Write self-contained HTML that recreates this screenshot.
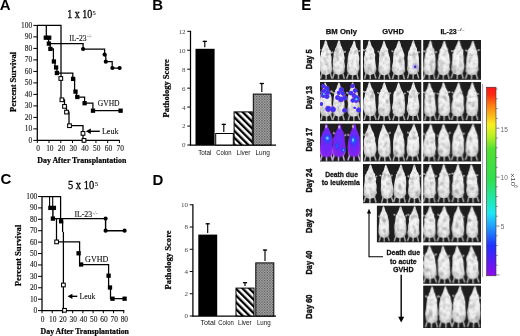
<!DOCTYPE html>
<html><head><meta charset="utf-8"><style>
html,body{margin:0;padding:0;background:#fff;width:520px;height:336px;overflow:hidden}
svg{display:block;will-change:transform}
.S{font-family:"Liberation Serif",serif}
.A{font-family:"Liberation Sans",sans-serif}
</style></head><body>
<svg width="520" height="336" viewBox="0 0 520 336">
<defs>
<pattern id="stripe" patternUnits="userSpaceOnUse" width="4.8" height="4.8" patternTransform="rotate(-45)">
<rect width="4.8" height="4.8" fill="#fff"/><rect width="2.3" height="4.8" fill="#000"/></pattern>
<pattern id="dots" patternUnits="userSpaceOnUse" width="1.6" height="1.6">
<rect width="1.6" height="1.6" fill="#b8b8b8"/><rect width="0.8" height="0.8" fill="#4a4a4a"/><rect x="0.8" y="0.8" width="0.8" height="0.8" fill="#6a6a6a"/></pattern>
<radialGradient id="tx"><stop offset="0" stop-color="#000" stop-opacity="0.8"/><stop offset="1" stop-color="#000" stop-opacity="0"/></radialGradient>
<radialGradient id="mg" cx="0.5" cy="0.48" r="0.62"><stop offset="0" stop-color="#fafafa"/><stop offset="0.6" stop-color="#eeeeee"/><stop offset="0.85" stop-color="#d0d0d0"/><stop offset="1" stop-color="#949494"/></radialGradient>
<radialGradient id="mp" cx="0.5" cy="0.5" r="0.6"><stop offset="0" stop-color="#6030ff"/><stop offset="0.55" stop-color="#7424f4"/><stop offset="0.88" stop-color="#8a26ee"/><stop offset="1" stop-color="#c070e8"/></radialGradient>
<radialGradient id="bb"><stop offset="0" stop-color="#2a4cff"/><stop offset="0.45" stop-color="#3430f6"/><stop offset="0.75" stop-color="#7030ec" stop-opacity="0.92"/><stop offset="1" stop-color="#b070e8" stop-opacity="0"/></radialGradient>
<radialGradient id="bb2"><stop offset="0" stop-color="#2f5cff"/><stop offset="0.7" stop-color="#3838f8" stop-opacity="0.8"/><stop offset="1" stop-color="#5030f0" stop-opacity="0"/></radialGradient>
<radialGradient id="bl"><stop offset="0" stop-color="#8a70e8" stop-opacity="0.8"/><stop offset="0.6" stop-color="#a090e8" stop-opacity="0.5"/><stop offset="1" stop-color="#c0b0f0" stop-opacity="0"/></radialGradient>
<radialGradient id="bd"><stop offset="0" stop-color="#1a1a90"/><stop offset="0.6" stop-color="#3a30b0" stop-opacity="0.8"/><stop offset="1" stop-color="#5040c0" stop-opacity="0"/></radialGradient>
<radialGradient id="wp"><stop offset="0" stop-color="#f0d8f0"/><stop offset="0.6" stop-color="#d8a8f0" stop-opacity="0.7"/><stop offset="1" stop-color="#b080f0" stop-opacity="0"/></radialGradient>
<radialGradient id="bc"><stop offset="0" stop-color="#8ef0ff"/><stop offset="0.5" stop-color="#40b8ff"/><stop offset="1" stop-color="#3060ff" stop-opacity="0"/></radialGradient>
<linearGradient id="cb" x1="0" y1="0" x2="0" y2="1">
<stop offset="0" stop-color="#ff1414"/><stop offset="0.04" stop-color="#ff2a12"/><stop offset="0.095" stop-color="#ff7a12"/>
<stop offset="0.2" stop-color="#f8f020"/><stop offset="0.26" stop-color="#b8f024"/><stop offset="0.33" stop-color="#50e030"/>
<stop offset="0.49" stop-color="#30e050"/><stop offset="0.6" stop-color="#20e8b0"/><stop offset="0.667" stop-color="#20e8f4"/>
<stop offset="0.73" stop-color="#20a8ff"/><stop offset="0.84" stop-color="#2030ff"/><stop offset="0.97" stop-color="#7a10f0"/><stop offset="1" stop-color="#8a10e8"/></linearGradient>
<filter id="fur" x="0" y="0" width="100%" height="100%" color-interpolation-filters="sRGB">
<feTurbulence type="fractalNoise" baseFrequency="0.3" numOctaves="2" seed="4" result="n"/>
<feColorMatrix in="n" type="matrix" values="0 0 0 0 0  0 0 0 0 0  0 0 0 0 0  0.42 0 0 0 -0.19" result="a"/>
<feComposite in="a" in2="SourceAlpha" operator="in" result="d"/>
<feMerge><feMergeNode in="SourceGraphic"/><feMergeNode in="d"/></feMerge>
</filter>
<path id="mouse" d="M0.3,0.0C0.4,0.2 0.8,0.7 0.9,1.0C1.1,1.3 1.1,1.7 1.2,2.0C1.3,2.3 1.4,2.7 1.5,3.0C1.6,3.3 1.7,3.7 1.8,4.0C1.9,4.3 2.0,4.7 2.1,5.0C2.2,5.3 2.4,5.7 2.5,6.0C2.6,6.3 2.8,6.7 3.0,7.0C3.2,7.3 3.3,7.7 3.5,8.0C3.7,8.3 3.9,8.7 4.0,9.0C4.2,9.3 4.2,9.5 4.4,10.0C4.6,10.5 4.8,11.3 4.9,12.0C5.1,12.7 5.2,13.2 5.3,14.0C5.4,14.8 5.5,15.8 5.6,17.0C5.7,18.2 5.8,19.7 5.9,21.0C6.0,22.3 6.2,23.8 6.2,25.0C6.2,26.2 6.2,27.2 6.2,28.0C6.2,28.8 6.1,29.4 5.9,30.0C5.7,30.6 5.5,31.1 5.2,31.5C4.9,31.9 4.6,32.2 4.2,32.5C3.8,32.8 3.2,33.1 2.6,33.3C2.0,33.5 1.1,33.7 0.6,33.8C0.1,33.9 -0.1,33.9 -0.6,33.8C-1.1,33.7 -2.0,33.5 -2.6,33.3C-3.2,33.1 -3.8,32.8 -4.2,32.5C-4.6,32.2 -4.9,31.9 -5.2,31.5C-5.5,31.1 -5.7,30.6 -5.9,30.0C-6.1,29.4 -6.2,28.8 -6.2,28.0C-6.2,27.2 -6.2,26.2 -6.2,25.0C-6.2,23.8 -6.0,22.3 -5.9,21.0C-5.8,19.7 -5.7,18.2 -5.6,17.0C-5.5,15.8 -5.4,14.8 -5.3,14.0C-5.2,13.2 -5.1,12.7 -4.9,12.0C-4.8,11.3 -4.6,10.5 -4.4,10.0C-4.2,9.5 -4.2,9.3 -4.0,9.0C-3.9,8.7 -3.7,8.3 -3.5,8.0C-3.3,7.7 -3.2,7.3 -3.0,7.0C-2.8,6.7 -2.6,6.3 -2.5,6.0C-2.4,5.7 -2.2,5.3 -2.1,5.0C-2.0,4.7 -1.9,4.3 -1.8,4.0C-1.7,3.7 -1.6,3.3 -1.5,3.0C-1.4,2.7 -1.3,2.3 -1.2,2.0C-1.1,1.7 -1.1,1.3 -0.9,1.0C-0.8,0.7 -0.4,0.2 -0.3,0.0Z"/>
</defs>
<text class="A" x="-0.2" y="9.6" font-size="15" font-weight="bold" text-anchor="start" fill="#000" >A</text>
<text class="A" x="152.2" y="10.2" font-size="15" font-weight="bold" text-anchor="start" fill="#000" >B</text>
<text class="A" x="0.6" y="183.6" font-size="15" font-weight="bold" text-anchor="start" fill="#000" >C</text>
<text class="A" x="152.6" y="184.5" font-size="15" font-weight="bold" text-anchor="start" fill="#000" >D</text>
<text class="A" x="301.3" y="10.2" font-size="15" font-weight="bold" text-anchor="start" fill="#000" >E</text>
<line x1="37.3" y1="24.9" x2="37.3" y2="140.9" stroke="#000" stroke-width="1.25"/>
<line x1="36.8" y1="140.4" x2="119.8" y2="140.4" stroke="#000" stroke-width="1.25"/>
<line x1="33.3" y1="140.4" x2="37.3" y2="140.4" stroke="#000" stroke-width="1"/>
<text class="S" x="32.2" y="142.9" font-size="7.4" font-weight="normal" text-anchor="end" fill="#1a1a1a" stroke="#1a1a1a" stroke-width="0.12">0</text>
<line x1="33.3" y1="128.9" x2="37.3" y2="128.9" stroke="#000" stroke-width="1"/>
<text class="S" x="32.2" y="131.4" font-size="7.4" font-weight="normal" text-anchor="end" fill="#1a1a1a" stroke="#1a1a1a" stroke-width="0.12">10</text>
<line x1="33.3" y1="117.4" x2="37.3" y2="117.4" stroke="#000" stroke-width="1"/>
<text class="S" x="32.2" y="119.9" font-size="7.4" font-weight="normal" text-anchor="end" fill="#1a1a1a" stroke="#1a1a1a" stroke-width="0.12">20</text>
<line x1="33.3" y1="105.9" x2="37.3" y2="105.9" stroke="#000" stroke-width="1"/>
<text class="S" x="32.2" y="108.4" font-size="7.4" font-weight="normal" text-anchor="end" fill="#1a1a1a" stroke="#1a1a1a" stroke-width="0.12">30</text>
<line x1="33.3" y1="94.4" x2="37.3" y2="94.4" stroke="#000" stroke-width="1"/>
<text class="S" x="32.2" y="96.9" font-size="7.4" font-weight="normal" text-anchor="end" fill="#1a1a1a" stroke="#1a1a1a" stroke-width="0.12">40</text>
<line x1="33.3" y1="82.9" x2="37.3" y2="82.9" stroke="#000" stroke-width="1"/>
<text class="S" x="32.2" y="85.4" font-size="7.4" font-weight="normal" text-anchor="end" fill="#1a1a1a" stroke="#1a1a1a" stroke-width="0.12">50</text>
<line x1="33.3" y1="71.4" x2="37.3" y2="71.4" stroke="#000" stroke-width="1"/>
<text class="S" x="32.2" y="73.9" font-size="7.4" font-weight="normal" text-anchor="end" fill="#1a1a1a" stroke="#1a1a1a" stroke-width="0.12">60</text>
<line x1="33.3" y1="59.900000000000006" x2="37.3" y2="59.900000000000006" stroke="#000" stroke-width="1"/>
<text class="S" x="32.2" y="62.400000000000006" font-size="7.4" font-weight="normal" text-anchor="end" fill="#1a1a1a" stroke="#1a1a1a" stroke-width="0.12">70</text>
<line x1="33.3" y1="48.400000000000006" x2="37.3" y2="48.400000000000006" stroke="#000" stroke-width="1"/>
<text class="S" x="32.2" y="50.900000000000006" font-size="7.4" font-weight="normal" text-anchor="end" fill="#1a1a1a" stroke="#1a1a1a" stroke-width="0.12">80</text>
<line x1="33.3" y1="36.900000000000006" x2="37.3" y2="36.900000000000006" stroke="#000" stroke-width="1"/>
<text class="S" x="32.2" y="39.400000000000006" font-size="7.4" font-weight="normal" text-anchor="end" fill="#1a1a1a" stroke="#1a1a1a" stroke-width="0.12">90</text>
<line x1="33.3" y1="25.400000000000006" x2="37.3" y2="25.400000000000006" stroke="#000" stroke-width="1"/>
<text class="S" x="32.2" y="27.900000000000006" font-size="7.4" font-weight="normal" text-anchor="end" fill="#1a1a1a" stroke="#1a1a1a" stroke-width="0.12">100</text>
<line x1="37.3" y1="140.4" x2="37.3" y2="143.0" stroke="#000" stroke-width="1"/>
<text class="S" x="38.099999999999994" y="151.4" font-size="7.4" font-weight="normal" text-anchor="middle" fill="#1a1a1a" stroke="#1a1a1a" stroke-width="0.12">0</text>
<line x1="49.03" y1="140.4" x2="49.03" y2="143.0" stroke="#000" stroke-width="1"/>
<text class="S" x="49.83" y="151.4" font-size="7.4" font-weight="normal" text-anchor="middle" fill="#1a1a1a" stroke="#1a1a1a" stroke-width="0.12">10</text>
<line x1="60.76" y1="140.4" x2="60.76" y2="143.0" stroke="#000" stroke-width="1"/>
<text class="S" x="61.559999999999995" y="151.4" font-size="7.4" font-weight="normal" text-anchor="middle" fill="#1a1a1a" stroke="#1a1a1a" stroke-width="0.12">20</text>
<line x1="72.49" y1="140.4" x2="72.49" y2="143.0" stroke="#000" stroke-width="1"/>
<text class="S" x="73.28999999999999" y="151.4" font-size="7.4" font-weight="normal" text-anchor="middle" fill="#1a1a1a" stroke="#1a1a1a" stroke-width="0.12">30</text>
<line x1="84.22" y1="140.4" x2="84.22" y2="143.0" stroke="#000" stroke-width="1"/>
<text class="S" x="85.02" y="151.4" font-size="7.4" font-weight="normal" text-anchor="middle" fill="#1a1a1a" stroke="#1a1a1a" stroke-width="0.12">40</text>
<line x1="95.95" y1="140.4" x2="95.95" y2="143.0" stroke="#000" stroke-width="1"/>
<text class="S" x="96.75" y="151.4" font-size="7.4" font-weight="normal" text-anchor="middle" fill="#1a1a1a" stroke="#1a1a1a" stroke-width="0.12">50</text>
<line x1="107.67999999999999" y1="140.4" x2="107.67999999999999" y2="143.0" stroke="#000" stroke-width="1"/>
<text class="S" x="108.47999999999999" y="151.4" font-size="7.4" font-weight="normal" text-anchor="middle" fill="#1a1a1a" stroke="#1a1a1a" stroke-width="0.12">60</text>
<line x1="119.41" y1="140.4" x2="119.41" y2="143.0" stroke="#000" stroke-width="1"/>
<text class="S" x="120.21" y="151.4" font-size="7.4" font-weight="normal" text-anchor="middle" fill="#1a1a1a" stroke="#1a1a1a" stroke-width="0.12">70</text>
<text class="S" x="37.3" y="162.7" font-size="8.3" font-weight="bold" text-anchor="start" fill="#000" textLength="89" lengthAdjust="spacingAndGlyphs" stroke="#000" stroke-width="0.22">Day After Transplantation</text>
<g transform="translate(16.2,112) rotate(-90)">
<text class="S" x="0" y="0" font-size="8.6" font-weight="bold" text-anchor="start" fill="#000" textLength="60" lengthAdjust="spacingAndGlyphs" stroke="#000" stroke-width="0.22">Percent Survival</text>
</g>
<text class="S" x="67.2" y="17.9" font-size="12" font-weight="normal" text-anchor="start" fill="#000" textLength="25.0" lengthAdjust="spacingAndGlyphs" stroke="#000" stroke-width="0.3">1 x 10</text>
<text class="S" x="92.6" y="14.9" font-size="6.4" font-weight="normal" text-anchor="start" fill="#222" stroke="#222" stroke-width="0.15">5</text>
<path d="M37.3,25.4 H61 V99.8 H64.5 V106.4 H66.5 V112.1 H69 V125.7 H83 V140.4" stroke="#000" stroke-width="1.25" fill="none" />
<path d="M46.3,25.4 V37.7 H48.7 V43.7 H50.2 V48.9 H53.4 V61.5 H55 V67.5 H56.9 V73 H72.8 V79 H74.6 V91.6 H76.5 V97 H84.6 V103.2 H92.9 V110.7 H120.6" stroke="#000" stroke-width="1.25" fill="none" />
<path d="M48.7,43.7 H83.1 V49 H104.6 V54.6 H105.8 V61.7 H112.2 V68 H119.6" stroke="#000" stroke-width="1.25" fill="none" />
<rect x="43.65" y="35.55" width="4.3" height="4.3" fill="#000"/>
<rect x="47.05" y="35.55" width="4.3" height="4.3" fill="#000"/>
<rect x="46.75" y="41.45" width="4.3" height="4.3" fill="#000"/>
<rect x="48.25" y="46.75" width="4.3" height="4.3" fill="#000"/>
<rect x="51.75" y="59.35" width="4.3" height="4.3" fill="#000"/>
<rect x="53.95" y="65.35" width="4.3" height="4.3" fill="#000"/>
<rect x="54.75" y="70.85" width="4.3" height="4.3" fill="#000"/>
<rect x="70.95" y="76.75" width="4.3" height="4.3" fill="#000"/>
<rect x="73.35" y="89.45" width="4.3" height="4.3" fill="#000"/>
<rect x="75.15" y="94.85" width="4.3" height="4.3" fill="#000"/>
<rect x="82.45" y="101.05" width="4.3" height="4.3" fill="#000"/>
<rect x="90.85" y="108.55" width="4.3" height="4.3" fill="#000"/>
<rect x="118.45" y="108.55" width="4.3" height="4.3" fill="#000"/>
<circle cx="83.1" cy="49" r="2.1" fill="#000"/>
<circle cx="104.6" cy="54.6" r="2.1" fill="#000"/>
<circle cx="105.8" cy="61.7" r="2.1" fill="#000"/>
<circle cx="112.4" cy="68" r="2.1" fill="#000"/>
<circle cx="119.6" cy="68" r="2.1" fill="#000"/>
<rect x="58.95" y="76.65" width="3.7" height="3.7" fill="#fff" stroke="#000" stroke-width="1.05"/>
<rect x="60.05" y="97.95" width="3.7" height="3.7" fill="#fff" stroke="#000" stroke-width="1.05"/>
<rect x="62.65" y="104.55" width="3.7" height="3.7" fill="#fff" stroke="#000" stroke-width="1.05"/>
<rect x="64.65" y="110.25" width="3.7" height="3.7" fill="#fff" stroke="#000" stroke-width="1.05"/>
<rect x="67.65" y="123.85" width="3.7" height="3.7" fill="#fff" stroke="#000" stroke-width="1.05"/>
<rect x="81.15" y="131.55" width="3.7" height="3.7" fill="#fff" stroke="#000" stroke-width="1.05"/>
<rect x="82.15" y="138.55" width="3.7" height="3.7" fill="#fff" stroke="#000" stroke-width="1.05"/>
<text class="S" x="69.2" y="40.8" font-size="8.6" font-weight="normal" text-anchor="start" fill="#222" textLength="17.3" lengthAdjust="spacingAndGlyphs" stroke="#222" stroke-width="0.15">IL-23</text>
<text class="S" x="87.0" y="37.6" font-size="5.6" font-weight="normal" text-anchor="start" fill="#555" textLength="4.8" lengthAdjust="spacingAndGlyphs" >-/-</text>
<text class="S" x="97.7" y="106.2" font-size="8.6" font-weight="normal" text-anchor="start" fill="#111" textLength="21.9" lengthAdjust="spacingAndGlyphs" stroke="#111" stroke-width="0.12">GVHD</text>
<text class="S" x="101.9" y="134.3" font-size="8.6" font-weight="normal" text-anchor="start" fill="#111" textLength="16.6" lengthAdjust="spacingAndGlyphs" stroke="#111" stroke-width="0.12">Leuk</text>
<line x1="89" y1="131.3" x2="99.8" y2="131.3" stroke="#000" stroke-width="1.4"/>
<path d="M85.8,131.3 L90.8,128.6 L90.8,134 Z" fill="#000"/>
<line x1="42" y1="196.0" x2="42" y2="311.1" stroke="#000" stroke-width="1.25"/>
<line x1="41.5" y1="310.6" x2="124.3" y2="310.6" stroke="#000" stroke-width="1.25"/>
<line x1="38" y1="310.6" x2="42" y2="310.6" stroke="#000" stroke-width="1"/>
<text class="S" x="37.3" y="313.1" font-size="7.4" font-weight="normal" text-anchor="end" fill="#1a1a1a" stroke="#1a1a1a" stroke-width="0.12">0</text>
<line x1="38" y1="299.19" x2="42" y2="299.19" stroke="#000" stroke-width="1"/>
<text class="S" x="37.3" y="301.69" font-size="7.4" font-weight="normal" text-anchor="end" fill="#1a1a1a" stroke="#1a1a1a" stroke-width="0.12">10</text>
<line x1="38" y1="287.78000000000003" x2="42" y2="287.78000000000003" stroke="#000" stroke-width="1"/>
<text class="S" x="37.3" y="290.28000000000003" font-size="7.4" font-weight="normal" text-anchor="end" fill="#1a1a1a" stroke="#1a1a1a" stroke-width="0.12">20</text>
<line x1="38" y1="276.37" x2="42" y2="276.37" stroke="#000" stroke-width="1"/>
<text class="S" x="37.3" y="278.87" font-size="7.4" font-weight="normal" text-anchor="end" fill="#1a1a1a" stroke="#1a1a1a" stroke-width="0.12">30</text>
<line x1="38" y1="264.96000000000004" x2="42" y2="264.96000000000004" stroke="#000" stroke-width="1"/>
<text class="S" x="37.3" y="267.46000000000004" font-size="7.4" font-weight="normal" text-anchor="end" fill="#1a1a1a" stroke="#1a1a1a" stroke-width="0.12">40</text>
<line x1="38" y1="253.55" x2="42" y2="253.55" stroke="#000" stroke-width="1"/>
<text class="S" x="37.3" y="256.05" font-size="7.4" font-weight="normal" text-anchor="end" fill="#1a1a1a" stroke="#1a1a1a" stroke-width="0.12">50</text>
<line x1="38" y1="242.14000000000001" x2="42" y2="242.14000000000001" stroke="#000" stroke-width="1"/>
<text class="S" x="37.3" y="244.64000000000001" font-size="7.4" font-weight="normal" text-anchor="end" fill="#1a1a1a" stroke="#1a1a1a" stroke-width="0.12">60</text>
<line x1="38" y1="230.73000000000002" x2="42" y2="230.73000000000002" stroke="#000" stroke-width="1"/>
<text class="S" x="37.3" y="233.23000000000002" font-size="7.4" font-weight="normal" text-anchor="end" fill="#1a1a1a" stroke="#1a1a1a" stroke-width="0.12">70</text>
<line x1="38" y1="219.32" x2="42" y2="219.32" stroke="#000" stroke-width="1"/>
<text class="S" x="37.3" y="221.82" font-size="7.4" font-weight="normal" text-anchor="end" fill="#1a1a1a" stroke="#1a1a1a" stroke-width="0.12">80</text>
<line x1="38" y1="207.91000000000003" x2="42" y2="207.91000000000003" stroke="#000" stroke-width="1"/>
<text class="S" x="37.3" y="210.41000000000003" font-size="7.4" font-weight="normal" text-anchor="end" fill="#1a1a1a" stroke="#1a1a1a" stroke-width="0.12">90</text>
<line x1="38" y1="196.5" x2="42" y2="196.5" stroke="#000" stroke-width="1"/>
<text class="S" x="37.3" y="199.0" font-size="7.4" font-weight="normal" text-anchor="end" fill="#1a1a1a" stroke="#1a1a1a" stroke-width="0.12">100</text>
<line x1="42.0" y1="310.6" x2="42.0" y2="313.20000000000005" stroke="#000" stroke-width="1"/>
<text class="S" x="42.6" y="322" font-size="7.4" font-weight="normal" text-anchor="middle" fill="#1a1a1a" stroke="#1a1a1a" stroke-width="0.12">0</text>
<line x1="52.22" y1="310.6" x2="52.22" y2="313.20000000000005" stroke="#000" stroke-width="1"/>
<text class="S" x="52.82" y="322" font-size="7.4" font-weight="normal" text-anchor="middle" fill="#1a1a1a" stroke="#1a1a1a" stroke-width="0.12">10</text>
<line x1="62.44" y1="310.6" x2="62.44" y2="313.20000000000005" stroke="#000" stroke-width="1"/>
<text class="S" x="63.04" y="322" font-size="7.4" font-weight="normal" text-anchor="middle" fill="#1a1a1a" stroke="#1a1a1a" stroke-width="0.12">20</text>
<line x1="72.66" y1="310.6" x2="72.66" y2="313.20000000000005" stroke="#000" stroke-width="1"/>
<text class="S" x="73.25999999999999" y="322" font-size="7.4" font-weight="normal" text-anchor="middle" fill="#1a1a1a" stroke="#1a1a1a" stroke-width="0.12">30</text>
<line x1="82.88" y1="310.6" x2="82.88" y2="313.20000000000005" stroke="#000" stroke-width="1"/>
<text class="S" x="83.47999999999999" y="322" font-size="7.4" font-weight="normal" text-anchor="middle" fill="#1a1a1a" stroke="#1a1a1a" stroke-width="0.12">40</text>
<line x1="93.1" y1="310.6" x2="93.1" y2="313.20000000000005" stroke="#000" stroke-width="1"/>
<text class="S" x="93.69999999999999" y="322" font-size="7.4" font-weight="normal" text-anchor="middle" fill="#1a1a1a" stroke="#1a1a1a" stroke-width="0.12">50</text>
<line x1="103.32000000000001" y1="310.6" x2="103.32000000000001" y2="313.20000000000005" stroke="#000" stroke-width="1"/>
<text class="S" x="103.92" y="322" font-size="7.4" font-weight="normal" text-anchor="middle" fill="#1a1a1a" stroke="#1a1a1a" stroke-width="0.12">60</text>
<line x1="113.54" y1="310.6" x2="113.54" y2="313.20000000000005" stroke="#000" stroke-width="1"/>
<text class="S" x="114.14" y="322" font-size="7.4" font-weight="normal" text-anchor="middle" fill="#1a1a1a" stroke="#1a1a1a" stroke-width="0.12">70</text>
<line x1="123.76" y1="310.6" x2="123.76" y2="313.20000000000005" stroke="#000" stroke-width="1"/>
<text class="S" x="124.36" y="322" font-size="7.4" font-weight="normal" text-anchor="middle" fill="#1a1a1a" stroke="#1a1a1a" stroke-width="0.12">80</text>
<text class="S" x="40.6" y="334.4" font-size="8.3" font-weight="bold" text-anchor="start" fill="#000" textLength="88.4" lengthAdjust="spacingAndGlyphs" stroke="#000" stroke-width="0.22">Day After Transplantation</text>
<g transform="translate(21,286.3) rotate(-90)">
<text class="S" x="0" y="0" font-size="8.6" font-weight="bold" text-anchor="start" fill="#000" textLength="61.6" lengthAdjust="spacingAndGlyphs" stroke="#000" stroke-width="0.22">Percent Survival</text>
</g>
<text class="S" x="68.0" y="189.4" font-size="11.8" font-weight="normal" text-anchor="start" fill="#000" textLength="26.2" lengthAdjust="spacingAndGlyphs" stroke="#000" stroke-width="0.3">5 x 10</text>
<text class="S" x="95.0" y="186.0" font-size="6.2" font-weight="normal" text-anchor="start" fill="#222" stroke="#222" stroke-width="0.15">5</text>
<path d="M42,196.5 H60.6 V221 M62.6,221 V232 M63.4,232 V310.6" stroke="#000" stroke-width="1.25" fill="none" />
<path d="M49.6,196.5 V208 M52.7,196.5 V208" stroke="#000" stroke-width="1.1" fill="none" />
<path d="M52.9,208 V218.6 H105.6 V230.7 H124.6" stroke="#000" stroke-width="1.4" fill="none" />
<path d="M56.5,218.6 V241.9 H79.6 V264.5 H108.6 V287.5 H110.5 V298.7 H124.6" stroke="#000" stroke-width="1.25" fill="none" />
<rect x="48.25" y="205.75" width="4.3" height="4.3" fill="#000"/>
<rect x="51.75" y="205.75" width="4.3" height="4.3" fill="#000"/>
<rect x="50.75" y="216.45" width="4.3" height="4.3" fill="#000"/>
<rect x="58.95" y="219.15" width="4.3" height="4.3" fill="#000"/>
<rect x="76.45" y="251.15" width="4.3" height="4.3" fill="#000"/>
<rect x="78.95" y="262.35" width="4.3" height="4.3" fill="#000"/>
<rect x="106.45" y="273.55" width="4.3" height="4.3" fill="#000"/>
<rect x="107.85" y="285.35" width="4.3" height="4.3" fill="#000"/>
<rect x="110.35" y="296.55" width="4.3" height="4.3" fill="#000"/>
<rect x="122.45" y="296.55" width="4.3" height="4.3" fill="#000"/>
<circle cx="105.6" cy="218.6" r="2.1" fill="#000"/>
<circle cx="105.6" cy="230.7" r="2.1" fill="#000"/>
<circle cx="124.6" cy="230.7" r="2.1" fill="#000"/>
<rect x="54.75" y="240.05" width="3.7" height="3.7" fill="#fff" stroke="#000" stroke-width="1.05"/>
<rect x="61.55" y="283.15" width="3.7" height="3.7" fill="#fff" stroke="#000" stroke-width="1.05"/>
<rect x="62.65" y="308.45" width="3.7" height="3.7" fill="#fff" stroke="#000" stroke-width="1.05"/>
<text class="S" x="74.4" y="216.9" font-size="8.6" font-weight="normal" text-anchor="start" fill="#222" textLength="17.8" lengthAdjust="spacingAndGlyphs" stroke="#222" stroke-width="0.15">IL-23</text>
<text class="S" x="92.6" y="214.5" font-size="5.6" font-weight="normal" text-anchor="start" fill="#555" textLength="4.9" lengthAdjust="spacingAndGlyphs" >-/-</text>
<text class="S" x="85.1" y="262.2" font-size="8.6" font-weight="normal" text-anchor="start" fill="#111" textLength="23.2" lengthAdjust="spacingAndGlyphs" stroke="#111" stroke-width="0.12">GVHD</text>
<text class="S" x="79.6" y="299" font-size="8.6" font-weight="normal" text-anchor="start" fill="#111" textLength="15.8" lengthAdjust="spacingAndGlyphs" stroke="#111" stroke-width="0.12">Leuk</text>
<line x1="70.5" y1="296.3" x2="77.3" y2="296.3" stroke="#000" stroke-width="1.4"/>
<path d="M67.6,296.3 L72.4,293.7 L72.4,298.9 Z" fill="#000"/>
<line x1="190.5" y1="30.8" x2="190.5" y2="145.5" stroke="#000" stroke-width="1.25"/>
<line x1="190.0" y1="145" x2="276" y2="145" stroke="#000" stroke-width="1.25"/>
<line x1="187.3" y1="145.0" x2="190.5" y2="145.0" stroke="#000" stroke-width="1"/>
<text class="S" x="185.5" y="147.4" font-size="7.0" font-weight="normal" text-anchor="end" fill="#444" >0</text>
<line x1="187.3" y1="126.05" x2="190.5" y2="126.05" stroke="#000" stroke-width="1"/>
<text class="S" x="185.5" y="128.45" font-size="7.0" font-weight="normal" text-anchor="end" fill="#444" >2</text>
<line x1="187.3" y1="107.1" x2="190.5" y2="107.1" stroke="#000" stroke-width="1"/>
<text class="S" x="185.5" y="109.5" font-size="7.0" font-weight="normal" text-anchor="end" fill="#444" >4</text>
<line x1="187.3" y1="88.15" x2="190.5" y2="88.15" stroke="#000" stroke-width="1"/>
<text class="S" x="185.5" y="90.55000000000001" font-size="7.0" font-weight="normal" text-anchor="end" fill="#444" >6</text>
<line x1="187.3" y1="69.2" x2="190.5" y2="69.2" stroke="#000" stroke-width="1"/>
<text class="S" x="185.5" y="71.60000000000001" font-size="7.0" font-weight="normal" text-anchor="end" fill="#444" >8</text>
<line x1="187.3" y1="50.25" x2="190.5" y2="50.25" stroke="#000" stroke-width="1"/>
<text class="S" x="185.5" y="52.65" font-size="7.0" font-weight="normal" text-anchor="end" fill="#444" >10</text>
<line x1="187.3" y1="31.30000000000001" x2="190.5" y2="31.30000000000001" stroke="#000" stroke-width="1"/>
<text class="S" x="185.5" y="33.70000000000001" font-size="7.0" font-weight="normal" text-anchor="end" fill="#444" >12</text>
<rect x="195.5" y="48.8" width="19.099999999999994" height="96.2" fill="#000"/>
<rect x="215.7" y="133.5" width="17.600000000000023" height="11.5" fill="#fff" stroke="#000" stroke-width="1"/>
<rect x="234.1" y="111.9" width="18.200000000000017" height="33.099999999999994" fill="url(#stripe)" stroke="#000" stroke-width="1"/>
<rect x="253.3" y="94.1" width="17.80000000000001" height="50.900000000000006" fill="url(#dots)" stroke="#000" stroke-width="1"/>
<line x1="204.8" y1="47.3" x2="204.8" y2="40.8" stroke="#000" stroke-width="1.15"/>
<line x1="202.70000000000002" y1="41.4" x2="206.9" y2="41.4" stroke="#000" stroke-width="1.3"/>
<line x1="223.8" y1="132.0" x2="223.8" y2="123.8" stroke="#000" stroke-width="1.15"/>
<line x1="221.70000000000002" y1="124.39999999999999" x2="225.9" y2="124.39999999999999" stroke="#000" stroke-width="1.3"/>
<line x1="261.8" y1="92.1" x2="261.8" y2="82.9" stroke="#000" stroke-width="1.15"/>
<line x1="259.7" y1="83.5" x2="263.90000000000003" y2="83.5" stroke="#000" stroke-width="1.3"/>
<text class="A" x="198.2" y="154.6" font-size="6.6" font-weight="normal" text-anchor="start" fill="#111" textLength="13.300000000000011" lengthAdjust="spacingAndGlyphs" >Total</text>
<text class="A" x="216.2" y="154.6" font-size="6.6" font-weight="normal" text-anchor="start" fill="#111" textLength="15.300000000000011" lengthAdjust="spacingAndGlyphs" >Colon</text>
<text class="A" x="236.6" y="154.6" font-size="6.6" font-weight="normal" text-anchor="start" fill="#111" textLength="13.900000000000006" lengthAdjust="spacingAndGlyphs" >Liver</text>
<text class="A" x="255.5" y="154.6" font-size="6.6" font-weight="normal" text-anchor="start" fill="#111" textLength="14.5" lengthAdjust="spacingAndGlyphs" >Lung</text>
<g transform="translate(168.6,117.5) rotate(-90)">
<text class="S" x="0" y="0" font-size="8.5" font-weight="bold" text-anchor="start" fill="#000" textLength="58.3" lengthAdjust="spacingAndGlyphs" stroke="#000" stroke-width="0.22">Pathology Score</text>
</g>
<line x1="192.9" y1="204.3" x2="192.9" y2="316.5" stroke="#000" stroke-width="1.25"/>
<line x1="192.4" y1="316" x2="276" y2="316" stroke="#000" stroke-width="1.25"/>
<line x1="189.70000000000002" y1="316.0" x2="192.9" y2="316.0" stroke="#000" stroke-width="1"/>
<text class="S" x="187.9" y="318.4" font-size="7.0" font-weight="normal" text-anchor="end" fill="#444" >0</text>
<line x1="189.70000000000002" y1="293.76" x2="192.9" y2="293.76" stroke="#000" stroke-width="1"/>
<text class="S" x="187.9" y="296.15999999999997" font-size="7.0" font-weight="normal" text-anchor="end" fill="#444" >2</text>
<line x1="189.70000000000002" y1="271.52" x2="192.9" y2="271.52" stroke="#000" stroke-width="1"/>
<text class="S" x="187.9" y="273.91999999999996" font-size="7.0" font-weight="normal" text-anchor="end" fill="#444" >4</text>
<line x1="189.70000000000002" y1="249.28" x2="192.9" y2="249.28" stroke="#000" stroke-width="1"/>
<text class="S" x="187.9" y="251.68" font-size="7.0" font-weight="normal" text-anchor="end" fill="#444" >6</text>
<line x1="189.70000000000002" y1="227.04000000000002" x2="192.9" y2="227.04000000000002" stroke="#000" stroke-width="1"/>
<text class="S" x="187.9" y="229.44000000000003" font-size="7.0" font-weight="normal" text-anchor="end" fill="#444" >8</text>
<line x1="189.70000000000002" y1="204.8" x2="192.9" y2="204.8" stroke="#000" stroke-width="1"/>
<text class="S" x="187.9" y="207.20000000000002" font-size="7.0" font-weight="normal" text-anchor="end" fill="#444" >10</text>
<rect x="198.3" y="234.6" width="18.899999999999977" height="81.4" fill="#000"/>
<rect x="236.0" y="288.1" width="18.0" height="27.899999999999977" fill="url(#stripe)" stroke="#000" stroke-width="1"/>
<rect x="255.8" y="262.9" width="18.0" height="53.10000000000002" fill="url(#dots)" stroke="#000" stroke-width="1"/>
<line x1="207.7" y1="233.1" x2="207.7" y2="223.2" stroke="#000" stroke-width="1.15"/>
<line x1="205.6" y1="223.79999999999998" x2="209.79999999999998" y2="223.79999999999998" stroke="#000" stroke-width="1.3"/>
<line x1="245" y1="286.1" x2="245" y2="282.1" stroke="#000" stroke-width="1.15"/>
<line x1="242.9" y1="282.70000000000005" x2="247.1" y2="282.70000000000005" stroke="#000" stroke-width="1.3"/>
<line x1="265" y1="260.9" x2="265" y2="249.5" stroke="#000" stroke-width="1.15"/>
<line x1="262.9" y1="250.1" x2="267.1" y2="250.1" stroke="#000" stroke-width="1.3"/>
<text class="A" x="200.5" y="325" font-size="6.6" font-weight="normal" text-anchor="start" fill="#111" textLength="15.0" lengthAdjust="spacingAndGlyphs" >Total</text>
<text class="A" x="218.3" y="325" font-size="6.6" font-weight="normal" text-anchor="start" fill="#111" textLength="15.5" lengthAdjust="spacingAndGlyphs" >Colon</text>
<text class="A" x="237.9" y="325" font-size="6.6" font-weight="normal" text-anchor="start" fill="#111" textLength="13.799999999999983" lengthAdjust="spacingAndGlyphs" >Liver</text>
<text class="A" x="256.9" y="325" font-size="6.6" font-weight="normal" text-anchor="start" fill="#111" textLength="13.800000000000011" lengthAdjust="spacingAndGlyphs" >Lung</text>
<g transform="translate(170.8,289.5) rotate(-90)">
<text class="S" x="0" y="0" font-size="8.5" font-weight="bold" text-anchor="start" fill="#000" textLength="59.099999999999994" lengthAdjust="spacingAndGlyphs" stroke="#000" stroke-width="0.22">Pathology Score</text>
</g>
<rect x="320" y="40" width="40.60000000000002" height="39.8" fill="#1e1e1e"/>
<svg x="320" y="40" width="40.60000000000002" height="39.8" overflow="hidden">
<g filter="url(#fur)">
<g transform="translate(5.90,0.31) rotate(-0.7,0,19.9) scale(1.001,1.026)">
<path d="M3.6,30 L5.8,37.4 M-3.6,30 L-5.8,37.4 M0,32 L0,38" stroke="#b0b0b0" stroke-width="1.5" fill="none"/>
<path d="M0.3,0.0C0.4,0.2 0.8,0.7 1.0,1.0C1.2,1.3 1.2,1.7 1.3,2.0C1.4,2.3 1.6,2.7 1.6,3.0C1.7,3.3 1.6,3.7 1.7,4.0C1.8,4.3 2.1,4.7 2.2,5.0C2.4,5.3 2.4,5.7 2.5,6.0C2.6,6.3 2.7,6.7 2.9,7.0C3.1,7.3 3.5,7.7 3.6,8.0C3.7,8.3 3.4,8.7 3.6,9.0C3.8,9.3 4.6,9.5 4.8,10.0C5.1,10.5 5.1,11.3 5.2,12.0C5.2,12.7 4.9,13.2 5.0,14.0C5.1,14.8 5.8,15.8 5.8,17.0C5.9,18.2 5.5,19.7 5.5,21.0C5.5,22.3 5.7,23.8 5.8,25.0C5.9,26.2 6.0,27.2 6.0,28.0C6.1,28.8 6.4,29.4 6.3,30.0C6.3,30.6 6.1,31.1 5.6,31.5C5.2,31.9 4.4,32.2 3.8,32.5C3.2,32.8 2.7,33.1 2.2,33.3C1.6,33.5 1.0,33.7 0.5,33.8C0.0,33.9 -0.2,33.9 -0.7,33.8C-1.2,33.7 -1.7,33.5 -2.3,33.3C-2.9,33.1 -3.8,32.8 -4.3,32.5C-4.7,32.2 -4.8,31.9 -5.0,31.5C-5.3,31.1 -5.7,30.6 -5.9,30.0C-6.2,29.4 -6.5,28.8 -6.5,28.0C-6.6,27.2 -6.5,26.2 -6.4,25.0C-6.3,23.8 -6.1,22.3 -6.0,21.0C-5.9,19.7 -6.1,18.2 -5.9,17.0C-5.8,15.8 -5.3,14.8 -5.1,14.0C-4.9,13.2 -5.0,12.7 -4.8,12.0C-4.6,11.3 -4.1,10.5 -4.0,10.0C-3.9,9.5 -4.4,9.3 -4.3,9.0C-4.2,8.7 -3.5,8.3 -3.3,8.0C-3.1,7.7 -3.2,7.3 -3.1,7.0C-3.0,6.7 -2.7,6.3 -2.6,6.0C-2.4,5.7 -2.3,5.3 -2.2,5.0C-2.1,4.7 -2.0,4.3 -1.9,4.0C-1.8,3.7 -1.6,3.3 -1.5,3.0C-1.4,2.7 -1.4,2.3 -1.3,2.0C-1.2,1.7 -1.1,1.3 -0.9,1.0C-0.8,0.7 -0.4,0.2 -0.3,0.0Z" fill="url(#mg)"/>
<ellipse cx="-6.1" cy="9.1" rx="1.3" ry="0.9" fill="#b0b0b0" transform="rotate(30,-6.1,9.1)"/>
<ellipse cx="6.1" cy="11.9" rx="1.3" ry="0.9" fill="#b0b0b0" transform="rotate(-30,6.1,11.9)"/>
<ellipse cx="-0.8" cy="18.7" rx="2.5" ry="3.8" fill="url(#tx)" opacity="0.20"/>
<ellipse cx="0.4" cy="22.0" rx="3.1" ry="3.5" fill="url(#tx)" opacity="0.18"/>
<ellipse cx="1.4" cy="14.0" rx="2.2" ry="4.5" fill="url(#tx)" opacity="0.19"/>
<ellipse cx="0.3" cy="9.2" rx="2.4" ry="3.7" fill="url(#tx)" opacity="0.12"/>
</g>
<g transform="translate(18.70,0.14) rotate(0.8,0,19.9) scale(1.009,1.026)">
<path d="M3.6,30 L5.8,37.4 M-3.6,30 L-5.8,37.4 M0,32 L0,38" stroke="#b0b0b0" stroke-width="1.5" fill="none"/>
<path d="M0.3,0.0C0.4,0.2 0.8,0.7 0.9,1.0C1.1,1.3 1.2,1.7 1.3,2.0C1.3,2.3 1.3,2.7 1.4,3.0C1.5,3.3 1.7,3.7 1.8,4.0C2.0,4.3 1.9,4.7 2.0,5.0C2.1,5.3 2.4,5.7 2.5,6.0C2.7,6.3 2.8,6.7 3.0,7.0C3.1,7.3 3.2,7.7 3.4,8.0C3.5,8.3 3.6,8.7 3.8,9.0C4.0,9.3 4.5,9.5 4.6,10.0C4.8,10.5 4.9,11.3 5.0,12.0C5.0,12.7 5.0,13.2 5.1,14.0C5.3,14.8 5.8,15.8 5.9,17.0C6.0,18.2 5.5,19.7 5.6,21.0C5.7,22.3 6.3,23.8 6.4,25.0C6.4,26.2 6.1,27.2 6.0,28.0C6.0,28.8 6.3,29.4 6.2,30.0C6.1,30.6 5.9,31.1 5.5,31.5C5.2,31.9 4.5,32.2 4.1,32.5C3.6,32.8 3.6,33.1 2.9,33.3C2.3,33.5 0.9,33.7 0.4,33.8C-0.2,33.9 0.2,33.9 -0.3,33.8C-0.7,33.7 -1.9,33.5 -2.6,33.3C-3.2,33.1 -3.9,32.8 -4.3,32.5C-4.7,32.2 -4.7,31.9 -4.9,31.5C-5.2,31.1 -5.7,30.6 -5.8,30.0C-6.0,29.4 -6.1,28.8 -6.1,28.0C-6.0,27.2 -5.9,26.2 -5.8,25.0C-5.8,23.8 -5.9,22.3 -5.8,21.0C-5.8,19.7 -5.5,18.2 -5.4,17.0C-5.2,15.8 -5.1,14.8 -5.1,14.0C-5.0,13.2 -5.3,12.7 -5.1,12.0C-4.9,11.3 -4.2,10.5 -4.0,10.0C-3.8,9.5 -4.0,9.3 -3.9,9.0C-3.8,8.7 -3.7,8.3 -3.6,8.0C-3.4,7.7 -3.1,7.3 -2.9,7.0C-2.8,6.7 -2.6,6.3 -2.5,6.0C-2.3,5.7 -2.2,5.3 -2.1,5.0C-2.0,4.7 -2.0,4.3 -1.9,4.0C-1.8,3.7 -1.5,3.3 -1.4,3.0C-1.3,2.7 -1.4,2.3 -1.3,2.0C-1.2,1.7 -1.0,1.3 -0.9,1.0C-0.7,0.7 -0.4,0.2 -0.3,0.0Z" fill="url(#mg)"/>
<ellipse cx="6.0" cy="11.4" rx="1.3" ry="0.9" fill="#b0b0b0" transform="rotate(-30,6.0,11.4)"/>
<ellipse cx="-2.0" cy="14.9" rx="2.9" ry="3.8" fill="url(#tx)" opacity="0.22"/>
<ellipse cx="-1.0" cy="11.7" rx="2.2" ry="4.1" fill="url(#tx)" opacity="0.16"/>
<ellipse cx="-1.0" cy="17.8" rx="2.4" ry="3.3" fill="url(#tx)" opacity="0.24"/>
<ellipse cx="-2.2" cy="9.1" rx="3.1" ry="4.3" fill="url(#tx)" opacity="0.25"/>
</g>
<g transform="translate(33.30,0.66) rotate(2.7,0,19.9) scale(0.995,1.026)">
<path d="M3.6,30 L5.8,37.4 M-3.6,30 L-5.8,37.4 M0,32 L0,38" stroke="#b0b0b0" stroke-width="1.5" fill="none"/>
<path d="M0.2,0.0C0.4,0.2 0.8,0.7 1.0,1.0C1.2,1.3 1.1,1.7 1.2,2.0C1.3,2.3 1.4,2.7 1.5,3.0C1.5,3.3 1.6,3.7 1.7,4.0C1.8,4.3 1.9,4.7 2.0,5.0C2.2,5.3 2.2,5.7 2.4,6.0C2.5,6.3 2.8,6.7 3.1,7.0C3.3,7.3 3.7,7.7 3.9,8.0C4.0,8.3 3.9,8.7 4.1,9.0C4.2,9.3 4.5,9.5 4.6,10.0C4.7,10.5 4.6,11.3 4.7,12.0C4.8,12.7 5.1,13.2 5.3,14.0C5.5,14.8 5.9,15.8 6.0,17.0C6.1,18.2 5.7,19.7 5.8,21.0C5.8,22.3 6.4,23.8 6.5,25.0C6.6,26.2 6.6,27.2 6.5,28.0C6.3,28.8 5.8,29.4 5.6,30.0C5.5,30.6 5.7,31.1 5.5,31.5C5.3,31.9 4.9,32.2 4.5,32.5C4.0,32.8 3.6,33.1 2.9,33.3C2.2,33.5 0.8,33.7 0.2,33.8C-0.4,33.9 -0.2,33.9 -0.7,33.8C-1.2,33.7 -2.2,33.5 -2.9,33.3C-3.5,33.1 -4.2,32.8 -4.6,32.5C-4.9,32.2 -4.7,31.9 -4.9,31.5C-5.1,31.1 -5.7,30.6 -5.9,30.0C-6.1,29.4 -6.0,28.8 -6.1,28.0C-6.1,27.2 -6.2,26.2 -6.2,25.0C-6.1,23.8 -5.8,22.3 -5.7,21.0C-5.6,19.7 -5.8,18.2 -5.7,17.0C-5.6,15.8 -5.3,14.8 -5.2,14.0C-5.1,13.2 -5.2,12.7 -5.0,12.0C-4.9,11.3 -4.4,10.5 -4.1,10.0C-3.9,9.5 -3.6,9.3 -3.6,9.0C-3.5,8.7 -3.9,8.3 -3.9,8.0C-3.8,7.7 -3.3,7.3 -3.1,7.0C-2.9,6.7 -2.8,6.3 -2.6,6.0C-2.5,5.7 -2.3,5.3 -2.2,5.0C-2.1,4.7 -2.0,4.3 -1.8,4.0C-1.7,3.7 -1.5,3.3 -1.4,3.0C-1.3,2.7 -1.2,2.3 -1.1,2.0C-1.1,1.7 -1.1,1.3 -0.9,1.0C-0.8,0.7 -0.5,0.2 -0.4,0.0Z" fill="url(#mg)"/>
<ellipse cx="5.5" cy="9.8" rx="1.3" ry="0.9" fill="#b0b0b0" transform="rotate(-30,5.5,9.8)"/>
<ellipse cx="0.2" cy="17.9" rx="2.5" ry="4.1" fill="url(#tx)" opacity="0.12"/>
<ellipse cx="-2.8" cy="11.7" rx="2.0" ry="2.6" fill="url(#tx)" opacity="0.25"/>
<ellipse cx="2.3" cy="10.8" rx="2.5" ry="3.1" fill="url(#tx)" opacity="0.16"/>
<ellipse cx="-1.0" cy="22.6" rx="2.6" ry="3.2" fill="url(#tx)" opacity="0.14"/>
</g>
</g>
</svg>
<rect x="320" y="82.0" width="40.60000000000002" height="39.099999999999994" fill="#1e1e1e"/>
<svg x="320" y="82.0" width="40.60000000000002" height="39.099999999999994" overflow="hidden">
<g filter="url(#fur)">
<g transform="translate(5.90,0.43) rotate(-2.3,0,19.5) scale(0.986,1.008)">
<path d="M3.6,30 L5.8,37.4 M-3.6,30 L-5.8,37.4 M0,32 L0,38" stroke="#b0b0b0" stroke-width="1.5" fill="none"/>
<path d="M0.4,0.0C0.4,0.2 0.7,0.7 0.8,1.0C0.9,1.3 1.0,1.7 1.2,2.0C1.3,2.3 1.5,2.7 1.6,3.0C1.7,3.3 1.8,3.7 1.9,4.0C2.0,4.3 2.0,4.7 2.1,5.0C2.2,5.3 2.3,5.7 2.5,6.0C2.6,6.3 2.8,6.7 3.0,7.0C3.1,7.3 3.3,7.7 3.5,8.0C3.6,8.3 3.9,8.7 4.0,9.0C4.1,9.3 3.9,9.5 4.0,10.0C4.1,10.5 4.6,11.3 4.8,12.0C5.1,12.7 5.5,13.2 5.7,14.0C5.9,14.8 6.0,15.8 6.0,17.0C6.0,18.2 5.7,19.7 5.7,21.0C5.7,22.3 5.8,23.8 5.9,25.0C6.0,26.2 6.3,27.2 6.3,28.0C6.4,28.8 6.3,29.4 6.2,30.0C6.0,30.6 5.8,31.1 5.4,31.5C5.0,31.9 4.4,32.2 3.8,32.5C3.3,32.8 2.7,33.1 2.2,33.3C1.7,33.5 1.2,33.7 0.8,33.8C0.5,33.9 0.3,33.9 -0.2,33.8C-0.7,33.7 -1.6,33.5 -2.3,33.3C-3.0,33.1 -3.8,32.8 -4.3,32.5C-4.8,32.2 -5.0,31.9 -5.3,31.5C-5.6,31.1 -5.8,30.6 -6.1,30.0C-6.3,29.4 -6.5,28.8 -6.5,28.0C-6.6,27.2 -6.6,26.2 -6.5,25.0C-6.4,23.8 -6.0,22.3 -5.9,21.0C-5.8,19.7 -6.0,18.2 -5.9,17.0C-5.7,15.8 -5.3,14.8 -5.2,14.0C-5.1,13.2 -5.4,12.7 -5.2,12.0C-5.1,11.3 -4.5,10.5 -4.3,10.0C-4.2,9.5 -4.4,9.3 -4.2,9.0C-4.0,8.7 -3.5,8.3 -3.3,8.0C-3.1,7.7 -3.2,7.3 -3.1,7.0C-2.9,6.7 -2.7,6.3 -2.6,6.0C-2.4,5.7 -2.2,5.3 -2.1,5.0C-1.9,4.7 -1.9,4.3 -1.8,4.0C-1.7,3.7 -1.6,3.3 -1.5,3.0C-1.4,2.7 -1.3,2.3 -1.2,2.0C-1.1,1.7 -1.0,1.3 -0.8,1.0C-0.7,0.7 -0.4,0.2 -0.3,0.0Z" fill="url(#mg)"/>
<ellipse cx="-6.1" cy="9.3" rx="1.3" ry="0.9" fill="#b0b0b0" transform="rotate(30,-6.1,9.3)"/>
<ellipse cx="6.0" cy="9.1" rx="1.3" ry="0.9" fill="#b0b0b0" transform="rotate(-30,6.0,9.1)"/>
<ellipse cx="-2.4" cy="26.7" rx="2.7" ry="4.2" fill="url(#tx)" opacity="0.24"/>
<ellipse cx="0.5" cy="25.8" rx="1.9" ry="4.0" fill="url(#tx)" opacity="0.19"/>
<ellipse cx="1.4" cy="11.2" rx="2.8" ry="4.4" fill="url(#tx)" opacity="0.13"/>
<ellipse cx="-1.1" cy="20.8" rx="3.0" ry="3.0" fill="url(#tx)" opacity="0.14"/>
</g>
<g transform="translate(18.70,0.55) rotate(0.7,0,19.5) scale(0.980,1.008)">
<path d="M3.6,30 L5.8,37.4 M-3.6,30 L-5.8,37.4 M0,32 L0,38" stroke="#b0b0b0" stroke-width="1.5" fill="none"/>
<path d="M0.3,0.0C0.4,0.2 0.7,0.7 0.9,1.0C1.0,1.3 1.1,1.7 1.2,2.0C1.3,2.3 1.4,2.7 1.5,3.0C1.6,3.3 1.7,3.7 1.8,4.0C1.9,4.3 1.9,4.7 2.0,5.0C2.1,5.3 2.4,5.7 2.6,6.0C2.7,6.3 2.8,6.7 3.0,7.0C3.2,7.3 3.5,7.7 3.6,8.0C3.7,8.3 3.5,8.7 3.7,9.0C3.9,9.3 4.4,9.5 4.6,10.0C4.8,10.5 4.8,11.3 4.9,12.0C5.1,12.7 5.4,13.2 5.5,14.0C5.6,14.8 5.3,15.8 5.4,17.0C5.5,18.2 5.9,19.7 6.0,21.0C6.1,22.3 5.9,23.8 6.0,25.0C6.1,26.2 6.6,27.2 6.6,28.0C6.6,28.8 6.3,29.4 6.1,30.0C5.9,30.6 5.9,31.1 5.5,31.5C5.2,31.9 4.5,32.2 4.0,32.5C3.4,32.8 2.8,33.1 2.2,33.3C1.6,33.5 0.9,33.7 0.5,33.8C0.1,33.9 0.2,33.9 -0.3,33.8C-0.8,33.7 -2.0,33.5 -2.6,33.3C-3.2,33.1 -3.5,32.8 -3.9,32.5C-4.4,32.2 -5.0,31.9 -5.3,31.5C-5.6,31.1 -5.7,30.6 -5.8,30.0C-5.9,29.4 -5.9,28.8 -6.0,28.0C-6.1,27.2 -6.4,26.2 -6.4,25.0C-6.3,23.8 -5.9,22.3 -5.7,21.0C-5.6,19.7 -5.4,18.2 -5.3,17.0C-5.2,15.8 -5.1,14.8 -5.0,14.0C-4.9,13.2 -4.9,12.7 -4.8,12.0C-4.8,11.3 -5.0,10.5 -4.8,10.0C-4.6,9.5 -3.8,9.3 -3.6,9.0C-3.5,8.7 -4.0,8.3 -3.9,8.0C-3.8,7.7 -3.2,7.3 -3.0,7.0C-2.8,6.7 -2.7,6.3 -2.5,6.0C-2.4,5.7 -2.3,5.3 -2.2,5.0C-2.0,4.7 -2.0,4.3 -1.9,4.0C-1.8,3.7 -1.8,3.3 -1.6,3.0C-1.5,2.7 -1.2,2.3 -1.1,2.0C-1.0,1.7 -1.0,1.3 -0.9,1.0C-0.7,0.7 -0.4,0.2 -0.3,0.0Z" fill="url(#mg)"/>
<ellipse cx="-6.0" cy="10.0" rx="1.3" ry="0.9" fill="#b0b0b0" transform="rotate(30,-6.0,10.0)"/>
<ellipse cx="5.7" cy="12.0" rx="1.3" ry="0.9" fill="#b0b0b0" transform="rotate(-30,5.7,12.0)"/>
<ellipse cx="0.6" cy="18.8" rx="3.0" ry="4.1" fill="url(#tx)" opacity="0.19"/>
<ellipse cx="-0.1" cy="24.1" rx="3.0" ry="3.3" fill="url(#tx)" opacity="0.22"/>
<ellipse cx="2.9" cy="18.8" rx="2.1" ry="3.0" fill="url(#tx)" opacity="0.21"/>
<ellipse cx="1.1" cy="29.1" rx="3.0" ry="3.0" fill="url(#tx)" opacity="0.14"/>
</g>
<g transform="translate(33.30,0.52) rotate(-1.9,0,19.5) scale(0.981,1.008)">
<path d="M3.6,30 L5.8,37.4 M-3.6,30 L-5.8,37.4 M0,32 L0,38" stroke="#b0b0b0" stroke-width="1.5" fill="none"/>
<path d="M0.4,0.0C0.5,0.2 0.7,0.7 0.8,1.0C1.0,1.3 1.0,1.7 1.1,2.0C1.3,2.3 1.5,2.7 1.6,3.0C1.7,3.3 1.6,3.7 1.7,4.0C1.8,4.3 1.9,4.7 2.0,5.0C2.2,5.3 2.4,5.7 2.5,6.0C2.7,6.3 2.7,6.7 2.9,7.0C3.0,7.3 3.3,7.7 3.4,8.0C3.6,8.3 3.5,8.7 3.7,9.0C4.0,9.3 4.6,9.5 4.8,10.0C5.0,10.5 4.9,11.3 4.9,12.0C5.0,12.7 5.0,13.2 5.1,14.0C5.1,14.8 5.1,15.8 5.3,17.0C5.4,18.2 6.0,19.7 6.3,21.0C6.5,22.3 6.6,23.8 6.6,25.0C6.6,26.2 6.6,27.2 6.4,28.0C6.3,28.8 5.9,29.4 5.7,30.0C5.5,30.6 5.6,31.1 5.3,31.5C5.1,31.9 4.4,32.2 4.0,32.5C3.6,32.8 3.6,33.1 3.0,33.3C2.5,33.5 1.2,33.7 0.6,33.8C0.1,33.9 0.3,33.9 -0.3,33.8C-0.8,33.7 -2.1,33.5 -2.8,33.3C-3.5,33.1 -4.0,32.8 -4.4,32.5C-4.9,32.2 -5.2,31.9 -5.5,31.5C-5.7,31.1 -5.9,30.6 -6.1,30.0C-6.2,29.4 -6.4,28.8 -6.4,28.0C-6.4,27.2 -6.2,26.2 -6.1,25.0C-5.9,23.8 -5.6,22.3 -5.5,21.0C-5.5,19.7 -6.0,18.2 -5.9,17.0C-5.9,15.8 -5.7,14.8 -5.4,14.0C-5.2,13.2 -4.7,12.7 -4.6,12.0C-4.4,11.3 -4.4,10.5 -4.3,10.0C-4.2,9.5 -4.2,9.3 -4.1,9.0C-3.9,8.7 -3.7,8.3 -3.5,8.0C-3.3,7.7 -3.1,7.3 -3.0,7.0C-2.8,6.7 -2.7,6.3 -2.5,6.0C-2.4,5.7 -2.2,5.3 -2.1,5.0C-2.0,4.7 -2.0,4.3 -1.9,4.0C-1.8,3.7 -1.5,3.3 -1.4,3.0C-1.3,2.7 -1.2,2.3 -1.2,2.0C-1.1,1.7 -1.1,1.3 -1.0,1.0C-0.9,0.7 -0.5,0.2 -0.4,0.0Z" fill="url(#mg)"/>
<ellipse cx="-5.9" cy="10.1" rx="1.3" ry="0.9" fill="#b0b0b0" transform="rotate(30,-5.9,10.1)"/>
<ellipse cx="0.4" cy="12.8" rx="2.7" ry="3.8" fill="url(#tx)" opacity="0.14"/>
<ellipse cx="2.5" cy="22.8" rx="2.0" ry="4.4" fill="url(#tx)" opacity="0.14"/>
<ellipse cx="-1.1" cy="24.1" rx="2.6" ry="3.6" fill="url(#tx)" opacity="0.20"/>
<ellipse cx="-0.3" cy="15.6" rx="2.0" ry="2.6" fill="url(#tx)" opacity="0.21"/>
</g>
</g>
<ellipse cx="3.6" cy="4.2" rx="2.6" ry="2.6" fill="url(#bb)"/>
<ellipse cx="6.6" cy="6.6" rx="3.12" ry="3.12" fill="url(#bb)"/>
<ellipse cx="3.8" cy="9.6" rx="3.38" ry="3.38" fill="url(#bb)"/>
<ellipse cx="7.8" cy="10.6" rx="2.99" ry="2.99" fill="url(#bb)"/>
<ellipse cx="3.6" cy="13.2" rx="3.38" ry="3.38" fill="url(#bb)"/>
<ellipse cx="7.0" cy="14.6" rx="2.99" ry="2.86" fill="url(#bb)"/>
<ellipse cx="3.8" cy="12.1" rx="1.5" ry="1.5" fill="url(#bc)"/>
<ellipse cx="8.3" cy="26.8" rx="3.64" ry="3.64" fill="url(#bb)"/>
<ellipse cx="13.0" cy="27.4" rx="3.38" ry="3.64" fill="url(#bb)"/>
<ellipse cx="1.5" cy="22.0" rx="2.08" ry="2.34" fill="url(#bb)"/>
<ellipse cx="21.2" cy="7.8" rx="3.12" ry="3.12" fill="url(#bb)"/>
<ellipse cx="18.8" cy="10.8" rx="2.6" ry="2.6" fill="url(#bb)"/>
<ellipse cx="23.0" cy="11.6" rx="2.6" ry="2.6" fill="url(#bb)"/>
<ellipse cx="17.6" cy="15.6" rx="2.99" ry="2.99" fill="url(#bb)"/>
<ellipse cx="21.0" cy="17.4" rx="3.51" ry="3.38" fill="url(#bb)"/>
<ellipse cx="24.6" cy="16.0" rx="2.99" ry="2.99" fill="url(#bb)"/>
<ellipse cx="24.6" cy="28.4" rx="2.86" ry="2.86" fill="url(#bb)"/>
<ellipse cx="32.6" cy="4.0" rx="2.6" ry="2.6" fill="url(#bb)"/>
<ellipse cx="35.1" cy="8.6" rx="2.73" ry="2.73" fill="url(#bb)"/>
<ellipse cx="31.0" cy="11.1" rx="2.86" ry="2.86" fill="url(#bb)"/>
<ellipse cx="34.0" cy="13.5" rx="2.86" ry="2.86" fill="url(#bb)"/>
<ellipse cx="36.2" cy="17.0" rx="4.29" ry="4.68" fill="url(#bb)"/>
<ellipse cx="32.8" cy="18.5" rx="2.86" ry="2.6" fill="url(#bb)"/>
<ellipse cx="36.4" cy="17.2" rx="1.8" ry="1.7" fill="url(#bc)"/>
<ellipse cx="38.8" cy="28.0" rx="3.38" ry="3.12" fill="url(#bb)"/>
<ellipse cx="34.6" cy="25.8" rx="1.56" ry="1.56" fill="url(#bb)"/>
</svg>
<rect x="320" y="123.6" width="40.60000000000002" height="37.900000000000006" fill="#1e1e1e"/>
<svg x="320" y="123.6" width="40.60000000000002" height="37.900000000000006" overflow="hidden">
<g>
<g transform="translate(6.60,0.54) rotate(0.3,0,19.0) scale(1.071,0.976)">
<path d="M3.6,30 L5.8,37.4 M-3.6,30 L-5.8,37.4 M0,32 L0,38" stroke="#c8a8e0" stroke-width="1.5" fill="none"/>
<path d="M0.3,0.0C0.4,0.2 0.7,0.7 0.9,1.0C1.0,1.3 1.0,1.7 1.1,2.0C1.2,2.3 1.3,2.7 1.4,3.0C1.5,3.3 1.7,3.7 1.8,4.0C1.9,4.3 1.9,4.7 2.1,5.0C2.2,5.3 2.4,5.7 2.6,6.0C2.7,6.3 3.0,6.7 3.1,7.0C3.2,7.3 3.2,7.7 3.3,8.0C3.4,8.3 3.4,8.7 3.7,9.0C3.9,9.3 4.4,9.5 4.6,10.0C4.8,10.5 4.5,11.3 4.6,12.0C4.8,12.7 5.3,13.2 5.5,14.0C5.7,14.8 5.8,15.8 5.8,17.0C5.8,18.2 5.6,19.7 5.6,21.0C5.6,22.3 5.8,23.8 5.9,25.0C6.0,26.2 6.3,27.2 6.3,28.0C6.2,28.8 5.9,29.4 5.7,30.0C5.4,30.6 5.0,31.1 4.8,31.5C4.6,31.9 4.9,32.2 4.6,32.5C4.2,32.8 3.1,33.1 2.5,33.3C1.8,33.5 1.2,33.7 0.7,33.8C0.1,33.9 -0.2,33.9 -0.7,33.8C-1.3,33.7 -2.0,33.5 -2.6,33.3C-3.3,33.1 -4.1,32.8 -4.6,32.5C-5.1,32.2 -5.2,31.9 -5.5,31.5C-5.7,31.1 -6.1,30.6 -6.2,30.0C-6.2,29.4 -5.9,28.8 -5.9,28.0C-5.9,27.2 -6.2,26.2 -6.2,25.0C-6.2,23.8 -5.9,22.3 -5.8,21.0C-5.7,19.7 -5.7,18.2 -5.7,17.0C-5.6,15.8 -5.7,14.8 -5.6,14.0C-5.4,13.2 -5.1,12.7 -4.8,12.0C-4.6,11.3 -4.2,10.5 -4.1,10.0C-4.0,9.5 -4.4,9.3 -4.3,9.0C-4.1,8.7 -3.4,8.3 -3.1,8.0C-2.9,7.7 -3.0,7.3 -2.9,7.0C-2.8,6.7 -2.6,6.3 -2.5,6.0C-2.3,5.7 -2.2,5.3 -2.1,5.0C-2.0,4.7 -1.8,4.3 -1.8,4.0C-1.7,3.7 -1.7,3.3 -1.6,3.0C-1.5,2.7 -1.3,2.3 -1.2,2.0C-1.1,1.7 -1.2,1.3 -1.0,1.0C-0.8,0.7 -0.4,0.2 -0.2,0.0Z" fill="url(#mp)"/>
</g>
<g transform="translate(19.10,0.39) rotate(2.2,0,19.0) scale(1.033,0.976)">
<path d="M3.6,30 L5.8,37.4 M-3.6,30 L-5.8,37.4 M0,32 L0,38" stroke="#c8a8e0" stroke-width="1.5" fill="none"/>
<path d="M0.3,0.0C0.4,0.2 0.6,0.7 0.8,1.0C0.9,1.3 1.1,1.7 1.2,2.0C1.4,2.3 1.4,2.7 1.5,3.0C1.6,3.3 1.6,3.7 1.7,4.0C1.8,4.3 1.8,4.7 2.0,5.0C2.1,5.3 2.4,5.7 2.5,6.0C2.7,6.3 2.8,6.7 3.0,7.0C3.2,7.3 3.6,7.7 3.9,8.0C4.1,8.3 4.2,8.7 4.3,9.0C4.3,9.3 3.9,9.5 4.0,10.0C4.1,10.5 4.4,11.3 4.7,12.0C4.9,12.7 5.2,13.2 5.3,14.0C5.5,14.8 5.3,15.8 5.4,17.0C5.6,18.2 5.9,19.7 6.1,21.0C6.3,22.3 6.4,23.8 6.5,25.0C6.6,26.2 6.7,27.2 6.6,28.0C6.5,28.8 6.3,29.4 6.1,30.0C5.9,30.6 5.7,31.1 5.5,31.5C5.2,31.9 5.0,32.2 4.5,32.5C4.1,32.8 3.5,33.1 2.8,33.3C2.1,33.5 0.8,33.7 0.2,33.8C-0.3,33.9 0.3,33.9 -0.2,33.8C-0.7,33.7 -1.9,33.5 -2.6,33.3C-3.2,33.1 -3.6,32.8 -4.1,32.5C-4.6,32.2 -5.3,31.9 -5.6,31.5C-5.9,31.1 -5.6,30.6 -5.8,30.0C-5.9,29.4 -6.3,28.8 -6.4,28.0C-6.5,27.2 -6.4,26.2 -6.3,25.0C-6.2,23.8 -5.6,22.3 -5.6,21.0C-5.5,19.7 -5.9,18.2 -5.9,17.0C-6.0,15.8 -5.9,14.8 -5.7,14.0C-5.5,13.2 -4.8,12.7 -4.5,12.0C-4.3,11.3 -4.3,10.5 -4.3,10.0C-4.2,9.5 -4.3,9.3 -4.1,9.0C-3.9,8.7 -3.3,8.3 -3.2,8.0C-3.0,7.7 -3.2,7.3 -3.1,7.0C-3.0,6.7 -2.7,6.3 -2.5,6.0C-2.3,5.7 -2.2,5.3 -2.1,5.0C-2.0,4.7 -1.9,4.3 -1.8,4.0C-1.7,3.7 -1.6,3.3 -1.5,3.0C-1.4,2.7 -1.3,2.3 -1.2,2.0C-1.1,1.7 -1.1,1.3 -1.0,1.0C-0.8,0.7 -0.5,0.2 -0.4,0.0Z" fill="url(#mp)"/>
<ellipse cx="-5.4" cy="9.6" rx="1.3" ry="0.9" fill="#c8a8e0" transform="rotate(30,-5.4,9.6)"/>
<ellipse cx="5.7" cy="11.1" rx="1.3" ry="0.9" fill="#c8a8e0" transform="rotate(-30,5.7,11.1)"/>
</g>
<g transform="translate(34.20,0.28) rotate(0.9,0,19.0) scale(1.043,0.976)">
<path d="M3.6,30 L5.8,37.4 M-3.6,30 L-5.8,37.4 M0,32 L0,38" stroke="#c8a8e0" stroke-width="1.5" fill="none"/>
<path d="M0.3,0.0C0.4,0.2 0.7,0.7 0.9,1.0C1.0,1.3 1.2,1.7 1.3,2.0C1.4,2.3 1.4,2.7 1.5,3.0C1.5,3.3 1.7,3.7 1.8,4.0C1.9,4.3 1.9,4.7 2.0,5.0C2.1,5.3 2.3,5.7 2.4,6.0C2.6,6.3 2.8,6.7 2.9,7.0C3.0,7.3 3.1,7.7 3.2,8.0C3.4,8.3 3.6,8.7 3.7,9.0C3.8,9.3 4.0,9.5 4.1,10.0C4.2,10.5 4.4,11.3 4.5,12.0C4.7,12.7 5.2,13.2 5.3,14.0C5.4,14.8 5.1,15.8 5.2,17.0C5.3,18.2 5.7,19.7 5.8,21.0C5.9,22.3 5.7,23.8 5.8,25.0C5.8,26.2 6.0,27.2 6.1,28.0C6.2,28.8 6.5,29.4 6.3,30.0C6.1,30.6 5.2,31.1 4.8,31.5C4.4,31.9 4.3,32.2 3.9,32.5C3.5,32.8 3.1,33.1 2.5,33.3C1.8,33.5 0.7,33.7 0.2,33.8C-0.3,33.9 -0.4,33.9 -0.8,33.8C-1.2,33.7 -1.7,33.5 -2.3,33.3C-2.8,33.1 -3.8,32.8 -4.3,32.5C-4.8,32.2 -5.0,31.9 -5.2,31.5C-5.4,31.1 -5.5,30.6 -5.6,30.0C-5.7,29.4 -5.7,28.8 -5.8,28.0C-5.9,27.2 -6.1,26.2 -6.1,25.0C-6.2,23.8 -6.2,22.3 -6.1,21.0C-6.0,19.7 -5.7,18.2 -5.6,17.0C-5.4,15.8 -5.1,14.8 -4.9,14.0C-4.7,13.2 -4.8,12.7 -4.6,12.0C-4.4,11.3 -4.1,10.5 -4.0,10.0C-3.9,9.5 -4.0,9.3 -3.9,9.0C-3.8,8.7 -3.4,8.3 -3.2,8.0C-3.1,7.7 -3.1,7.3 -3.0,7.0C-2.9,6.7 -2.7,6.3 -2.6,6.0C-2.4,5.7 -2.1,5.3 -2.0,5.0C-1.8,4.7 -1.9,4.3 -1.8,4.0C-1.7,3.7 -1.6,3.3 -1.5,3.0C-1.4,2.7 -1.4,2.3 -1.3,2.0C-1.2,1.7 -1.0,1.3 -0.8,1.0C-0.7,0.7 -0.4,0.2 -0.4,0.0Z" fill="url(#mp)"/>
<ellipse cx="-5.7" cy="11.4" rx="1.3" ry="0.9" fill="#c8a8e0" transform="rotate(30,-5.7,11.4)"/>
</g>
</g>
<ellipse cx="7.5" cy="14.900000000000006" rx="4.8" ry="6" fill="url(#bb2)"/>
<ellipse cx="7.300000000000011" cy="14.5" rx="2.4" ry="2.0" fill="url(#bc)"/>
<ellipse cx="23.399999999999977" cy="26.400000000000006" rx="3.2" ry="3.0" fill="url(#bb2)"/>
<ellipse cx="23.399999999999977" cy="26.400000000000006" rx="1.0" ry="1.0" fill="url(#bc)"/>
<ellipse cx="17" cy="22.400000000000006" rx="3" ry="4" fill="url(#bb2)"/>
<ellipse cx="33.5" cy="16.900000000000006" rx="4.6" ry="6.8" fill="url(#bb2)"/>
<ellipse cx="33" cy="16.400000000000006" rx="1.8" ry="2.6" fill="url(#bc)"/>
<ellipse cx="6.1" cy="2.9" rx="1.6" ry="2.2" fill="url(#wp)"/>
<ellipse cx="19.2" cy="3.4" rx="1.6" ry="2.2" fill="url(#wp)"/>
<ellipse cx="32.9" cy="2.9" rx="1.6" ry="2.2" fill="url(#wp)"/>
</svg>
<rect x="363" y="40" width="58.30000000000001" height="39.8" fill="#1e1e1e"/>
<svg x="363" y="40" width="58.30000000000001" height="39.8" overflow="hidden">
<g filter="url(#fur)">
<g transform="translate(6.80,0.26) rotate(-1.5,0,19.9) scale(0.984,1.026)">
<path d="M3.6,30 L5.8,37.4 M-3.6,30 L-5.8,37.4 M0,32 L0,38" stroke="#b0b0b0" stroke-width="1.5" fill="none"/>
<path d="M0.4,0.0C0.5,0.2 0.7,0.7 0.9,1.0C1.0,1.3 1.1,1.7 1.2,2.0C1.4,2.3 1.5,2.7 1.5,3.0C1.6,3.3 1.6,3.7 1.7,4.0C1.8,4.3 1.9,4.7 2.0,5.0C2.1,5.3 2.2,5.7 2.4,6.0C2.6,6.3 2.9,6.7 3.1,7.0C3.4,7.3 3.7,7.7 3.9,8.0C4.1,8.3 4.1,8.7 4.3,9.0C4.4,9.3 4.7,9.5 4.8,10.0C4.9,10.5 4.6,11.3 4.7,12.0C4.9,12.7 5.6,13.2 5.7,14.0C5.8,14.8 5.4,15.8 5.4,17.0C5.4,18.2 5.4,19.7 5.6,21.0C5.7,22.3 5.9,23.8 6.1,25.0C6.2,26.2 6.6,27.2 6.6,28.0C6.6,28.8 6.3,29.4 6.1,30.0C5.9,30.6 5.8,31.1 5.5,31.5C5.2,31.9 5.1,32.2 4.6,32.5C4.1,32.8 3.1,33.1 2.5,33.3C1.9,33.5 1.4,33.7 0.9,33.8C0.3,33.9 -0.0,33.9 -0.6,33.8C-1.1,33.7 -1.8,33.5 -2.4,33.3C-2.9,33.1 -3.6,32.8 -4.1,32.5C-4.6,32.2 -4.9,31.9 -5.2,31.5C-5.6,31.1 -6.0,30.6 -6.1,30.0C-6.2,29.4 -5.9,28.8 -5.9,28.0C-5.9,27.2 -6.4,26.2 -6.4,25.0C-6.3,23.8 -5.9,22.3 -5.8,21.0C-5.7,19.7 -6.1,18.2 -5.9,17.0C-5.8,15.8 -5.1,14.8 -4.9,14.0C-4.8,13.2 -5.2,12.7 -5.0,12.0C-4.8,11.3 -4.1,10.5 -4.0,10.0C-3.9,9.5 -4.5,9.3 -4.4,9.0C-4.3,8.7 -3.7,8.3 -3.5,8.0C-3.2,7.7 -3.1,7.3 -2.9,7.0C-2.8,6.7 -2.7,6.3 -2.5,6.0C-2.4,5.7 -2.1,5.3 -2.0,5.0C-1.8,4.7 -1.8,4.3 -1.7,4.0C-1.6,3.7 -1.4,3.3 -1.4,3.0C-1.3,2.7 -1.4,2.3 -1.3,2.0C-1.2,1.7 -1.0,1.3 -0.8,1.0C-0.6,0.7 -0.4,0.2 -0.3,0.0Z" fill="url(#mg)"/>
<ellipse cx="-5.9" cy="9.5" rx="1.3" ry="0.9" fill="#b0b0b0" transform="rotate(30,-5.9,9.5)"/>
<ellipse cx="1.3" cy="17.1" rx="2.5" ry="2.8" fill="url(#tx)" opacity="0.21"/>
<ellipse cx="-3.1" cy="18.8" rx="2.9" ry="3.9" fill="url(#tx)" opacity="0.13"/>
<ellipse cx="-1.7" cy="26.7" rx="2.7" ry="4.3" fill="url(#tx)" opacity="0.23"/>
<ellipse cx="-0.3" cy="27.8" rx="2.8" ry="3.2" fill="url(#tx)" opacity="0.17"/>
</g>
<g transform="translate(21.20,0.67) rotate(-0.6,0,19.9) scale(0.966,1.026)">
<path d="M3.6,30 L5.8,37.4 M-3.6,30 L-5.8,37.4 M0,32 L0,38" stroke="#b0b0b0" stroke-width="1.5" fill="none"/>
<path d="M0.2,0.0C0.3,0.2 0.6,0.7 0.8,1.0C1.0,1.3 1.1,1.7 1.2,2.0C1.3,2.3 1.3,2.7 1.4,3.0C1.5,3.3 1.7,3.7 1.8,4.0C1.9,4.3 1.8,4.7 2.0,5.0C2.1,5.3 2.5,5.7 2.6,6.0C2.8,6.3 2.8,6.7 3.0,7.0C3.2,7.3 3.5,7.7 3.8,8.0C4.0,8.3 4.2,8.7 4.3,9.0C4.3,9.3 4.1,9.5 4.1,10.0C4.2,10.5 4.4,11.3 4.5,12.0C4.7,12.7 4.7,13.2 5.0,14.0C5.2,14.8 5.8,15.8 6.0,17.0C6.2,18.2 6.2,19.7 6.3,21.0C6.3,22.3 6.1,23.8 6.2,25.0C6.2,26.2 6.5,27.2 6.5,28.0C6.5,28.8 6.2,29.4 6.0,30.0C5.9,30.6 5.8,31.1 5.5,31.5C5.2,31.9 4.8,32.2 4.3,32.5C3.7,32.8 2.9,33.1 2.2,33.3C1.6,33.5 1.2,33.7 0.7,33.8C0.2,33.9 -0.3,33.9 -0.9,33.8C-1.5,33.7 -2.4,33.5 -2.9,33.3C-3.4,33.1 -3.8,32.8 -4.2,32.5C-4.5,32.2 -4.7,31.9 -5.1,31.5C-5.4,31.1 -5.9,30.6 -6.1,30.0C-6.3,29.4 -6.3,28.8 -6.3,28.0C-6.3,27.2 -6.1,26.2 -6.0,25.0C-5.8,23.8 -5.6,22.3 -5.5,21.0C-5.4,19.7 -5.4,18.2 -5.3,17.0C-5.2,15.8 -4.9,14.8 -4.9,14.0C-4.8,13.2 -5.3,12.7 -5.2,12.0C-5.1,11.3 -4.3,10.5 -4.1,10.0C-3.9,9.5 -4.1,9.3 -4.0,9.0C-3.9,8.7 -3.8,8.3 -3.6,8.0C-3.4,7.7 -3.2,7.3 -3.0,7.0C-2.8,6.7 -2.6,6.3 -2.4,6.0C-2.3,5.7 -2.1,5.3 -2.0,5.0C-1.9,4.7 -1.9,4.3 -1.8,4.0C-1.7,3.7 -1.5,3.3 -1.4,3.0C-1.3,2.7 -1.2,2.3 -1.1,2.0C-1.0,1.7 -0.9,1.3 -0.8,1.0C-0.7,0.7 -0.4,0.2 -0.3,0.0Z" fill="url(#mg)"/>
<ellipse cx="-5.7" cy="10.6" rx="1.3" ry="0.9" fill="#b0b0b0" transform="rotate(30,-5.7,10.6)"/>
<ellipse cx="-2.7" cy="16.3" rx="2.5" ry="2.6" fill="url(#tx)" opacity="0.19"/>
<ellipse cx="1.5" cy="17.9" rx="2.7" ry="3.7" fill="url(#tx)" opacity="0.15"/>
<ellipse cx="-1.0" cy="29.9" rx="2.3" ry="3.4" fill="url(#tx)" opacity="0.13"/>
<ellipse cx="-1.8" cy="12.5" rx="3.1" ry="4.0" fill="url(#tx)" opacity="0.23"/>
</g>
<g transform="translate(35.70,0.66) rotate(0.7,0,19.9) scale(1.039,1.026)">
<path d="M3.6,30 L5.8,37.4 M-3.6,30 L-5.8,37.4 M0,32 L0,38" stroke="#b0b0b0" stroke-width="1.5" fill="none"/>
<path d="M0.3,0.0C0.4,0.2 0.9,0.7 1.0,1.0C1.2,1.3 1.2,1.7 1.3,2.0C1.4,2.3 1.5,2.7 1.6,3.0C1.7,3.3 1.9,3.7 1.9,4.0C2.0,4.3 2.0,4.7 2.0,5.0C2.1,5.3 2.2,5.7 2.4,6.0C2.6,6.3 2.9,6.7 3.1,7.0C3.2,7.3 3.4,7.7 3.5,8.0C3.6,8.3 3.5,8.7 3.6,9.0C3.7,9.3 4.0,9.5 4.2,10.0C4.4,10.5 4.5,11.3 4.8,12.0C5.0,12.7 5.4,13.2 5.5,14.0C5.6,14.8 5.2,15.8 5.2,17.0C5.3,18.2 5.7,19.7 5.8,21.0C5.9,22.3 5.8,23.8 5.9,25.0C6.0,26.2 6.3,27.2 6.4,28.0C6.5,28.8 6.5,29.4 6.3,30.0C6.1,30.6 5.5,31.1 5.1,31.5C4.7,31.9 4.4,32.2 4.0,32.5C3.6,32.8 3.2,33.1 2.6,33.3C2.0,33.5 1.1,33.7 0.5,33.8C-0.1,33.9 -0.4,33.9 -0.9,33.8C-1.4,33.7 -2.1,33.5 -2.6,33.3C-3.2,33.1 -3.8,32.8 -4.2,32.5C-4.5,32.2 -4.5,31.9 -4.9,31.5C-5.2,31.1 -5.9,30.6 -6.2,30.0C-6.5,29.4 -6.6,28.8 -6.6,28.0C-6.7,27.2 -6.6,26.2 -6.4,25.0C-6.3,23.8 -5.7,22.3 -5.5,21.0C-5.4,19.7 -5.5,18.2 -5.4,17.0C-5.4,15.8 -5.2,14.8 -5.1,14.0C-5.1,13.2 -5.2,12.7 -5.1,12.0C-5.0,11.3 -4.5,10.5 -4.3,10.0C-4.2,9.5 -4.3,9.3 -4.2,9.0C-4.1,8.7 -3.8,8.3 -3.6,8.0C-3.4,7.7 -3.2,7.3 -2.9,7.0C-2.7,6.7 -2.5,6.3 -2.4,6.0C-2.3,5.7 -2.3,5.3 -2.2,5.0C-2.1,4.7 -2.0,4.3 -1.9,4.0C-1.8,3.7 -1.6,3.3 -1.5,3.0C-1.4,2.7 -1.3,2.3 -1.2,2.0C-1.1,1.7 -1.2,1.3 -1.0,1.0C-0.9,0.7 -0.4,0.2 -0.3,0.0Z" fill="url(#mg)"/>
<ellipse cx="-6.1" cy="10.4" rx="1.3" ry="0.9" fill="#b0b0b0" transform="rotate(30,-6.1,10.4)"/>
<ellipse cx="-1.3" cy="14.1" rx="2.9" ry="2.5" fill="url(#tx)" opacity="0.14"/>
<ellipse cx="0.2" cy="20.3" rx="2.0" ry="2.6" fill="url(#tx)" opacity="0.15"/>
<ellipse cx="1.7" cy="18.8" rx="3.2" ry="4.1" fill="url(#tx)" opacity="0.25"/>
<ellipse cx="-3.0" cy="12.9" rx="1.8" ry="3.4" fill="url(#tx)" opacity="0.16"/>
</g>
<g transform="translate(50.20,0.16) rotate(0.3,0,19.9) scale(0.964,1.026)">
<path d="M3.6,30 L5.8,37.4 M-3.6,30 L-5.8,37.4 M0,32 L0,38" stroke="#b0b0b0" stroke-width="1.5" fill="none"/>
<path d="M0.2,0.0C0.4,0.2 0.8,0.7 1.0,1.0C1.1,1.3 1.1,1.7 1.1,2.0C1.2,2.3 1.4,2.7 1.5,3.0C1.6,3.3 1.7,3.7 1.8,4.0C2.0,4.3 2.1,4.7 2.2,5.0C2.3,5.3 2.3,5.7 2.4,6.0C2.6,6.3 2.8,6.7 3.1,7.0C3.3,7.3 3.7,7.7 3.8,8.0C3.9,8.3 3.8,8.7 3.8,9.0C3.8,9.3 3.7,9.5 4.0,10.0C4.2,10.5 5.0,11.3 5.3,12.0C5.5,12.7 5.1,13.2 5.3,14.0C5.4,14.8 5.9,15.8 6.0,17.0C6.1,18.2 6.0,19.7 6.0,21.0C6.0,22.3 6.2,23.8 6.2,25.0C6.2,26.2 5.9,27.2 5.9,28.0C5.9,28.8 6.5,29.4 6.3,30.0C6.2,30.6 5.5,31.1 5.1,31.5C4.8,31.9 4.6,32.2 4.2,32.5C3.7,32.8 3.2,33.1 2.6,33.3C1.9,33.5 0.8,33.7 0.3,33.8C-0.2,33.9 0.1,33.9 -0.4,33.8C-1.0,33.7 -2.3,33.5 -3.0,33.3C-3.7,33.1 -4.1,32.8 -4.5,32.5C-4.8,32.2 -4.8,31.9 -5.1,31.5C-5.3,31.1 -5.7,30.6 -5.9,30.0C-6.2,29.4 -6.4,28.8 -6.4,28.0C-6.4,27.2 -6.0,26.2 -5.9,25.0C-5.8,23.8 -5.8,22.3 -5.8,21.0C-5.8,19.7 -5.9,18.2 -5.9,17.0C-5.8,15.8 -5.6,14.8 -5.4,14.0C-5.3,13.2 -5.4,12.7 -5.3,12.0C-5.1,11.3 -4.8,10.5 -4.5,10.0C-4.3,9.5 -3.9,9.3 -3.7,9.0C-3.5,8.7 -3.7,8.3 -3.5,8.0C-3.4,7.7 -3.2,7.3 -3.0,7.0C-2.8,6.7 -2.7,6.3 -2.6,6.0C-2.4,5.7 -2.1,5.3 -2.0,5.0C-1.9,4.7 -2.0,4.3 -1.9,4.0C-1.8,3.7 -1.7,3.3 -1.5,3.0C-1.4,2.7 -1.2,2.3 -1.1,2.0C-1.0,1.7 -1.0,1.3 -0.9,1.0C-0.7,0.7 -0.3,0.2 -0.2,0.0Z" fill="url(#mg)"/>
<ellipse cx="6.0" cy="11.6" rx="1.3" ry="0.9" fill="#b0b0b0" transform="rotate(-30,6.0,11.6)"/>
<ellipse cx="2.8" cy="21.9" rx="1.8" ry="3.6" fill="url(#tx)" opacity="0.19"/>
<ellipse cx="-0.1" cy="14.9" rx="2.8" ry="4.3" fill="url(#tx)" opacity="0.13"/>
<ellipse cx="1.1" cy="16.8" rx="2.5" ry="4.3" fill="url(#tx)" opacity="0.24"/>
<ellipse cx="0.9" cy="13.1" rx="3.1" ry="2.9" fill="url(#tx)" opacity="0.17"/>
</g>
</g>
<ellipse cx="52.19999999999999" cy="26.5" rx="4" ry="4.2" fill="url(#bl)"/>
<ellipse cx="52.19999999999999" cy="26.799999999999997" rx="1.6" ry="1.8" fill="url(#bd)"/>
</svg>
<rect x="363" y="82.0" width="58.30000000000001" height="39.099999999999994" fill="#1e1e1e"/>
<svg x="363" y="82.0" width="58.30000000000001" height="39.099999999999994" overflow="hidden">
<g filter="url(#fur)">
<g transform="translate(6.80,0.26) rotate(-1.1,0,19.5) scale(1.026,1.008)">
<path d="M3.6,30 L5.8,37.4 M-3.6,30 L-5.8,37.4 M0,32 L0,38" stroke="#b0b0b0" stroke-width="1.5" fill="none"/>
<path d="M0.4,0.0C0.5,0.2 0.7,0.7 0.9,1.0C1.0,1.3 1.0,1.7 1.1,2.0C1.2,2.3 1.3,2.7 1.4,3.0C1.5,3.3 1.6,3.7 1.7,4.0C1.8,4.3 1.9,4.7 2.0,5.0C2.2,5.3 2.3,5.7 2.5,6.0C2.7,6.3 2.9,6.7 3.1,7.0C3.3,7.3 3.7,7.7 3.8,8.0C3.9,8.3 3.8,8.7 3.8,9.0C3.8,9.3 3.8,9.5 4.0,10.0C4.2,10.5 4.7,11.3 4.9,12.0C5.1,12.7 5.3,13.2 5.3,14.0C5.4,14.8 5.3,15.8 5.4,17.0C5.4,18.2 5.5,19.7 5.6,21.0C5.7,22.3 5.8,23.8 5.9,25.0C6.0,26.2 6.4,27.2 6.4,28.0C6.3,28.8 5.7,29.4 5.6,30.0C5.4,30.6 5.7,31.1 5.4,31.5C5.2,31.9 4.3,32.2 3.9,32.5C3.5,32.8 3.4,33.1 2.9,33.3C2.5,33.5 1.6,33.7 1.0,33.8C0.4,33.9 -0.1,33.9 -0.6,33.8C-1.2,33.7 -1.6,33.5 -2.2,33.3C-2.8,33.1 -4.0,32.8 -4.5,32.5C-4.9,32.2 -4.7,31.9 -4.9,31.5C-5.1,31.1 -5.3,30.6 -5.5,30.0C-5.7,29.4 -6.1,28.8 -6.3,28.0C-6.5,27.2 -6.7,26.2 -6.6,25.0C-6.6,23.8 -6.4,22.3 -6.3,21.0C-6.2,19.7 -6.2,18.2 -6.0,17.0C-5.8,15.8 -5.1,14.8 -4.9,14.0C-4.7,13.2 -4.8,12.7 -4.7,12.0C-4.6,11.3 -4.2,10.5 -4.2,10.0C-4.1,9.5 -4.6,9.3 -4.4,9.0C-4.2,8.7 -3.3,8.3 -3.1,8.0C-2.8,7.7 -3.1,7.3 -3.0,7.0C-3.0,6.7 -2.7,6.3 -2.6,6.0C-2.4,5.7 -2.1,5.3 -2.0,5.0C-1.8,4.7 -1.8,4.3 -1.7,4.0C-1.7,3.7 -1.7,3.3 -1.6,3.0C-1.5,2.7 -1.2,2.3 -1.1,2.0C-1.0,1.7 -1.0,1.3 -0.9,1.0C-0.8,0.7 -0.5,0.2 -0.4,0.0Z" fill="url(#mg)"/>
<ellipse cx="-5.6" cy="9.3" rx="1.3" ry="0.9" fill="#b0b0b0" transform="rotate(30,-5.6,9.3)"/>
<ellipse cx="-1.4" cy="11.8" rx="2.0" ry="2.8" fill="url(#tx)" opacity="0.17"/>
<ellipse cx="2.7" cy="10.6" rx="2.1" ry="4.4" fill="url(#tx)" opacity="0.25"/>
<ellipse cx="3.1" cy="14.2" rx="2.3" ry="4.4" fill="url(#tx)" opacity="0.18"/>
<ellipse cx="1.3" cy="15.6" rx="1.8" ry="3.2" fill="url(#tx)" opacity="0.22"/>
</g>
<g transform="translate(21.20,0.38) rotate(0.4,0,19.5) scale(1.023,1.008)">
<path d="M3.6,30 L5.8,37.4 M-3.6,30 L-5.8,37.4 M0,32 L0,38" stroke="#b0b0b0" stroke-width="1.5" fill="none"/>
<path d="M0.3,0.0C0.4,0.2 0.8,0.7 0.9,1.0C1.0,1.3 1.0,1.7 1.1,2.0C1.2,2.3 1.5,2.7 1.6,3.0C1.7,3.3 1.6,3.7 1.7,4.0C1.8,4.3 2.1,4.7 2.2,5.0C2.3,5.3 2.3,5.7 2.4,6.0C2.6,6.3 2.7,6.7 2.9,7.0C3.0,7.3 3.3,7.7 3.4,8.0C3.5,8.3 3.4,8.7 3.7,9.0C3.9,9.3 4.5,9.5 4.7,10.0C5.0,10.5 5.2,11.3 5.3,12.0C5.4,12.7 5.3,13.2 5.3,14.0C5.3,14.8 5.1,15.8 5.2,17.0C5.3,18.2 5.7,19.7 5.8,21.0C6.0,22.3 6.2,23.8 6.3,25.0C6.4,26.2 6.3,27.2 6.2,28.0C6.1,28.8 5.9,29.4 5.7,30.0C5.6,30.6 5.5,31.1 5.3,31.5C5.1,31.9 5.0,32.2 4.6,32.5C4.2,32.8 3.5,33.1 2.9,33.3C2.3,33.5 1.6,33.7 1.0,33.8C0.5,33.9 0.2,33.9 -0.4,33.8C-1.0,33.7 -1.7,33.5 -2.4,33.3C-3.1,33.1 -4.0,32.8 -4.5,32.5C-5.1,32.2 -5.4,31.9 -5.6,31.5C-5.8,31.1 -5.7,30.6 -5.8,30.0C-5.8,29.4 -6.0,28.8 -6.1,28.0C-6.1,27.2 -6.1,26.2 -6.0,25.0C-6.0,23.8 -5.6,22.3 -5.6,21.0C-5.5,19.7 -5.6,18.2 -5.6,17.0C-5.6,15.8 -5.6,14.8 -5.5,14.0C-5.4,13.2 -5.2,12.7 -5.1,12.0C-4.9,11.3 -4.9,10.5 -4.7,10.0C-4.4,9.5 -3.7,9.3 -3.6,9.0C-3.4,8.7 -3.9,8.3 -3.8,8.0C-3.8,7.7 -3.4,7.3 -3.1,7.0C-2.9,6.7 -2.6,6.3 -2.4,6.0C-2.2,5.7 -2.1,5.3 -2.0,5.0C-1.9,4.7 -2.0,4.3 -1.9,4.0C-1.9,3.7 -1.7,3.3 -1.6,3.0C-1.5,2.7 -1.3,2.3 -1.2,2.0C-1.1,1.7 -1.1,1.3 -1.0,1.0C-0.8,0.7 -0.4,0.2 -0.3,0.0Z" fill="url(#mg)"/>
<ellipse cx="-5.9" cy="10.5" rx="1.3" ry="0.9" fill="#b0b0b0" transform="rotate(30,-5.9,10.5)"/>
<ellipse cx="5.5" cy="10.9" rx="1.3" ry="0.9" fill="#b0b0b0" transform="rotate(-30,5.5,10.9)"/>
<ellipse cx="3.0" cy="18.5" rx="2.5" ry="3.6" fill="url(#tx)" opacity="0.23"/>
<ellipse cx="3.1" cy="20.1" rx="2.4" ry="3.7" fill="url(#tx)" opacity="0.13"/>
<ellipse cx="-0.5" cy="26.8" rx="2.9" ry="2.6" fill="url(#tx)" opacity="0.23"/>
<ellipse cx="-0.7" cy="29.6" rx="2.3" ry="2.9" fill="url(#tx)" opacity="0.19"/>
</g>
<g transform="translate(35.70,0.62) rotate(-0.4,0,19.5) scale(1.031,1.008)">
<path d="M3.6,30 L5.8,37.4 M-3.6,30 L-5.8,37.4 M0,32 L0,38" stroke="#b0b0b0" stroke-width="1.5" fill="none"/>
<path d="M0.4,0.0C0.4,0.2 0.7,0.7 0.8,1.0C1.0,1.3 1.1,1.7 1.2,2.0C1.3,2.3 1.4,2.7 1.5,3.0C1.6,3.3 1.7,3.7 1.8,4.0C1.9,4.3 1.9,4.7 2.0,5.0C2.1,5.3 2.4,5.7 2.5,6.0C2.7,6.3 2.8,6.7 2.9,7.0C3.0,7.3 3.1,7.7 3.3,8.0C3.5,8.3 3.8,8.7 4.0,9.0C4.2,9.3 4.2,9.5 4.4,10.0C4.6,10.5 5.0,11.3 5.2,12.0C5.4,12.7 5.6,13.2 5.7,14.0C5.8,14.8 5.7,15.8 5.8,17.0C5.9,18.2 6.2,19.7 6.2,21.0C6.3,22.3 6.2,23.8 6.2,25.0C6.1,26.2 6.0,27.2 6.0,28.0C6.0,28.8 6.4,29.4 6.2,30.0C6.0,30.6 5.2,31.1 4.8,31.5C4.5,31.9 4.4,32.2 4.1,32.5C3.7,32.8 3.5,33.1 2.9,33.3C2.3,33.5 1.0,33.7 0.4,33.8C-0.2,33.9 -0.0,33.9 -0.5,33.8C-1.0,33.7 -1.8,33.5 -2.3,33.3C-2.9,33.1 -3.3,32.8 -3.8,32.5C-4.2,32.2 -4.4,31.9 -4.8,31.5C-5.1,31.1 -5.8,30.6 -6.0,30.0C-6.2,29.4 -5.8,28.8 -5.9,28.0C-6.0,27.2 -6.6,26.2 -6.6,25.0C-6.5,23.8 -6.0,22.3 -5.8,21.0C-5.6,19.7 -5.3,18.2 -5.3,17.0C-5.2,15.8 -5.3,14.8 -5.2,14.0C-5.2,13.2 -5.3,12.7 -5.2,12.0C-5.1,11.3 -4.8,10.5 -4.6,10.0C-4.5,9.5 -4.6,9.3 -4.4,9.0C-4.1,8.7 -3.3,8.3 -3.1,8.0C-2.8,7.7 -3.1,7.3 -3.0,7.0C-2.8,6.7 -2.6,6.3 -2.4,6.0C-2.3,5.7 -2.2,5.3 -2.1,5.0C-1.9,4.7 -1.8,4.3 -1.7,4.0C-1.6,3.7 -1.7,3.3 -1.6,3.0C-1.5,2.7 -1.3,2.3 -1.2,2.0C-1.0,1.7 -1.1,1.3 -0.9,1.0C-0.8,0.7 -0.4,0.2 -0.3,0.0Z" fill="url(#mg)"/>
<ellipse cx="5.9" cy="10.9" rx="1.3" ry="0.9" fill="#b0b0b0" transform="rotate(-30,5.9,10.9)"/>
<ellipse cx="-0.4" cy="11.0" rx="3.2" ry="3.9" fill="url(#tx)" opacity="0.13"/>
<ellipse cx="-0.4" cy="24.8" rx="3.2" ry="2.6" fill="url(#tx)" opacity="0.12"/>
<ellipse cx="-0.1" cy="17.9" rx="3.1" ry="4.2" fill="url(#tx)" opacity="0.16"/>
<ellipse cx="-0.5" cy="21.2" rx="3.0" ry="2.9" fill="url(#tx)" opacity="0.17"/>
</g>
<g transform="translate(50.20,0.12) rotate(0.8,0,19.5) scale(0.967,1.008)">
<path d="M3.6,30 L5.8,37.4 M-3.6,30 L-5.8,37.4 M0,32 L0,38" stroke="#b0b0b0" stroke-width="1.5" fill="none"/>
<path d="M0.4,0.0C0.5,0.2 0.8,0.7 0.9,1.0C1.0,1.3 1.0,1.7 1.1,2.0C1.2,2.3 1.5,2.7 1.6,3.0C1.7,3.3 1.7,3.7 1.7,4.0C1.8,4.3 2.0,4.7 2.1,5.0C2.3,5.3 2.3,5.7 2.4,6.0C2.6,6.3 2.9,6.7 3.1,7.0C3.3,7.3 3.4,7.7 3.5,8.0C3.7,8.3 3.7,8.7 3.9,9.0C4.1,9.3 4.6,9.5 4.8,10.0C5.0,10.5 5.1,11.3 5.1,12.0C5.1,12.7 4.9,13.2 4.9,14.0C5.0,14.8 5.2,15.8 5.4,17.0C5.7,18.2 6.1,19.7 6.2,21.0C6.4,22.3 6.6,23.8 6.5,25.0C6.4,26.2 6.0,27.2 5.9,28.0C5.7,28.8 6.0,29.4 5.8,30.0C5.7,30.6 5.2,31.1 4.9,31.5C4.6,31.9 4.5,32.2 4.2,32.5C3.9,32.8 3.6,33.1 2.9,33.3C2.3,33.5 0.8,33.7 0.2,33.8C-0.4,33.9 0.0,33.9 -0.5,33.8C-1.0,33.7 -2.3,33.5 -2.9,33.3C-3.5,33.1 -3.8,32.8 -4.1,32.5C-4.4,32.2 -4.5,31.9 -4.8,31.5C-5.0,31.1 -5.3,30.6 -5.6,30.0C-5.9,29.4 -6.4,28.8 -6.6,28.0C-6.7,27.2 -6.7,26.2 -6.6,25.0C-6.4,23.8 -5.9,22.3 -5.6,21.0C-5.4,19.7 -5.4,18.2 -5.3,17.0C-5.3,15.8 -5.4,14.8 -5.2,14.0C-5.1,13.2 -4.7,12.7 -4.6,12.0C-4.5,11.3 -4.8,10.5 -4.7,10.0C-4.7,9.5 -4.4,9.3 -4.2,9.0C-4.1,8.7 -3.8,8.3 -3.6,8.0C-3.4,7.7 -3.1,7.3 -2.9,7.0C-2.7,6.7 -2.6,6.3 -2.4,6.0C-2.3,5.7 -2.2,5.3 -2.1,5.0C-2.0,4.7 -2.0,4.3 -1.9,4.0C-1.8,3.7 -1.6,3.3 -1.5,3.0C-1.4,2.7 -1.3,2.3 -1.2,2.0C-1.1,1.7 -0.9,1.3 -0.8,1.0C-0.6,0.7 -0.4,0.2 -0.3,0.0Z" fill="url(#mg)"/>
<ellipse cx="-5.5" cy="9.5" rx="1.3" ry="0.9" fill="#b0b0b0" transform="rotate(30,-5.5,9.5)"/>
<ellipse cx="5.5" cy="11.1" rx="1.3" ry="0.9" fill="#b0b0b0" transform="rotate(-30,5.5,11.1)"/>
<ellipse cx="-2.5" cy="13.6" rx="2.4" ry="3.6" fill="url(#tx)" opacity="0.15"/>
<ellipse cx="1.3" cy="13.5" rx="2.7" ry="3.7" fill="url(#tx)" opacity="0.14"/>
<ellipse cx="1.6" cy="17.3" rx="2.6" ry="3.7" fill="url(#tx)" opacity="0.20"/>
<ellipse cx="-0.4" cy="10.2" rx="2.9" ry="4.2" fill="url(#tx)" opacity="0.18"/>
</g>
</g>
</svg>
<rect x="363" y="123.6" width="58.30000000000001" height="37.900000000000006" fill="#1e1e1e"/>
<svg x="363" y="123.6" width="58.30000000000001" height="37.900000000000006" overflow="hidden">
<g filter="url(#fur)">
<g transform="translate(6.80,0.64) rotate(-1.4,0,19.0) scale(1.006,0.976)">
<path d="M3.6,30 L5.8,37.4 M-3.6,30 L-5.8,37.4 M0,32 L0,38" stroke="#b0b0b0" stroke-width="1.5" fill="none"/>
<path d="M0.4,0.0C0.5,0.2 0.9,0.7 1.0,1.0C1.1,1.3 1.1,1.7 1.2,2.0C1.2,2.3 1.4,2.7 1.5,3.0C1.6,3.3 1.7,3.7 1.9,4.0C2.0,4.3 2.1,4.7 2.2,5.0C2.3,5.3 2.2,5.7 2.4,6.0C2.5,6.3 2.9,6.7 3.1,7.0C3.3,7.3 3.4,7.7 3.5,8.0C3.7,8.3 3.8,8.7 4.0,9.0C4.1,9.3 4.4,9.5 4.5,10.0C4.6,10.5 4.5,11.3 4.6,12.0C4.8,12.7 5.4,13.2 5.5,14.0C5.7,14.8 5.3,15.8 5.4,17.0C5.5,18.2 6.0,19.7 6.2,21.0C6.4,22.3 6.6,23.8 6.6,25.0C6.7,26.2 6.6,27.2 6.4,28.0C6.2,28.8 5.6,29.4 5.5,30.0C5.3,30.6 5.6,31.1 5.4,31.5C5.2,31.9 4.7,32.2 4.2,32.5C3.7,32.8 3.0,33.1 2.4,33.3C1.8,33.5 1.1,33.7 0.7,33.8C0.2,33.9 0.1,33.9 -0.5,33.8C-1.1,33.7 -2.2,33.5 -2.8,33.3C-3.4,33.1 -3.9,32.8 -4.3,32.5C-4.6,32.2 -4.8,31.9 -5.1,31.5C-5.4,31.1 -5.9,30.6 -6.1,30.0C-6.2,29.4 -5.9,28.8 -6.0,28.0C-6.1,27.2 -6.5,26.2 -6.5,25.0C-6.5,23.8 -6.0,22.3 -5.9,21.0C-5.8,19.7 -6.1,18.2 -6.0,17.0C-5.9,15.8 -5.6,14.8 -5.3,14.0C-5.1,13.2 -4.6,12.7 -4.5,12.0C-4.4,11.3 -4.8,10.5 -4.7,10.0C-4.6,9.5 -4.1,9.3 -4.0,9.0C-3.8,8.7 -4.0,8.3 -3.8,8.0C-3.7,7.7 -3.2,7.3 -3.0,7.0C-2.8,6.7 -2.7,6.3 -2.5,6.0C-2.4,5.7 -2.2,5.3 -2.1,5.0C-2.0,4.7 -1.9,4.3 -1.8,4.0C-1.6,3.7 -1.5,3.3 -1.4,3.0C-1.3,2.7 -1.4,2.3 -1.3,2.0C-1.3,1.7 -1.2,1.3 -1.0,1.0C-0.8,0.7 -0.4,0.2 -0.2,0.0Z" fill="url(#mg)"/>
<ellipse cx="-5.5" cy="10.7" rx="1.3" ry="0.9" fill="#b0b0b0" transform="rotate(30,-5.5,10.7)"/>
<ellipse cx="-2.1" cy="17.3" rx="2.1" ry="3.3" fill="url(#tx)" opacity="0.19"/>
<ellipse cx="-2.5" cy="10.2" rx="2.5" ry="2.9" fill="url(#tx)" opacity="0.19"/>
<ellipse cx="-2.1" cy="11.1" rx="2.6" ry="4.3" fill="url(#tx)" opacity="0.23"/>
<ellipse cx="0.1" cy="17.3" rx="1.9" ry="3.1" fill="url(#tx)" opacity="0.16"/>
</g>
<g transform="translate(21.20,0.67) rotate(-2.3,0,19.0) scale(1.035,0.976)">
<path d="M3.6,30 L5.8,37.4 M-3.6,30 L-5.8,37.4 M0,32 L0,38" stroke="#b0b0b0" stroke-width="1.5" fill="none"/>
<path d="M0.3,0.0C0.4,0.2 0.7,0.7 0.8,1.0C1.0,1.3 1.0,1.7 1.1,2.0C1.2,2.3 1.4,2.7 1.5,3.0C1.6,3.3 1.6,3.7 1.7,4.0C1.8,4.3 2.0,4.7 2.2,5.0C2.3,5.3 2.5,5.7 2.6,6.0C2.8,6.3 2.9,6.7 3.1,7.0C3.2,7.3 3.0,7.7 3.3,8.0C3.5,8.3 4.2,8.7 4.4,9.0C4.7,9.3 4.5,9.5 4.6,10.0C4.7,10.5 4.9,11.3 5.1,12.0C5.2,12.7 5.2,13.2 5.3,14.0C5.5,14.8 5.8,15.8 5.9,17.0C6.0,18.2 5.9,19.7 5.9,21.0C5.9,22.3 6.1,23.8 6.1,25.0C6.1,26.2 6.0,27.2 6.0,28.0C6.0,28.8 6.2,29.4 6.0,30.0C5.8,30.6 5.1,31.1 4.8,31.5C4.5,31.9 4.7,32.2 4.3,32.5C4.0,32.8 3.4,33.1 2.8,33.3C2.3,33.5 1.6,33.7 1.0,33.8C0.4,33.9 -0.3,33.9 -0.9,33.8C-1.5,33.7 -2.1,33.5 -2.6,33.3C-3.1,33.1 -3.6,32.8 -3.9,32.5C-4.3,32.2 -4.6,31.9 -4.9,31.5C-5.2,31.1 -5.6,30.6 -5.8,30.0C-6.0,29.4 -6.1,28.8 -6.2,28.0C-6.4,27.2 -6.5,26.2 -6.5,25.0C-6.4,23.8 -6.2,22.3 -6.1,21.0C-6.0,19.7 -6.0,18.2 -5.8,17.0C-5.7,15.8 -5.4,14.8 -5.2,14.0C-5.0,13.2 -4.9,12.7 -4.7,12.0C-4.5,11.3 -4.2,10.5 -4.1,10.0C-4.0,9.5 -4.0,9.3 -3.8,9.0C-3.7,8.7 -3.6,8.3 -3.5,8.0C-3.3,7.7 -3.2,7.3 -3.1,7.0C-2.9,6.7 -2.5,6.3 -2.4,6.0C-2.2,5.7 -2.2,5.3 -2.2,5.0C-2.1,4.7 -2.1,4.3 -1.9,4.0C-1.8,3.7 -1.5,3.3 -1.4,3.0C-1.3,2.7 -1.3,2.3 -1.2,2.0C-1.2,1.7 -1.2,1.3 -1.0,1.0C-0.9,0.7 -0.4,0.2 -0.3,0.0Z" fill="url(#mg)"/>
<ellipse cx="5.8" cy="9.1" rx="1.3" ry="0.9" fill="#b0b0b0" transform="rotate(-30,5.8,9.1)"/>
<ellipse cx="1.6" cy="28.3" rx="2.1" ry="2.8" fill="url(#tx)" opacity="0.25"/>
<ellipse cx="1.5" cy="19.2" rx="2.8" ry="2.8" fill="url(#tx)" opacity="0.19"/>
<ellipse cx="1.1" cy="21.7" rx="2.0" ry="2.8" fill="url(#tx)" opacity="0.20"/>
<ellipse cx="2.5" cy="11.9" rx="1.8" ry="2.7" fill="url(#tx)" opacity="0.22"/>
</g>
<g transform="translate(35.70,0.70) rotate(-0.3,0,19.0) scale(0.991,0.976)">
<path d="M3.6,30 L5.8,37.4 M-3.6,30 L-5.8,37.4 M0,32 L0,38" stroke="#b0b0b0" stroke-width="1.5" fill="none"/>
<path d="M0.3,0.0C0.4,0.2 0.8,0.7 1.0,1.0C1.1,1.3 1.1,1.7 1.1,2.0C1.2,2.3 1.3,2.7 1.4,3.0C1.5,3.3 1.7,3.7 1.8,4.0C1.9,4.3 2.1,4.7 2.2,5.0C2.4,5.3 2.4,5.7 2.6,6.0C2.7,6.3 2.9,6.7 3.1,7.0C3.3,7.3 3.5,7.7 3.7,8.0C3.8,8.3 3.6,8.7 3.8,9.0C3.9,9.3 4.5,9.5 4.7,10.0C4.8,10.5 4.6,11.3 4.7,12.0C4.7,12.7 4.8,13.2 4.9,14.0C5.1,14.8 5.5,15.8 5.7,17.0C5.8,18.2 6.0,19.7 6.0,21.0C6.0,22.3 5.8,23.8 5.8,25.0C5.8,26.2 6.0,27.2 6.1,28.0C6.1,28.8 6.1,29.4 6.0,30.0C5.9,30.6 5.7,31.1 5.4,31.5C5.2,31.9 4.8,32.2 4.3,32.5C3.9,32.8 3.3,33.1 2.6,33.3C2.0,33.5 0.9,33.7 0.4,33.8C-0.0,33.9 0.3,33.9 -0.2,33.8C-0.7,33.7 -1.8,33.5 -2.5,33.3C-3.2,33.1 -4.0,32.8 -4.4,32.5C-4.9,32.2 -5.1,31.9 -5.3,31.5C-5.5,31.1 -5.6,30.6 -5.7,30.0C-5.8,29.4 -5.9,28.8 -5.9,28.0C-5.9,27.2 -5.8,26.2 -5.8,25.0C-5.7,23.8 -5.7,22.3 -5.7,21.0C-5.7,19.7 -5.7,18.2 -5.6,17.0C-5.5,15.8 -5.3,14.8 -5.1,14.0C-5.0,13.2 -5.0,12.7 -4.8,12.0C-4.7,11.3 -4.4,10.5 -4.3,10.0C-4.1,9.5 -4.1,9.3 -4.0,9.0C-3.8,8.7 -3.5,8.3 -3.3,8.0C-3.2,7.7 -3.1,7.3 -3.0,7.0C-2.8,6.7 -2.6,6.3 -2.5,6.0C-2.3,5.7 -2.1,5.3 -2.0,5.0C-1.9,4.7 -1.9,4.3 -1.8,4.0C-1.7,3.7 -1.5,3.3 -1.4,3.0C-1.3,2.7 -1.4,2.3 -1.3,2.0C-1.2,1.7 -0.9,1.3 -0.8,1.0C-0.6,0.7 -0.3,0.2 -0.2,0.0Z" fill="url(#mg)"/>
<ellipse cx="-2.6" cy="28.5" rx="2.6" ry="3.7" fill="url(#tx)" opacity="0.18"/>
<ellipse cx="-2.4" cy="30.0" rx="2.0" ry="3.2" fill="url(#tx)" opacity="0.25"/>
<ellipse cx="-2.4" cy="19.5" rx="2.5" ry="3.0" fill="url(#tx)" opacity="0.24"/>
<ellipse cx="-0.5" cy="9.2" rx="2.5" ry="2.5" fill="url(#tx)" opacity="0.21"/>
</g>
<g transform="translate(50.20,0.13) rotate(2.4,0,19.0) scale(1.030,0.976)">
<path d="M3.6,30 L5.8,37.4 M-3.6,30 L-5.8,37.4 M0,32 L0,38" stroke="#b0b0b0" stroke-width="1.5" fill="none"/>
<path d="M0.3,0.0C0.4,0.2 0.8,0.7 0.9,1.0C1.0,1.3 1.0,1.7 1.1,2.0C1.3,2.3 1.4,2.7 1.5,3.0C1.7,3.3 1.8,3.7 1.9,4.0C2.0,4.3 2.1,4.7 2.2,5.0C2.3,5.3 2.3,5.7 2.4,6.0C2.5,6.3 2.8,6.7 3.0,7.0C3.2,7.3 3.4,7.7 3.5,8.0C3.6,8.3 3.5,8.7 3.6,9.0C3.8,9.3 4.3,9.5 4.4,10.0C4.5,10.5 4.3,11.3 4.5,12.0C4.6,12.7 5.3,13.2 5.5,14.0C5.6,14.8 5.4,15.8 5.5,17.0C5.6,18.2 5.8,19.7 6.0,21.0C6.1,22.3 6.2,23.8 6.2,25.0C6.1,26.2 5.8,27.2 5.8,28.0C5.8,28.8 6.2,29.4 6.1,30.0C6.0,30.6 5.5,31.1 5.2,31.5C4.8,31.9 4.5,32.2 4.1,32.5C3.7,32.8 3.4,33.1 2.8,33.3C2.2,33.5 1.1,33.7 0.6,33.8C0.1,33.9 0.3,33.9 -0.3,33.8C-0.9,33.7 -2.3,33.5 -3.0,33.3C-3.7,33.1 -4.0,32.8 -4.3,32.5C-4.7,32.2 -4.8,31.9 -5.0,31.5C-5.2,31.1 -5.5,30.6 -5.7,30.0C-5.9,29.4 -5.9,28.8 -6.0,28.0C-6.1,27.2 -6.3,26.2 -6.3,25.0C-6.3,23.8 -5.9,22.3 -5.8,21.0C-5.7,19.7 -5.8,18.2 -5.8,17.0C-5.8,15.8 -5.9,14.8 -5.7,14.0C-5.5,13.2 -4.7,12.7 -4.5,12.0C-4.4,11.3 -4.9,10.5 -4.8,10.0C-4.8,9.5 -4.4,9.3 -4.2,9.0C-4.0,8.7 -3.8,8.3 -3.6,8.0C-3.4,7.7 -3.2,7.3 -3.1,7.0C-2.9,6.7 -2.7,6.3 -2.6,6.0C-2.4,5.7 -2.2,5.3 -2.0,5.0C-1.9,4.7 -1.8,4.3 -1.7,4.0C-1.6,3.7 -1.5,3.3 -1.4,3.0C-1.3,2.7 -1.2,2.3 -1.1,2.0C-1.0,1.7 -1.0,1.3 -0.8,1.0C-0.7,0.7 -0.3,0.2 -0.2,0.0Z" fill="url(#mg)"/>
<ellipse cx="-5.4" cy="9.2" rx="1.3" ry="0.9" fill="#b0b0b0" transform="rotate(30,-5.4,9.2)"/>
<ellipse cx="0.7" cy="14.1" rx="2.1" ry="2.7" fill="url(#tx)" opacity="0.14"/>
<ellipse cx="0.0" cy="14.4" rx="3.0" ry="3.6" fill="url(#tx)" opacity="0.16"/>
<ellipse cx="-0.4" cy="9.8" rx="2.8" ry="4.0" fill="url(#tx)" opacity="0.17"/>
<ellipse cx="1.4" cy="14.7" rx="2.1" ry="3.0" fill="url(#tx)" opacity="0.15"/>
</g>
</g>
</svg>
<rect x="363" y="164.0" width="58.30000000000001" height="39.19999999999999" fill="#1e1e1e"/>
<svg x="363" y="164.0" width="58.30000000000001" height="39.19999999999999" overflow="hidden">
<g filter="url(#fur)">
<g transform="translate(7.20,0.54) rotate(0.9,0,19.6) scale(1.059,1.011)">
<path d="M3.6,30 L5.8,37.4 M-3.6,30 L-5.8,37.4 M0,32 L0,38" stroke="#b0b0b0" stroke-width="1.5" fill="none"/>
<path d="M0.2,0.0C0.3,0.2 0.7,0.7 0.9,1.0C1.1,1.3 1.1,1.7 1.2,2.0C1.3,2.3 1.3,2.7 1.4,3.0C1.5,3.3 1.7,3.7 1.8,4.0C2.0,4.3 2.1,4.7 2.2,5.0C2.3,5.3 2.5,5.7 2.6,6.0C2.7,6.3 3.0,6.7 3.1,7.0C3.2,7.3 3.0,7.7 3.2,8.0C3.4,8.3 4.1,8.7 4.4,9.0C4.6,9.3 4.4,9.5 4.5,10.0C4.5,10.5 4.5,11.3 4.7,12.0C4.9,12.7 5.6,13.2 5.7,14.0C5.8,14.8 5.2,15.8 5.3,17.0C5.4,18.2 6.1,19.7 6.2,21.0C6.3,22.3 6.0,23.8 6.0,25.0C6.1,26.2 6.7,27.2 6.6,28.0C6.5,28.8 5.7,29.4 5.5,30.0C5.2,30.6 5.2,31.1 5.0,31.5C4.9,31.9 5.1,32.2 4.6,32.5C4.2,32.8 2.9,33.1 2.2,33.3C1.5,33.5 0.8,33.7 0.4,33.8C-0.1,33.9 0.2,33.9 -0.3,33.8C-0.9,33.7 -2.3,33.5 -2.9,33.3C-3.6,33.1 -3.6,32.8 -4.0,32.5C-4.4,32.2 -4.7,31.9 -5.1,31.5C-5.5,31.1 -6.2,30.6 -6.3,30.0C-6.5,29.4 -6.0,28.8 -6.0,28.0C-6.0,27.2 -6.2,26.2 -6.1,25.0C-6.1,23.8 -6.0,22.3 -5.8,21.0C-5.7,19.7 -5.4,18.2 -5.3,17.0C-5.2,15.8 -5.3,14.8 -5.2,14.0C-5.2,13.2 -5.3,12.7 -5.2,12.0C-5.1,11.3 -5.1,10.5 -4.8,10.0C-4.5,9.5 -3.8,9.3 -3.7,9.0C-3.5,8.7 -3.8,8.3 -3.7,8.0C-3.7,7.7 -3.3,7.3 -3.1,7.0C-2.9,6.7 -2.8,6.3 -2.6,6.0C-2.4,5.7 -2.1,5.3 -2.0,5.0C-1.9,4.7 -1.9,4.3 -1.9,4.0C-1.8,3.7 -1.6,3.3 -1.5,3.0C-1.4,2.7 -1.3,2.3 -1.2,2.0C-1.1,1.7 -1.0,1.3 -0.9,1.0C-0.7,0.7 -0.5,0.2 -0.4,0.0Z" fill="url(#mg)"/>
<ellipse cx="5.5" cy="11.7" rx="1.3" ry="0.9" fill="#b0b0b0" transform="rotate(-30,5.5,11.7)"/>
<ellipse cx="-1.3" cy="13.5" rx="2.6" ry="3.6" fill="url(#tx)" opacity="0.17"/>
<ellipse cx="0.0" cy="15.3" rx="3.0" ry="4.4" fill="url(#tx)" opacity="0.22"/>
<ellipse cx="2.0" cy="10.5" rx="2.2" ry="2.9" fill="url(#tx)" opacity="0.14"/>
<ellipse cx="3.0" cy="28.0" rx="3.1" ry="3.6" fill="url(#tx)" opacity="0.14"/>
</g>
<g transform="translate(23.60,0.64) rotate(-2.7,0,19.6) scale(0.994,1.011)">
<path d="M3.6,30 L5.8,37.4 M-3.6,30 L-5.8,37.4 M0,32 L0,38" stroke="#b0b0b0" stroke-width="1.5" fill="none"/>
<path d="M0.2,0.0C0.4,0.2 0.8,0.7 1.0,1.0C1.2,1.3 1.2,1.7 1.3,2.0C1.4,2.3 1.4,2.7 1.5,3.0C1.6,3.3 1.8,3.7 1.9,4.0C2.0,4.3 2.0,4.7 2.1,5.0C2.2,5.3 2.4,5.7 2.5,6.0C2.7,6.3 2.8,6.7 2.9,7.0C3.0,7.3 2.9,7.7 3.1,8.0C3.2,8.3 3.7,8.7 3.9,9.0C4.1,9.3 4.1,9.5 4.2,10.0C4.4,10.5 4.6,11.3 4.7,12.0C4.9,12.7 5.1,13.2 5.2,14.0C5.3,14.8 5.3,15.8 5.4,17.0C5.6,18.2 6.0,19.7 6.2,21.0C6.3,22.3 6.5,23.8 6.4,25.0C6.4,26.2 5.9,27.2 5.9,28.0C5.8,28.8 6.3,29.4 6.2,30.0C6.1,30.6 5.4,31.1 5.1,31.5C4.8,31.9 4.9,32.2 4.5,32.5C4.1,32.8 3.2,33.1 2.5,33.3C1.8,33.5 0.7,33.7 0.2,33.8C-0.4,33.9 -0.2,33.9 -0.6,33.8C-1.1,33.7 -1.9,33.5 -2.5,33.3C-3.1,33.1 -3.6,32.8 -4.1,32.5C-4.5,32.2 -4.9,31.9 -5.2,31.5C-5.5,31.1 -5.8,30.6 -5.9,30.0C-6.0,29.4 -5.9,28.8 -5.9,28.0C-6.0,27.2 -6.2,26.2 -6.2,25.0C-6.2,23.8 -5.9,22.3 -5.8,21.0C-5.7,19.7 -5.7,18.2 -5.6,17.0C-5.5,15.8 -5.3,14.8 -5.2,14.0C-5.0,13.2 -5.1,12.7 -4.9,12.0C-4.8,11.3 -4.3,10.5 -4.1,10.0C-3.8,9.5 -3.7,9.3 -3.7,9.0C-3.7,8.7 -3.9,8.3 -3.8,8.0C-3.7,7.7 -3.3,7.3 -3.0,7.0C-2.8,6.7 -2.6,6.3 -2.4,6.0C-2.3,5.7 -2.3,5.3 -2.1,5.0C-2.0,4.7 -1.9,4.3 -1.8,4.0C-1.6,3.7 -1.5,3.3 -1.4,3.0C-1.3,2.7 -1.2,2.3 -1.1,2.0C-1.1,1.7 -1.0,1.3 -0.8,1.0C-0.7,0.7 -0.3,0.2 -0.2,0.0Z" fill="url(#mg)"/>
<ellipse cx="-5.7" cy="10.5" rx="1.3" ry="0.9" fill="#b0b0b0" transform="rotate(30,-5.7,10.5)"/>
<ellipse cx="5.4" cy="11.1" rx="1.3" ry="0.9" fill="#b0b0b0" transform="rotate(-30,5.4,11.1)"/>
<ellipse cx="3.1" cy="11.4" rx="3.0" ry="2.9" fill="url(#tx)" opacity="0.22"/>
<ellipse cx="-1.5" cy="10.6" rx="2.6" ry="4.2" fill="url(#tx)" opacity="0.23"/>
<ellipse cx="2.4" cy="29.6" rx="1.9" ry="3.3" fill="url(#tx)" opacity="0.13"/>
<ellipse cx="1.6" cy="18.5" rx="2.8" ry="4.1" fill="url(#tx)" opacity="0.25"/>
</g>
<g transform="translate(37.20,0.43) rotate(2.3,0,19.6) scale(1.014,1.011)">
<path d="M3.6,30 L5.8,37.4 M-3.6,30 L-5.8,37.4 M0,32 L0,38" stroke="#b0b0b0" stroke-width="1.5" fill="none"/>
<path d="M0.2,0.0C0.3,0.2 0.6,0.7 0.8,1.0C1.0,1.3 1.2,1.7 1.3,2.0C1.4,2.3 1.5,2.7 1.5,3.0C1.6,3.3 1.7,3.7 1.7,4.0C1.8,4.3 1.8,4.7 2.0,5.0C2.1,5.3 2.4,5.7 2.6,6.0C2.8,6.3 2.9,6.7 3.1,7.0C3.2,7.3 3.4,7.7 3.6,8.0C3.8,8.3 4.1,8.7 4.2,9.0C4.3,9.3 3.9,9.5 4.1,10.0C4.3,10.5 5.1,11.3 5.3,12.0C5.5,12.7 5.3,13.2 5.4,14.0C5.5,14.8 5.8,15.8 5.9,17.0C6.0,18.2 5.9,19.7 5.9,21.0C5.9,22.3 5.8,23.8 5.9,25.0C6.0,26.2 6.5,27.2 6.5,28.0C6.4,28.8 6.0,29.4 5.7,30.0C5.4,30.6 5.2,31.1 4.9,31.5C4.6,31.9 4.5,32.2 4.1,32.5C3.8,32.8 3.2,33.1 2.6,33.3C2.0,33.5 0.9,33.7 0.4,33.8C-0.1,33.9 0.1,33.9 -0.5,33.8C-1.0,33.7 -2.2,33.5 -2.8,33.3C-3.4,33.1 -3.6,32.8 -4.1,32.5C-4.6,32.2 -5.3,31.9 -5.6,31.5C-5.8,31.1 -5.5,30.6 -5.7,30.0C-5.8,29.4 -6.4,28.8 -6.5,28.0C-6.6,27.2 -6.5,26.2 -6.4,25.0C-6.3,23.8 -6.2,22.3 -6.1,21.0C-5.9,19.7 -5.7,18.2 -5.6,17.0C-5.4,15.8 -5.1,14.8 -5.0,14.0C-4.8,13.2 -4.7,12.7 -4.6,12.0C-4.6,11.3 -4.6,10.5 -4.4,10.0C-4.3,9.5 -3.7,9.3 -3.6,9.0C-3.4,8.7 -3.8,8.3 -3.7,8.0C-3.7,7.7 -3.3,7.3 -3.1,7.0C-2.8,6.7 -2.6,6.3 -2.4,6.0C-2.3,5.7 -2.2,5.3 -2.1,5.0C-2.0,4.7 -2.0,4.3 -1.9,4.0C-1.7,3.7 -1.5,3.3 -1.4,3.0C-1.3,2.7 -1.2,2.3 -1.1,2.0C-1.0,1.7 -0.9,1.3 -0.8,1.0C-0.7,0.7 -0.5,0.2 -0.4,0.0Z" fill="url(#mg)"/>
<ellipse cx="-1.3" cy="10.5" rx="3.1" ry="4.0" fill="url(#tx)" opacity="0.20"/>
<ellipse cx="-0.6" cy="29.1" rx="2.4" ry="2.9" fill="url(#tx)" opacity="0.13"/>
<ellipse cx="-1.0" cy="21.6" rx="2.3" ry="4.4" fill="url(#tx)" opacity="0.20"/>
<ellipse cx="-0.3" cy="22.9" rx="2.6" ry="3.7" fill="url(#tx)" opacity="0.18"/>
</g>
<g transform="translate(51.40,0.60) rotate(-0.1,0,19.6) scale(1.002,1.011)">
<path d="M3.6,30 L5.8,37.4 M-3.6,30 L-5.8,37.4 M0,32 L0,38" stroke="#b0b0b0" stroke-width="1.5" fill="none"/>
<path d="M0.2,0.0C0.3,0.2 0.7,0.7 0.8,1.0C1.0,1.3 1.0,1.7 1.1,2.0C1.2,2.3 1.4,2.7 1.5,3.0C1.6,3.3 1.6,3.7 1.7,4.0C1.8,4.3 1.9,4.7 2.0,5.0C2.1,5.3 2.4,5.7 2.5,6.0C2.7,6.3 2.7,6.7 2.9,7.0C3.1,7.3 3.7,7.7 3.9,8.0C4.1,8.3 4.0,8.7 4.1,9.0C4.2,9.3 4.4,9.5 4.5,10.0C4.7,10.5 4.9,11.3 5.1,12.0C5.2,12.7 5.2,13.2 5.2,14.0C5.3,14.8 5.1,15.8 5.2,17.0C5.3,18.2 5.5,19.7 5.7,21.0C5.9,22.3 6.2,23.8 6.3,25.0C6.4,26.2 6.3,27.2 6.2,28.0C6.1,28.8 6.1,29.4 5.9,30.0C5.7,30.6 5.1,31.1 4.8,31.5C4.5,31.9 4.5,32.2 4.1,32.5C3.7,32.8 3.1,33.1 2.5,33.3C1.8,33.5 0.6,33.7 0.2,33.8C-0.3,33.9 0.1,33.9 -0.3,33.8C-0.7,33.7 -1.5,33.5 -2.2,33.3C-2.8,33.1 -3.7,32.8 -4.2,32.5C-4.7,32.2 -5.0,31.9 -5.2,31.5C-5.5,31.1 -5.5,30.6 -5.8,30.0C-6.0,29.4 -6.4,28.8 -6.5,28.0C-6.6,27.2 -6.4,26.2 -6.3,25.0C-6.1,23.8 -5.8,22.3 -5.7,21.0C-5.6,19.7 -5.9,18.2 -5.9,17.0C-5.8,15.8 -5.5,14.8 -5.3,14.0C-5.1,13.2 -4.6,12.7 -4.5,12.0C-4.3,11.3 -4.8,10.5 -4.7,10.0C-4.6,9.5 -4.0,9.3 -3.8,9.0C-3.6,8.7 -3.6,8.3 -3.5,8.0C-3.3,7.7 -3.1,7.3 -2.9,7.0C-2.7,6.7 -2.5,6.3 -2.4,6.0C-2.2,5.7 -2.2,5.3 -2.1,5.0C-2.0,4.7 -1.8,4.3 -1.7,4.0C-1.6,3.7 -1.6,3.3 -1.6,3.0C-1.5,2.7 -1.3,2.3 -1.2,2.0C-1.1,1.7 -1.1,1.3 -1.0,1.0C-0.9,0.7 -0.5,0.2 -0.4,0.0Z" fill="url(#mg)"/>
<ellipse cx="-5.8" cy="11.6" rx="1.3" ry="0.9" fill="#b0b0b0" transform="rotate(30,-5.8,11.6)"/>
<ellipse cx="5.8" cy="11.1" rx="1.3" ry="0.9" fill="#b0b0b0" transform="rotate(-30,5.8,11.1)"/>
<ellipse cx="-2.8" cy="24.8" rx="2.1" ry="4.5" fill="url(#tx)" opacity="0.14"/>
<ellipse cx="-1.4" cy="14.2" rx="3.0" ry="4.1" fill="url(#tx)" opacity="0.20"/>
<ellipse cx="-2.2" cy="18.0" rx="2.8" ry="2.6" fill="url(#tx)" opacity="0.24"/>
<ellipse cx="2.2" cy="28.6" rx="2.8" ry="3.7" fill="url(#tx)" opacity="0.25"/>
</g>
</g>
</svg>
<rect x="376.9" y="205.7" width="44.400000000000034" height="36.60000000000002" fill="#1e1e1e"/>
<svg x="376.9" y="205.7" width="44.400000000000034" height="36.60000000000002" overflow="hidden">
<g filter="url(#fur)">
<g transform="translate(6.90,0.17) rotate(-1.2,0,18.3) scale(0.864,0.942)">
<path d="M3.6,30 L5.8,37.4 M-3.6,30 L-5.8,37.4 M0,32 L0,38" stroke="#b0b0b0" stroke-width="1.5" fill="none"/>
<path d="M0.2,0.0C0.3,0.2 0.6,0.7 0.8,1.0C1.0,1.3 1.0,1.7 1.2,2.0C1.3,2.3 1.4,2.7 1.6,3.0C1.7,3.3 1.8,3.7 1.9,4.0C2.0,4.3 1.9,4.7 2.0,5.0C2.1,5.3 2.3,5.7 2.5,6.0C2.7,6.3 2.9,6.7 3.1,7.0C3.3,7.3 3.8,7.7 3.9,8.0C4.0,8.3 3.7,8.7 3.9,9.0C4.0,9.3 4.5,9.5 4.6,10.0C4.8,10.5 4.7,11.3 4.8,12.0C4.9,12.7 5.2,13.2 5.4,14.0C5.6,14.8 5.8,15.8 5.9,17.0C6.0,18.2 6.0,19.7 6.0,21.0C6.0,22.3 5.9,23.8 5.9,25.0C5.9,26.2 6.1,27.2 6.2,28.0C6.2,28.8 6.4,29.4 6.2,30.0C6.1,30.6 5.9,31.1 5.5,31.5C5.1,31.9 4.3,32.2 3.9,32.5C3.5,32.8 3.4,33.1 2.9,33.3C2.4,33.5 1.4,33.7 0.8,33.8C0.3,33.9 0.1,33.9 -0.5,33.8C-1.1,33.7 -2.4,33.5 -3.0,33.3C-3.7,33.1 -4.1,32.8 -4.5,32.5C-4.9,32.2 -5.3,31.9 -5.5,31.5C-5.8,31.1 -5.8,30.6 -6.0,30.0C-6.2,29.4 -6.6,28.8 -6.6,28.0C-6.7,27.2 -6.4,26.2 -6.3,25.0C-6.1,23.8 -6.1,22.3 -5.9,21.0C-5.7,19.7 -5.3,18.2 -5.2,17.0C-5.0,15.8 -5.1,14.8 -5.1,14.0C-5.0,13.2 -4.8,12.7 -4.8,12.0C-4.7,11.3 -4.8,10.5 -4.7,10.0C-4.6,9.5 -4.2,9.3 -4.0,9.0C-3.8,8.7 -3.8,8.3 -3.7,8.0C-3.5,7.7 -3.3,7.3 -3.1,7.0C-2.9,6.7 -2.7,6.3 -2.5,6.0C-2.4,5.7 -2.2,5.3 -2.1,5.0C-1.9,4.7 -1.8,4.3 -1.7,4.0C-1.6,3.7 -1.6,3.3 -1.6,3.0C-1.5,2.7 -1.4,2.3 -1.3,2.0C-1.2,1.7 -1.1,1.3 -1.0,1.0C-0.8,0.7 -0.5,0.2 -0.4,0.0Z" fill="url(#mg)"/>
<ellipse cx="-5.4" cy="11.0" rx="1.3" ry="0.9" fill="#b0b0b0" transform="rotate(30,-5.4,11.0)"/>
<ellipse cx="0.5" cy="26.3" rx="2.3" ry="3.1" fill="url(#tx)" opacity="0.24"/>
<ellipse cx="1.0" cy="16.9" rx="2.6" ry="3.4" fill="url(#tx)" opacity="0.20"/>
<ellipse cx="0.1" cy="15.0" rx="3.2" ry="4.3" fill="url(#tx)" opacity="0.22"/>
<ellipse cx="-1.4" cy="13.1" rx="2.8" ry="4.1" fill="url(#tx)" opacity="0.20"/>
</g>
<g transform="translate(23.30,0.41) rotate(1.3,0,18.3) scale(0.977,0.942)">
<path d="M3.6,30 L5.8,37.4 M-3.6,30 L-5.8,37.4 M0,32 L0,38" stroke="#b0b0b0" stroke-width="1.5" fill="none"/>
<path d="M0.3,0.0C0.4,0.2 0.7,0.7 0.9,1.0C1.1,1.3 1.2,1.7 1.3,2.0C1.4,2.3 1.3,2.7 1.4,3.0C1.5,3.3 1.8,3.7 1.9,4.0C2.0,4.3 2.0,4.7 2.1,5.0C2.2,5.3 2.2,5.7 2.4,6.0C2.5,6.3 2.9,6.7 3.0,7.0C3.2,7.3 3.2,7.7 3.3,8.0C3.4,8.3 3.5,8.7 3.7,9.0C3.8,9.3 3.9,9.5 4.2,10.0C4.4,10.5 4.9,11.3 5.2,12.0C5.4,12.7 5.5,13.2 5.5,14.0C5.6,14.8 5.5,15.8 5.6,17.0C5.7,18.2 6.1,19.7 6.2,21.0C6.4,22.3 6.4,23.8 6.4,25.0C6.5,26.2 6.6,27.2 6.5,28.0C6.4,28.8 6.2,29.4 6.0,30.0C5.7,30.6 5.0,31.1 4.8,31.5C4.6,31.9 4.9,32.2 4.5,32.5C4.2,32.8 3.1,33.1 2.4,33.3C1.8,33.5 1.0,33.7 0.5,33.8C-0.1,33.9 -0.4,33.9 -1.0,33.8C-1.5,33.7 -2.3,33.5 -2.9,33.3C-3.4,33.1 -3.9,32.8 -4.3,32.5C-4.7,32.2 -4.9,31.9 -5.1,31.5C-5.4,31.1 -5.8,30.6 -5.9,30.0C-6.0,29.4 -5.8,28.8 -5.8,28.0C-5.8,27.2 -5.8,26.2 -5.8,25.0C-5.9,23.8 -6.2,22.3 -6.1,21.0C-6.0,19.7 -5.5,18.2 -5.3,17.0C-5.1,15.8 -5.3,14.8 -5.2,14.0C-5.1,13.2 -4.9,12.7 -4.9,12.0C-4.8,11.3 -4.9,10.5 -4.8,10.0C-4.6,9.5 -4.2,9.3 -4.0,9.0C-3.8,8.7 -3.8,8.3 -3.6,8.0C-3.4,7.7 -3.2,7.3 -3.0,7.0C-2.9,6.7 -2.7,6.3 -2.6,6.0C-2.4,5.7 -2.3,5.3 -2.2,5.0C-2.1,4.7 -2.0,4.3 -1.8,4.0C-1.7,3.7 -1.6,3.3 -1.5,3.0C-1.4,2.7 -1.4,2.3 -1.3,2.0C-1.2,1.7 -1.1,1.3 -0.9,1.0C-0.8,0.7 -0.4,0.2 -0.3,0.0Z" fill="url(#mg)"/>
<ellipse cx="-6.2" cy="9.2" rx="1.3" ry="0.9" fill="#b0b0b0" transform="rotate(30,-6.2,9.2)"/>
<ellipse cx="6.0" cy="9.8" rx="1.3" ry="0.9" fill="#b0b0b0" transform="rotate(-30,6.0,9.8)"/>
<ellipse cx="-2.5" cy="20.4" rx="3.0" ry="3.7" fill="url(#tx)" opacity="0.17"/>
<ellipse cx="1.7" cy="26.3" rx="2.6" ry="3.8" fill="url(#tx)" opacity="0.16"/>
<ellipse cx="-0.6" cy="29.8" rx="3.2" ry="2.5" fill="url(#tx)" opacity="0.15"/>
<ellipse cx="-1.8" cy="25.7" rx="2.1" ry="2.8" fill="url(#tx)" opacity="0.22"/>
</g>
<g transform="translate(36.90,0.37) rotate(2.9,0,18.3) scale(0.954,0.942)">
<path d="M3.6,30 L5.8,37.4 M-3.6,30 L-5.8,37.4 M0,32 L0,38" stroke="#b0b0b0" stroke-width="1.5" fill="none"/>
<path d="M0.4,0.0C0.5,0.2 0.7,0.7 0.8,1.0C0.9,1.3 1.1,1.7 1.2,2.0C1.3,2.3 1.3,2.7 1.4,3.0C1.5,3.3 1.7,3.7 1.8,4.0C2.0,4.3 2.1,4.7 2.2,5.0C2.3,5.3 2.4,5.7 2.5,6.0C2.6,6.3 2.8,6.7 3.0,7.0C3.1,7.3 3.4,7.7 3.5,8.0C3.6,8.3 3.6,8.7 3.8,9.0C3.9,9.3 4.1,9.5 4.2,10.0C4.3,10.5 4.3,11.3 4.5,12.0C4.7,12.7 5.2,13.2 5.4,14.0C5.6,14.8 5.4,15.8 5.5,17.0C5.5,18.2 5.6,19.7 5.6,21.0C5.7,22.3 5.6,23.8 5.8,25.0C5.9,26.2 6.4,27.2 6.5,28.0C6.5,28.8 6.4,29.4 6.2,30.0C6.0,30.6 5.6,31.1 5.2,31.5C4.9,31.9 4.8,32.2 4.4,32.5C3.9,32.8 3.2,33.1 2.5,33.3C1.8,33.5 0.7,33.7 0.2,33.8C-0.3,33.9 0.0,33.9 -0.4,33.8C-0.8,33.7 -1.5,33.5 -2.2,33.3C-2.8,33.1 -3.7,32.8 -4.3,32.5C-4.8,32.2 -5.2,31.9 -5.5,31.5C-5.9,31.1 -6.0,30.6 -6.2,30.0C-6.4,29.4 -6.6,28.8 -6.5,28.0C-6.5,27.2 -5.9,26.2 -5.8,25.0C-5.8,23.8 -6.1,22.3 -6.0,21.0C-5.9,19.7 -5.3,18.2 -5.2,17.0C-5.1,15.8 -5.6,14.8 -5.6,14.0C-5.6,13.2 -5.4,12.7 -5.2,12.0C-5.1,11.3 -4.9,10.5 -4.7,10.0C-4.6,9.5 -4.4,9.3 -4.1,9.0C-3.9,8.7 -3.4,8.3 -3.2,8.0C-3.0,7.7 -3.2,7.3 -3.1,7.0C-3.0,6.7 -2.6,6.3 -2.4,6.0C-2.2,5.7 -2.1,5.3 -2.0,5.0C-1.9,4.7 -1.8,4.3 -1.7,4.0C-1.7,3.7 -1.7,3.3 -1.6,3.0C-1.5,2.7 -1.2,2.3 -1.1,2.0C-1.0,1.7 -1.1,1.3 -1.0,1.0C-0.9,0.7 -0.5,0.2 -0.4,0.0Z" fill="url(#mg)"/>
<ellipse cx="-6.2" cy="9.4" rx="1.3" ry="0.9" fill="#b0b0b0" transform="rotate(30,-6.2,9.4)"/>
<ellipse cx="1.5" cy="27.7" rx="2.1" ry="4.3" fill="url(#tx)" opacity="0.24"/>
<ellipse cx="-1.5" cy="11.6" rx="2.9" ry="4.3" fill="url(#tx)" opacity="0.22"/>
<ellipse cx="-0.6" cy="21.6" rx="2.0" ry="3.0" fill="url(#tx)" opacity="0.17"/>
<ellipse cx="1.6" cy="10.9" rx="3.1" ry="2.6" fill="url(#tx)" opacity="0.25"/>
</g>
</g>
</svg>
<rect x="423.2" y="40" width="57.80000000000001" height="39.8" fill="#1e1e1e"/>
<svg x="423.2" y="40" width="57.80000000000001" height="39.8" overflow="hidden">
<g filter="url(#fur)">
<g transform="translate(6.60,0.59) rotate(1.9,0,19.9) scale(0.979,1.026)">
<path d="M3.6,30 L5.8,37.4 M-3.6,30 L-5.8,37.4 M0,32 L0,38" stroke="#b0b0b0" stroke-width="1.5" fill="none"/>
<path d="M0.4,0.0C0.5,0.2 0.8,0.7 1.0,1.0C1.1,1.3 1.2,1.7 1.3,2.0C1.4,2.3 1.5,2.7 1.6,3.0C1.7,3.3 1.6,3.7 1.7,4.0C1.8,4.3 1.9,4.7 2.1,5.0C2.2,5.3 2.3,5.7 2.4,6.0C2.6,6.3 2.7,6.7 2.9,7.0C3.2,7.3 3.7,7.7 3.9,8.0C4.2,8.3 4.2,8.7 4.3,9.0C4.4,9.3 4.5,9.5 4.6,10.0C4.7,10.5 4.6,11.3 4.7,12.0C4.8,12.7 5.2,13.2 5.3,14.0C5.5,14.8 5.7,15.8 5.8,17.0C5.9,18.2 5.9,19.7 6.0,21.0C6.1,22.3 6.3,23.8 6.3,25.0C6.3,26.2 6.1,27.2 6.0,28.0C5.9,28.8 5.7,29.4 5.6,30.0C5.6,30.6 5.8,31.1 5.6,31.5C5.4,31.9 5.1,32.2 4.6,32.5C4.2,32.8 3.6,33.1 3.0,33.3C2.4,33.5 1.5,33.7 0.8,33.8C0.2,33.9 -0.2,33.9 -0.8,33.8C-1.3,33.7 -2.0,33.5 -2.6,33.3C-3.2,33.1 -3.9,32.8 -4.3,32.5C-4.7,32.2 -4.8,31.9 -5.1,31.5C-5.4,31.1 -5.8,30.6 -6.1,30.0C-6.3,29.4 -6.4,28.8 -6.4,28.0C-6.3,27.2 -6.0,26.2 -5.9,25.0C-5.8,23.8 -6.0,22.3 -5.9,21.0C-5.9,19.7 -5.6,18.2 -5.4,17.0C-5.3,15.8 -5.2,14.8 -5.0,14.0C-4.9,13.2 -4.7,12.7 -4.6,12.0C-4.5,11.3 -4.3,10.5 -4.3,10.0C-4.2,9.5 -4.4,9.3 -4.3,9.0C-4.2,8.7 -3.8,8.3 -3.6,8.0C-3.4,7.7 -3.3,7.3 -3.1,7.0C-2.8,6.7 -2.6,6.3 -2.4,6.0C-2.2,5.7 -2.1,5.3 -2.0,5.0C-1.9,4.7 -2.0,4.3 -1.9,4.0C-1.8,3.7 -1.7,3.3 -1.5,3.0C-1.4,2.7 -1.2,2.3 -1.1,2.0C-1.0,1.7 -1.0,1.3 -0.8,1.0C-0.7,0.7 -0.4,0.2 -0.3,0.0Z" fill="url(#mg)"/>
<ellipse cx="-5.8" cy="10.6" rx="1.3" ry="0.9" fill="#b0b0b0" transform="rotate(30,-5.8,10.6)"/>
<ellipse cx="6.1" cy="11.0" rx="1.3" ry="0.9" fill="#b0b0b0" transform="rotate(-30,6.1,11.0)"/>
<ellipse cx="1.9" cy="26.1" rx="2.0" ry="3.9" fill="url(#tx)" opacity="0.20"/>
<ellipse cx="2.8" cy="9.1" rx="2.0" ry="4.5" fill="url(#tx)" opacity="0.17"/>
<ellipse cx="1.3" cy="21.4" rx="2.4" ry="3.4" fill="url(#tx)" opacity="0.19"/>
<ellipse cx="3.1" cy="20.2" rx="2.9" ry="3.1" fill="url(#tx)" opacity="0.21"/>
</g>
<g transform="translate(20.60,0.63) rotate(1.5,0,19.9) scale(1.008,1.026)">
<path d="M3.6,30 L5.8,37.4 M-3.6,30 L-5.8,37.4 M0,32 L0,38" stroke="#b0b0b0" stroke-width="1.5" fill="none"/>
<path d="M0.2,0.0C0.3,0.2 0.8,0.7 0.9,1.0C1.1,1.3 1.1,1.7 1.2,2.0C1.3,2.3 1.3,2.7 1.4,3.0C1.5,3.3 1.8,3.7 1.9,4.0C2.0,4.3 1.9,4.7 2.0,5.0C2.1,5.3 2.3,5.7 2.5,6.0C2.6,6.3 2.8,6.7 3.1,7.0C3.3,7.3 3.6,7.7 3.7,8.0C3.8,8.3 3.8,8.7 3.8,9.0C3.9,9.3 3.9,9.5 4.0,10.0C4.2,10.5 4.4,11.3 4.6,12.0C4.8,12.7 5.1,13.2 5.3,14.0C5.5,14.8 5.5,15.8 5.7,17.0C5.9,18.2 6.3,19.7 6.3,21.0C6.3,22.3 5.8,23.8 5.9,25.0C5.9,26.2 6.7,27.2 6.6,28.0C6.6,28.8 5.8,29.4 5.5,30.0C5.3,30.6 5.6,31.1 5.4,31.5C5.1,31.9 4.6,32.2 4.1,32.5C3.6,32.8 3.0,33.1 2.5,33.3C2.0,33.5 1.6,33.7 1.0,33.8C0.4,33.9 -0.2,33.9 -0.9,33.8C-1.5,33.7 -2.2,33.5 -2.7,33.3C-3.3,33.1 -4.0,32.8 -4.4,32.5C-4.7,32.2 -4.7,31.9 -4.9,31.5C-5.1,31.1 -5.4,30.6 -5.6,30.0C-5.8,29.4 -6.1,28.8 -6.1,28.0C-6.1,27.2 -5.7,26.2 -5.8,25.0C-5.8,23.8 -6.2,22.3 -6.2,21.0C-6.1,19.7 -5.6,18.2 -5.5,17.0C-5.3,15.8 -5.5,14.8 -5.3,14.0C-5.2,13.2 -4.6,12.7 -4.5,12.0C-4.3,11.3 -4.5,10.5 -4.5,10.0C-4.4,9.5 -4.4,9.3 -4.3,9.0C-4.1,8.7 -3.8,8.3 -3.6,8.0C-3.4,7.7 -3.1,7.3 -2.9,7.0C-2.8,6.7 -2.7,6.3 -2.5,6.0C-2.3,5.7 -2.1,5.3 -2.0,5.0C-1.9,4.7 -2.0,4.3 -1.9,4.0C-1.8,3.7 -1.7,3.3 -1.6,3.0C-1.5,2.7 -1.2,2.3 -1.1,2.0C-1.0,1.7 -0.9,1.3 -0.8,1.0C-0.7,0.7 -0.5,0.2 -0.4,0.0Z" fill="url(#mg)"/>
<ellipse cx="-1.2" cy="22.4" rx="2.7" ry="3.7" fill="url(#tx)" opacity="0.18"/>
<ellipse cx="1.6" cy="13.3" rx="2.8" ry="4.5" fill="url(#tx)" opacity="0.12"/>
<ellipse cx="-1.6" cy="29.7" rx="1.9" ry="4.1" fill="url(#tx)" opacity="0.20"/>
<ellipse cx="-2.8" cy="22.2" rx="1.8" ry="4.2" fill="url(#tx)" opacity="0.16"/>
</g>
<g transform="translate(34.80,0.18) rotate(2.4,0,19.9) scale(1.034,1.026)">
<path d="M3.6,30 L5.8,37.4 M-3.6,30 L-5.8,37.4 M0,32 L0,38" stroke="#b0b0b0" stroke-width="1.5" fill="none"/>
<path d="M0.3,0.0C0.4,0.2 0.8,0.7 1.0,1.0C1.1,1.3 1.0,1.7 1.1,2.0C1.2,2.3 1.5,2.7 1.6,3.0C1.7,3.3 1.7,3.7 1.8,4.0C1.8,4.3 2.0,4.7 2.1,5.0C2.3,5.3 2.5,5.7 2.6,6.0C2.8,6.3 2.9,6.7 3.0,7.0C3.1,7.3 3.1,7.7 3.3,8.0C3.5,8.3 4.1,8.7 4.3,9.0C4.5,9.3 4.7,9.5 4.8,10.0C4.8,10.5 4.8,11.3 4.8,12.0C4.8,12.7 4.8,13.2 4.9,14.0C5.1,14.8 5.4,15.8 5.5,17.0C5.7,18.2 5.4,19.7 5.6,21.0C5.8,22.3 6.4,23.8 6.5,25.0C6.6,26.2 6.4,27.2 6.2,28.0C6.1,28.8 6.1,29.4 5.9,30.0C5.7,30.6 5.3,31.1 5.1,31.5C4.9,31.9 4.9,32.2 4.5,32.5C4.1,32.8 3.2,33.1 2.7,33.3C2.1,33.5 1.5,33.7 1.0,33.8C0.5,33.9 0.2,33.9 -0.3,33.8C-0.9,33.7 -1.7,33.5 -2.4,33.3C-3.1,33.1 -4.1,32.8 -4.6,32.5C-5.0,32.2 -4.7,31.9 -4.9,31.5C-5.1,31.1 -5.7,30.6 -5.9,30.0C-6.1,29.4 -6.3,28.8 -6.3,28.0C-6.3,27.2 -6.0,26.2 -5.9,25.0C-5.8,23.8 -5.7,22.3 -5.7,21.0C-5.6,19.7 -5.5,18.2 -5.5,17.0C-5.5,15.8 -5.8,14.8 -5.6,14.0C-5.5,13.2 -4.9,12.7 -4.7,12.0C-4.6,11.3 -4.8,10.5 -4.7,10.0C-4.5,9.5 -4.1,9.3 -3.8,9.0C-3.6,8.7 -3.3,8.3 -3.2,8.0C-3.1,7.7 -3.2,7.3 -3.1,7.0C-3.0,6.7 -2.6,6.3 -2.5,6.0C-2.3,5.7 -2.2,5.3 -2.1,5.0C-2.0,4.7 -1.9,4.3 -1.8,4.0C-1.7,3.7 -1.5,3.3 -1.4,3.0C-1.3,2.7 -1.2,2.3 -1.1,2.0C-1.0,1.7 -0.9,1.3 -0.8,1.0C-0.6,0.7 -0.3,0.2 -0.2,0.0Z" fill="url(#mg)"/>
<ellipse cx="-6.0" cy="10.9" rx="1.3" ry="0.9" fill="#b0b0b0" transform="rotate(30,-6.0,10.9)"/>
<ellipse cx="-2.5" cy="29.6" rx="2.0" ry="3.2" fill="url(#tx)" opacity="0.25"/>
<ellipse cx="1.9" cy="24.9" rx="1.9" ry="4.2" fill="url(#tx)" opacity="0.17"/>
<ellipse cx="-3.1" cy="25.6" rx="3.1" ry="2.6" fill="url(#tx)" opacity="0.18"/>
<ellipse cx="2.6" cy="16.0" rx="2.2" ry="4.1" fill="url(#tx)" opacity="0.18"/>
</g>
<g transform="translate(49.00,0.62) rotate(2.1,0,19.9) scale(1.040,1.026)">
<path d="M3.6,30 L5.8,37.4 M-3.6,30 L-5.8,37.4 M0,32 L0,38" stroke="#b0b0b0" stroke-width="1.5" fill="none"/>
<path d="M0.4,0.0C0.5,0.2 0.8,0.7 1.0,1.0C1.1,1.3 1.1,1.7 1.2,2.0C1.3,2.3 1.3,2.7 1.4,3.0C1.6,3.3 1.8,3.7 1.9,4.0C2.0,4.3 1.9,4.7 2.0,5.0C2.1,5.3 2.3,5.7 2.5,6.0C2.7,6.3 2.8,6.7 3.0,7.0C3.1,7.3 3.2,7.7 3.3,8.0C3.5,8.3 3.7,8.7 3.8,9.0C3.9,9.3 4.1,9.5 4.2,10.0C4.4,10.5 4.5,11.3 4.6,12.0C4.7,12.7 4.8,13.2 5.0,14.0C5.1,14.8 5.5,15.8 5.6,17.0C5.8,18.2 5.9,19.7 5.9,21.0C6.0,22.3 5.9,23.8 6.0,25.0C6.1,26.2 6.6,27.2 6.6,28.0C6.5,28.8 6.0,29.4 5.8,30.0C5.6,30.6 5.5,31.1 5.3,31.5C5.1,31.9 5.1,32.2 4.6,32.5C4.1,32.8 3.0,33.1 2.3,33.3C1.6,33.5 1.1,33.7 0.5,33.8C0.0,33.9 -0.5,33.9 -0.9,33.8C-1.4,33.7 -1.7,33.5 -2.2,33.3C-2.7,33.1 -3.4,32.8 -3.8,32.5C-4.3,32.2 -4.6,31.9 -5.0,31.5C-5.4,31.1 -6.1,30.6 -6.2,30.0C-6.4,29.4 -5.9,28.8 -5.8,28.0C-5.8,27.2 -6.1,26.2 -6.0,25.0C-6.0,23.8 -5.7,22.3 -5.6,21.0C-5.6,19.7 -5.6,18.2 -5.5,17.0C-5.4,15.8 -5.1,14.8 -5.0,14.0C-4.9,13.2 -4.9,12.7 -4.8,12.0C-4.8,11.3 -4.8,10.5 -4.8,10.0C-4.7,9.5 -4.5,9.3 -4.4,9.0C-4.2,8.7 -4.0,8.3 -3.8,8.0C-3.6,7.7 -3.1,7.3 -2.9,7.0C-2.7,6.7 -2.7,6.3 -2.5,6.0C-2.4,5.7 -2.4,5.3 -2.2,5.0C-2.1,4.7 -1.9,4.3 -1.8,4.0C-1.6,3.7 -1.5,3.3 -1.4,3.0C-1.3,2.7 -1.3,2.3 -1.2,2.0C-1.1,1.7 -1.1,1.3 -0.9,1.0C-0.8,0.7 -0.3,0.2 -0.2,0.0Z" fill="url(#mg)"/>
<ellipse cx="-6.0" cy="9.9" rx="1.3" ry="0.9" fill="#b0b0b0" transform="rotate(30,-6.0,9.9)"/>
<ellipse cx="5.9" cy="9.1" rx="1.3" ry="0.9" fill="#b0b0b0" transform="rotate(-30,5.9,9.1)"/>
<ellipse cx="-2.6" cy="20.1" rx="2.0" ry="3.7" fill="url(#tx)" opacity="0.23"/>
<ellipse cx="-0.3" cy="14.7" rx="2.7" ry="3.9" fill="url(#tx)" opacity="0.13"/>
<ellipse cx="-1.7" cy="16.9" rx="2.5" ry="3.0" fill="url(#tx)" opacity="0.21"/>
<ellipse cx="-1.6" cy="28.0" rx="2.3" ry="2.9" fill="url(#tx)" opacity="0.13"/>
</g>
</g>
</svg>
<rect x="423.2" y="82.0" width="57.80000000000001" height="39.099999999999994" fill="#1e1e1e"/>
<svg x="423.2" y="82.0" width="57.80000000000001" height="39.099999999999994" overflow="hidden">
<g filter="url(#fur)">
<g transform="translate(6.60,0.63) rotate(-1.7,0,19.5) scale(0.970,1.008)">
<path d="M3.6,30 L5.8,37.4 M-3.6,30 L-5.8,37.4 M0,32 L0,38" stroke="#b0b0b0" stroke-width="1.5" fill="none"/>
<path d="M0.3,0.0C0.4,0.2 0.9,0.7 1.0,1.0C1.2,1.3 1.2,1.7 1.3,2.0C1.3,2.3 1.4,2.7 1.5,3.0C1.5,3.3 1.6,3.7 1.7,4.0C1.8,4.3 1.9,4.7 2.0,5.0C2.2,5.3 2.4,5.7 2.6,6.0C2.7,6.3 2.8,6.7 3.0,7.0C3.2,7.3 3.5,7.7 3.6,8.0C3.7,8.3 3.4,8.7 3.6,9.0C3.7,9.3 4.1,9.5 4.4,10.0C4.7,10.5 5.2,11.3 5.3,12.0C5.4,12.7 5.1,13.2 5.2,14.0C5.2,14.8 5.4,15.8 5.5,17.0C5.6,18.2 5.7,19.7 5.8,21.0C5.9,22.3 6.2,23.8 6.3,25.0C6.4,26.2 6.5,27.2 6.4,28.0C6.3,28.8 5.9,29.4 5.7,30.0C5.5,30.6 5.4,31.1 5.2,31.5C4.9,31.9 4.4,32.2 4.0,32.5C3.6,32.8 3.0,33.1 2.5,33.3C2.0,33.5 1.5,33.7 1.0,33.8C0.5,33.9 -0.1,33.9 -0.7,33.8C-1.4,33.7 -2.5,33.5 -3.0,33.3C-3.5,33.1 -3.5,32.8 -3.8,32.5C-4.1,32.2 -4.4,31.9 -4.8,31.5C-5.2,31.1 -6.0,30.6 -6.2,30.0C-6.4,29.4 -6.3,28.8 -6.2,28.0C-6.2,27.2 -6.1,26.2 -6.0,25.0C-5.9,23.8 -5.6,22.3 -5.5,21.0C-5.5,19.7 -5.7,18.2 -5.5,17.0C-5.4,15.8 -4.9,14.8 -4.9,14.0C-4.8,13.2 -5.2,12.7 -5.1,12.0C-5.0,11.3 -4.4,10.5 -4.3,10.0C-4.1,9.5 -4.4,9.3 -4.3,9.0C-4.2,8.7 -3.9,8.3 -3.7,8.0C-3.4,7.7 -3.2,7.3 -3.0,7.0C-2.8,6.7 -2.7,6.3 -2.5,6.0C-2.4,5.7 -2.2,5.3 -2.0,5.0C-1.9,4.7 -1.8,4.3 -1.8,4.0C-1.7,3.7 -1.6,3.3 -1.5,3.0C-1.4,2.7 -1.2,2.3 -1.1,2.0C-1.1,1.7 -1.2,1.3 -1.0,1.0C-0.9,0.7 -0.4,0.2 -0.3,0.0Z" fill="url(#mg)"/>
<ellipse cx="-5.4" cy="9.7" rx="1.3" ry="0.9" fill="#b0b0b0" transform="rotate(30,-5.4,9.7)"/>
<ellipse cx="5.2" cy="10.9" rx="1.3" ry="0.9" fill="#b0b0b0" transform="rotate(-30,5.2,10.9)"/>
<ellipse cx="-0.1" cy="17.9" rx="2.7" ry="4.2" fill="url(#tx)" opacity="0.17"/>
<ellipse cx="0.7" cy="14.7" rx="2.4" ry="3.8" fill="url(#tx)" opacity="0.13"/>
<ellipse cx="0.1" cy="19.5" rx="2.1" ry="3.0" fill="url(#tx)" opacity="0.23"/>
<ellipse cx="-1.0" cy="13.0" rx="2.2" ry="3.5" fill="url(#tx)" opacity="0.17"/>
</g>
<g transform="translate(20.60,0.23) rotate(-1.1,0,19.5) scale(0.988,1.008)">
<path d="M3.6,30 L5.8,37.4 M-3.6,30 L-5.8,37.4 M0,32 L0,38" stroke="#b0b0b0" stroke-width="1.5" fill="none"/>
<path d="M0.3,0.0C0.4,0.2 0.6,0.7 0.8,1.0C0.9,1.3 1.0,1.7 1.1,2.0C1.3,2.3 1.5,2.7 1.6,3.0C1.7,3.3 1.8,3.7 1.9,4.0C1.9,4.3 1.9,4.7 2.0,5.0C2.1,5.3 2.4,5.7 2.6,6.0C2.8,6.3 2.9,6.7 3.0,7.0C3.2,7.3 3.4,7.7 3.6,8.0C3.7,8.3 3.9,8.7 4.1,9.0C4.3,9.3 4.6,9.5 4.7,10.0C4.8,10.5 4.5,11.3 4.6,12.0C4.7,12.7 5.2,13.2 5.4,14.0C5.6,14.8 5.8,15.8 5.9,17.0C6.0,18.2 6.0,19.7 6.1,21.0C6.1,22.3 6.3,23.8 6.4,25.0C6.4,26.2 6.5,27.2 6.5,28.0C6.5,28.8 6.5,29.4 6.3,30.0C6.0,30.6 5.3,31.1 5.0,31.5C4.7,31.9 4.7,32.2 4.3,32.5C3.9,32.8 3.3,33.1 2.8,33.3C2.2,33.5 1.5,33.7 0.9,33.8C0.4,33.9 -0.0,33.9 -0.5,33.8C-1.1,33.7 -1.6,33.5 -2.2,33.3C-2.8,33.1 -3.7,32.8 -4.2,32.5C-4.6,32.2 -4.6,31.9 -4.9,31.5C-5.2,31.1 -5.9,30.6 -6.0,30.0C-6.2,29.4 -5.9,28.8 -5.9,28.0C-5.8,27.2 -5.9,26.2 -5.9,25.0C-5.9,23.8 -5.9,22.3 -5.9,21.0C-5.9,19.7 -6.0,18.2 -5.9,17.0C-5.8,15.8 -5.3,14.8 -5.2,14.0C-5.0,13.2 -5.1,12.7 -4.9,12.0C-4.8,11.3 -4.3,10.5 -4.2,10.0C-4.1,9.5 -4.4,9.3 -4.3,9.0C-4.2,8.7 -3.9,8.3 -3.7,8.0C-3.5,7.7 -3.3,7.3 -3.1,7.0C-2.9,6.7 -2.7,6.3 -2.6,6.0C-2.4,5.7 -2.3,5.3 -2.2,5.0C-2.1,4.7 -1.9,4.3 -1.8,4.0C-1.6,3.7 -1.5,3.3 -1.4,3.0C-1.3,2.7 -1.4,2.3 -1.3,2.0C-1.2,1.7 -1.1,1.3 -0.9,1.0C-0.8,0.7 -0.4,0.2 -0.3,0.0Z" fill="url(#mg)"/>
<ellipse cx="-5.8" cy="11.2" rx="1.3" ry="0.9" fill="#b0b0b0" transform="rotate(30,-5.8,11.2)"/>
<ellipse cx="5.7" cy="9.9" rx="1.3" ry="0.9" fill="#b0b0b0" transform="rotate(-30,5.7,9.9)"/>
<ellipse cx="-3.0" cy="14.4" rx="3.0" ry="2.7" fill="url(#tx)" opacity="0.13"/>
<ellipse cx="2.2" cy="16.8" rx="2.5" ry="3.7" fill="url(#tx)" opacity="0.21"/>
<ellipse cx="-1.2" cy="25.2" rx="1.8" ry="4.2" fill="url(#tx)" opacity="0.16"/>
<ellipse cx="0.8" cy="15.4" rx="2.8" ry="3.3" fill="url(#tx)" opacity="0.20"/>
</g>
<g transform="translate(34.80,0.57) rotate(2.0,0,19.5) scale(0.986,1.008)">
<path d="M3.6,30 L5.8,37.4 M-3.6,30 L-5.8,37.4 M0,32 L0,38" stroke="#b0b0b0" stroke-width="1.5" fill="none"/>
<path d="M0.2,0.0C0.4,0.2 0.9,0.7 1.0,1.0C1.2,1.3 1.0,1.7 1.1,2.0C1.2,2.3 1.5,2.7 1.6,3.0C1.8,3.3 1.8,3.7 1.9,4.0C1.9,4.3 1.9,4.7 2.0,5.0C2.1,5.3 2.3,5.7 2.4,6.0C2.6,6.3 2.9,6.7 3.0,7.0C3.1,7.3 3.0,7.7 3.2,8.0C3.4,8.3 4.0,8.7 4.2,9.0C4.3,9.3 3.9,9.5 4.0,10.0C4.1,10.5 4.4,11.3 4.7,12.0C4.9,12.7 5.3,13.2 5.5,14.0C5.7,14.8 5.8,15.8 5.8,17.0C5.9,18.2 5.7,19.7 5.8,21.0C5.9,22.3 6.4,23.8 6.5,25.0C6.6,26.2 6.6,27.2 6.5,28.0C6.4,28.8 6.4,29.4 6.1,30.0C5.9,30.6 5.5,31.1 5.1,31.5C4.8,31.9 4.5,32.2 4.0,32.5C3.6,32.8 3.0,33.1 2.4,33.3C1.8,33.5 0.9,33.7 0.4,33.8C-0.1,33.9 0.1,33.9 -0.4,33.8C-0.9,33.7 -2.1,33.5 -2.7,33.3C-3.2,33.1 -3.4,32.8 -3.8,32.5C-4.1,32.2 -4.4,31.9 -4.8,31.5C-5.2,31.1 -6.0,30.6 -6.3,30.0C-6.5,29.4 -6.3,28.8 -6.4,28.0C-6.5,27.2 -6.7,26.2 -6.6,25.0C-6.6,23.8 -6.5,22.3 -6.3,21.0C-6.1,19.7 -5.4,18.2 -5.3,17.0C-5.2,15.8 -5.6,14.8 -5.7,14.0C-5.7,13.2 -5.6,12.7 -5.3,12.0C-5.1,11.3 -4.3,10.5 -4.0,10.0C-3.8,9.5 -3.9,9.3 -3.8,9.0C-3.7,8.7 -3.8,8.3 -3.6,8.0C-3.5,7.7 -3.2,7.3 -3.0,7.0C-2.8,6.7 -2.7,6.3 -2.6,6.0C-2.4,5.7 -2.3,5.3 -2.2,5.0C-2.1,4.7 -2.0,4.3 -1.9,4.0C-1.8,3.7 -1.5,3.3 -1.4,3.0C-1.3,2.7 -1.4,2.3 -1.3,2.0C-1.2,1.7 -1.0,1.3 -0.8,1.0C-0.7,0.7 -0.4,0.2 -0.4,0.0Z" fill="url(#mg)"/>
<ellipse cx="-5.7" cy="10.1" rx="1.3" ry="0.9" fill="#b0b0b0" transform="rotate(30,-5.7,10.1)"/>
<ellipse cx="2.8" cy="10.5" rx="2.2" ry="2.7" fill="url(#tx)" opacity="0.24"/>
<ellipse cx="0.8" cy="22.8" rx="2.9" ry="2.5" fill="url(#tx)" opacity="0.24"/>
<ellipse cx="-1.1" cy="22.2" rx="2.4" ry="4.0" fill="url(#tx)" opacity="0.16"/>
<ellipse cx="-1.4" cy="14.2" rx="2.8" ry="3.4" fill="url(#tx)" opacity="0.14"/>
</g>
<g transform="translate(49.00,0.32) rotate(0.4,0,19.5) scale(0.988,1.008)">
<path d="M3.6,30 L5.8,37.4 M-3.6,30 L-5.8,37.4 M0,32 L0,38" stroke="#b0b0b0" stroke-width="1.5" fill="none"/>
<path d="M0.3,0.0C0.4,0.2 0.8,0.7 0.9,1.0C1.1,1.3 1.0,1.7 1.1,2.0C1.3,2.3 1.5,2.7 1.6,3.0C1.7,3.3 1.6,3.7 1.7,4.0C1.8,4.3 2.0,4.7 2.2,5.0C2.3,5.3 2.4,5.7 2.6,6.0C2.7,6.3 2.8,6.7 3.0,7.0C3.2,7.3 3.5,7.7 3.6,8.0C3.7,8.3 3.5,8.7 3.7,9.0C3.9,9.3 4.5,9.5 4.7,10.0C4.9,10.5 4.6,11.3 4.8,12.0C4.9,12.7 5.3,13.2 5.5,14.0C5.7,14.8 5.8,15.8 5.9,17.0C6.0,18.2 6.1,19.7 6.1,21.0C6.1,22.3 6.1,23.8 6.1,25.0C6.1,26.2 6.2,27.2 6.1,28.0C6.0,28.8 5.6,29.4 5.5,30.0C5.3,30.6 5.7,31.1 5.4,31.5C5.2,31.9 4.3,32.2 3.8,32.5C3.3,32.8 2.9,33.1 2.3,33.3C1.8,33.5 0.8,33.7 0.3,33.8C-0.2,33.9 -0.2,33.9 -0.7,33.8C-1.2,33.7 -2.2,33.5 -2.8,33.3C-3.4,33.1 -3.7,32.8 -4.0,32.5C-4.4,32.2 -4.4,31.9 -4.8,31.5C-5.1,31.1 -5.9,30.6 -6.1,30.0C-6.3,29.4 -5.9,28.8 -5.9,28.0C-6.0,27.2 -6.4,26.2 -6.4,25.0C-6.5,23.8 -6.3,22.3 -6.2,21.0C-6.0,19.7 -5.6,18.2 -5.5,17.0C-5.4,15.8 -5.8,14.8 -5.7,14.0C-5.5,13.2 -4.9,12.7 -4.7,12.0C-4.5,11.3 -4.6,10.5 -4.5,10.0C-4.4,9.5 -4.2,9.3 -4.1,9.0C-4.0,8.7 -4.2,8.3 -3.9,8.0C-3.7,7.7 -3.1,7.3 -2.9,7.0C-2.7,6.7 -2.6,6.3 -2.5,6.0C-2.4,5.7 -2.3,5.3 -2.2,5.0C-2.1,4.7 -1.8,4.3 -1.7,4.0C-1.6,3.7 -1.6,3.3 -1.5,3.0C-1.4,2.7 -1.4,2.3 -1.3,2.0C-1.2,1.7 -1.1,1.3 -1.0,1.0C-0.8,0.7 -0.5,0.2 -0.4,0.0Z" fill="url(#mg)"/>
<ellipse cx="5.6" cy="11.6" rx="1.3" ry="0.9" fill="#b0b0b0" transform="rotate(-30,5.6,11.6)"/>
<ellipse cx="0.1" cy="23.0" rx="2.4" ry="2.9" fill="url(#tx)" opacity="0.24"/>
<ellipse cx="1.6" cy="20.5" rx="2.5" ry="3.7" fill="url(#tx)" opacity="0.16"/>
<ellipse cx="-2.7" cy="20.4" rx="3.1" ry="2.7" fill="url(#tx)" opacity="0.25"/>
<ellipse cx="-0.8" cy="30.0" rx="2.9" ry="3.0" fill="url(#tx)" opacity="0.15"/>
</g>
</g>
</svg>
<rect x="423.2" y="123.6" width="57.80000000000001" height="37.900000000000006" fill="#1e1e1e"/>
<svg x="423.2" y="123.6" width="57.80000000000001" height="37.900000000000006" overflow="hidden">
<g filter="url(#fur)">
<g transform="translate(6.60,0.58) rotate(2.9,0,19.0) scale(1.031,0.976)">
<path d="M3.6,30 L5.8,37.4 M-3.6,30 L-5.8,37.4 M0,32 L0,38" stroke="#b0b0b0" stroke-width="1.5" fill="none"/>
<path d="M0.3,0.0C0.4,0.2 0.8,0.7 1.0,1.0C1.1,1.3 1.2,1.7 1.3,2.0C1.4,2.3 1.5,2.7 1.6,3.0C1.7,3.3 1.7,3.7 1.8,4.0C1.9,4.3 1.9,4.7 2.0,5.0C2.1,5.3 2.3,5.7 2.5,6.0C2.7,6.3 2.9,6.7 3.0,7.0C3.2,7.3 3.0,7.7 3.2,8.0C3.4,8.3 3.9,8.7 4.2,9.0C4.5,9.3 4.6,9.5 4.8,10.0C4.9,10.5 4.9,11.3 4.9,12.0C4.9,12.7 4.9,13.2 4.9,14.0C5.0,14.8 5.2,15.8 5.3,17.0C5.4,18.2 5.5,19.7 5.7,21.0C5.9,22.3 6.5,23.8 6.5,25.0C6.5,26.2 5.8,27.2 5.8,28.0C5.7,28.8 6.2,29.4 6.2,30.0C6.1,30.6 5.8,31.1 5.5,31.5C5.2,31.9 4.8,32.2 4.3,32.5C3.8,32.8 3.3,33.1 2.6,33.3C2.0,33.5 1.0,33.7 0.4,33.8C-0.2,33.9 -0.5,33.9 -1.0,33.8C-1.4,33.7 -1.7,33.5 -2.2,33.3C-2.8,33.1 -4.0,32.8 -4.5,32.5C-5.1,32.2 -5.2,31.9 -5.5,31.5C-5.7,31.1 -5.9,30.6 -6.1,30.0C-6.2,29.4 -6.3,28.8 -6.4,28.0C-6.4,27.2 -6.5,26.2 -6.5,25.0C-6.4,23.8 -6.2,22.3 -6.1,21.0C-6.0,19.7 -6.0,18.2 -5.8,17.0C-5.6,15.8 -5.0,14.8 -4.9,14.0C-4.8,13.2 -5.5,12.7 -5.3,12.0C-5.2,11.3 -4.3,10.5 -4.2,10.0C-4.0,9.5 -4.5,9.3 -4.4,9.0C-4.3,8.7 -3.7,8.3 -3.5,8.0C-3.3,7.7 -3.2,7.3 -3.1,7.0C-2.9,6.7 -2.8,6.3 -2.6,6.0C-2.5,5.7 -2.3,5.3 -2.1,5.0C-2.0,4.7 -1.8,4.3 -1.7,4.0C-1.6,3.7 -1.7,3.3 -1.6,3.0C-1.5,2.7 -1.2,2.3 -1.1,2.0C-1.0,1.7 -1.1,1.3 -1.0,1.0C-0.8,0.7 -0.4,0.2 -0.3,0.0Z" fill="url(#mg)"/>
<ellipse cx="-6.1" cy="10.4" rx="1.3" ry="0.9" fill="#b0b0b0" transform="rotate(30,-6.1,10.4)"/>
<ellipse cx="1.9" cy="18.9" rx="2.5" ry="2.7" fill="url(#tx)" opacity="0.15"/>
<ellipse cx="-2.2" cy="20.3" rx="2.5" ry="2.6" fill="url(#tx)" opacity="0.20"/>
<ellipse cx="-2.5" cy="17.1" rx="1.8" ry="3.5" fill="url(#tx)" opacity="0.14"/>
<ellipse cx="2.8" cy="16.6" rx="3.0" ry="3.4" fill="url(#tx)" opacity="0.16"/>
</g>
<g transform="translate(20.60,0.41) rotate(-1.4,0,19.0) scale(1.027,0.976)">
<path d="M3.6,30 L5.8,37.4 M-3.6,30 L-5.8,37.4 M0,32 L0,38" stroke="#b0b0b0" stroke-width="1.5" fill="none"/>
<path d="M0.3,0.0C0.4,0.2 0.8,0.7 1.0,1.0C1.1,1.3 1.1,1.7 1.2,2.0C1.3,2.3 1.5,2.7 1.6,3.0C1.7,3.3 1.6,3.7 1.7,4.0C1.8,4.3 2.0,4.7 2.2,5.0C2.3,5.3 2.5,5.7 2.6,6.0C2.8,6.3 2.9,6.7 3.1,7.0C3.2,7.3 3.1,7.7 3.3,8.0C3.4,8.3 3.9,8.7 4.1,9.0C4.3,9.3 4.2,9.5 4.4,10.0C4.6,10.5 5.2,11.3 5.3,12.0C5.4,12.7 4.9,13.2 5.0,14.0C5.1,14.8 5.5,15.8 5.7,17.0C5.9,18.2 6.2,19.7 6.3,21.0C6.4,22.3 6.3,23.8 6.2,25.0C6.2,26.2 6.0,27.2 5.9,28.0C5.9,28.8 5.9,29.4 5.9,30.0C5.8,30.6 5.7,31.1 5.4,31.5C5.2,31.9 5.1,32.2 4.6,32.5C4.1,32.8 3.2,33.1 2.5,33.3C1.8,33.5 0.7,33.7 0.2,33.8C-0.2,33.9 0.3,33.9 -0.2,33.8C-0.8,33.7 -2.4,33.5 -3.0,33.3C-3.6,33.1 -3.5,32.8 -3.9,32.5C-4.4,32.2 -5.3,31.9 -5.6,31.5C-5.9,31.1 -5.7,30.6 -5.8,30.0C-5.9,29.4 -6.1,28.8 -6.2,28.0C-6.2,27.2 -6.3,26.2 -6.2,25.0C-6.1,23.8 -5.7,22.3 -5.6,21.0C-5.5,19.7 -5.6,18.2 -5.6,17.0C-5.5,15.8 -5.5,14.8 -5.3,14.0C-5.2,13.2 -4.8,12.7 -4.7,12.0C-4.6,11.3 -4.7,10.5 -4.5,10.0C-4.4,9.5 -4.0,9.3 -3.8,9.0C-3.6,8.7 -3.6,8.3 -3.5,8.0C-3.4,7.7 -3.2,7.3 -3.1,7.0C-2.9,6.7 -2.6,6.3 -2.4,6.0C-2.3,5.7 -2.1,5.3 -2.0,5.0C-1.9,4.7 -1.8,4.3 -1.7,4.0C-1.6,3.7 -1.5,3.3 -1.5,3.0C-1.4,2.7 -1.4,2.3 -1.3,2.0C-1.2,1.7 -0.9,1.3 -0.8,1.0C-0.6,0.7 -0.5,0.2 -0.4,0.0Z" fill="url(#mg)"/>
<ellipse cx="-5.7" cy="11.9" rx="1.3" ry="0.9" fill="#b0b0b0" transform="rotate(30,-5.7,11.9)"/>
<ellipse cx="6.1" cy="9.3" rx="1.3" ry="0.9" fill="#b0b0b0" transform="rotate(-30,6.1,9.3)"/>
<ellipse cx="3.2" cy="23.4" rx="3.1" ry="3.6" fill="url(#tx)" opacity="0.16"/>
<ellipse cx="-2.1" cy="15.4" rx="2.0" ry="3.2" fill="url(#tx)" opacity="0.13"/>
<ellipse cx="-2.9" cy="27.8" rx="3.0" ry="4.1" fill="url(#tx)" opacity="0.17"/>
<ellipse cx="-0.3" cy="20.4" rx="2.9" ry="3.1" fill="url(#tx)" opacity="0.19"/>
</g>
<g transform="translate(34.80,0.31) rotate(2.0,0,19.0) scale(1.004,0.976)">
<path d="M3.6,30 L5.8,37.4 M-3.6,30 L-5.8,37.4 M0,32 L0,38" stroke="#b0b0b0" stroke-width="1.5" fill="none"/>
<path d="M0.2,0.0C0.3,0.2 0.8,0.7 1.0,1.0C1.2,1.3 1.2,1.7 1.2,2.0C1.3,2.3 1.4,2.7 1.4,3.0C1.5,3.3 1.6,3.7 1.7,4.0C1.8,4.3 2.0,4.7 2.1,5.0C2.3,5.3 2.4,5.7 2.6,6.0C2.7,6.3 2.7,6.7 2.9,7.0C3.1,7.3 3.5,7.7 3.7,8.0C3.9,8.3 3.9,8.7 4.1,9.0C4.2,9.3 4.5,9.5 4.6,10.0C4.7,10.5 4.5,11.3 4.7,12.0C4.8,12.7 5.3,13.2 5.5,14.0C5.7,14.8 5.9,15.8 6.0,17.0C6.0,18.2 5.9,19.7 5.9,21.0C6.0,22.3 6.2,23.8 6.3,25.0C6.4,26.2 6.4,27.2 6.4,28.0C6.3,28.8 6.1,29.4 5.9,30.0C5.8,30.6 5.6,31.1 5.4,31.5C5.2,31.9 5.0,32.2 4.6,32.5C4.2,32.8 3.6,33.1 3.0,33.3C2.3,33.5 1.1,33.7 0.6,33.8C0.1,33.9 0.3,33.9 -0.2,33.8C-0.7,33.7 -1.9,33.5 -2.6,33.3C-3.2,33.1 -3.5,32.8 -4.0,32.5C-4.4,32.2 -5.2,31.9 -5.5,31.5C-5.8,31.1 -5.8,30.6 -5.9,30.0C-5.9,29.4 -5.8,28.8 -5.9,28.0C-5.9,27.2 -5.9,26.2 -5.9,25.0C-5.9,23.8 -6.0,22.3 -6.0,21.0C-5.9,19.7 -5.5,18.2 -5.4,17.0C-5.3,15.8 -5.3,14.8 -5.3,14.0C-5.2,13.2 -5.2,12.7 -5.0,12.0C-4.9,11.3 -4.7,10.5 -4.6,10.0C-4.4,9.5 -4.2,9.3 -4.1,9.0C-3.9,8.7 -3.8,8.3 -3.6,8.0C-3.4,7.7 -3.2,7.3 -3.1,7.0C-2.9,6.7 -2.8,6.3 -2.6,6.0C-2.4,5.7 -2.2,5.3 -2.1,5.0C-1.9,4.7 -1.9,4.3 -1.8,4.0C-1.7,3.7 -1.6,3.3 -1.5,3.0C-1.4,2.7 -1.2,2.3 -1.1,2.0C-1.0,1.7 -0.9,1.3 -0.8,1.0C-0.7,0.7 -0.4,0.2 -0.3,0.0Z" fill="url(#mg)"/>
<ellipse cx="5.5" cy="9.8" rx="1.3" ry="0.9" fill="#b0b0b0" transform="rotate(-30,5.5,9.8)"/>
<ellipse cx="-1.7" cy="15.1" rx="2.2" ry="3.6" fill="url(#tx)" opacity="0.17"/>
<ellipse cx="1.6" cy="28.6" rx="3.1" ry="3.3" fill="url(#tx)" opacity="0.21"/>
<ellipse cx="1.5" cy="24.2" rx="2.4" ry="2.9" fill="url(#tx)" opacity="0.22"/>
<ellipse cx="1.0" cy="16.4" rx="2.7" ry="2.6" fill="url(#tx)" opacity="0.22"/>
</g>
<g transform="translate(49.00,0.17) rotate(2.8,0,19.0) scale(1.032,0.976)">
<path d="M3.6,30 L5.8,37.4 M-3.6,30 L-5.8,37.4 M0,32 L0,38" stroke="#b0b0b0" stroke-width="1.5" fill="none"/>
<path d="M0.4,0.0C0.4,0.2 0.7,0.7 0.8,1.0C0.9,1.3 1.0,1.7 1.1,2.0C1.2,2.3 1.2,2.7 1.4,3.0C1.5,3.3 1.8,3.7 1.9,4.0C2.0,4.3 2.1,4.7 2.2,5.0C2.3,5.3 2.3,5.7 2.4,6.0C2.6,6.3 2.9,6.7 3.1,7.0C3.3,7.3 3.2,7.7 3.4,8.0C3.5,8.3 3.8,8.7 3.9,9.0C4.1,9.3 4.0,9.5 4.2,10.0C4.4,10.5 4.9,11.3 5.0,12.0C5.2,12.7 4.9,13.2 5.0,14.0C5.1,14.8 5.6,15.8 5.8,17.0C6.0,18.2 5.9,19.7 6.0,21.0C6.1,22.3 6.4,23.8 6.4,25.0C6.5,26.2 6.5,27.2 6.4,28.0C6.3,28.8 6.0,29.4 5.8,30.0C5.5,30.6 5.3,31.1 5.1,31.5C4.9,31.9 4.8,32.2 4.4,32.5C4.0,32.8 3.3,33.1 2.6,33.3C2.0,33.5 1.2,33.7 0.7,33.8C0.2,33.9 -0.1,33.9 -0.6,33.8C-1.0,33.7 -1.6,33.5 -2.2,33.3C-2.8,33.1 -3.5,32.8 -4.0,32.5C-4.6,32.2 -5.1,31.9 -5.4,31.5C-5.7,31.1 -5.4,30.6 -5.6,30.0C-5.8,29.4 -6.3,28.8 -6.3,28.0C-6.4,27.2 -6.2,26.2 -6.1,25.0C-6.1,23.8 -6.3,22.3 -6.3,21.0C-6.2,19.7 -5.9,18.2 -5.7,17.0C-5.6,15.8 -5.5,14.8 -5.3,14.0C-5.1,13.2 -4.8,12.7 -4.7,12.0C-4.6,11.3 -4.7,10.5 -4.6,10.0C-4.4,9.5 -4.1,9.3 -3.9,9.0C-3.7,8.7 -3.3,8.3 -3.2,8.0C-3.1,7.7 -3.1,7.3 -3.0,7.0C-2.9,6.7 -2.7,6.3 -2.6,6.0C-2.5,5.7 -2.4,5.3 -2.2,5.0C-2.1,4.7 -2.0,4.3 -1.8,4.0C-1.7,3.7 -1.6,3.3 -1.4,3.0C-1.3,2.7 -1.2,2.3 -1.1,2.0C-1.0,1.7 -1.1,1.3 -0.9,1.0C-0.8,0.7 -0.5,0.2 -0.4,0.0Z" fill="url(#mg)"/>
<ellipse cx="-2.9" cy="29.3" rx="2.0" ry="4.4" fill="url(#tx)" opacity="0.25"/>
<ellipse cx="-1.8" cy="15.1" rx="2.0" ry="4.3" fill="url(#tx)" opacity="0.22"/>
<ellipse cx="3.0" cy="25.9" rx="2.3" ry="4.0" fill="url(#tx)" opacity="0.17"/>
<ellipse cx="-1.1" cy="17.9" rx="2.8" ry="3.1" fill="url(#tx)" opacity="0.19"/>
</g>
</g>
</svg>
<rect x="423.2" y="164.0" width="57.80000000000001" height="39.19999999999999" fill="#1e1e1e"/>
<svg x="423.2" y="164.0" width="57.80000000000001" height="39.19999999999999" overflow="hidden">
<g filter="url(#fur)">
<g transform="translate(6.60,0.38) rotate(1.8,0,19.6) scale(1.005,1.011)">
<path d="M3.6,30 L5.8,37.4 M-3.6,30 L-5.8,37.4 M0,32 L0,38" stroke="#b0b0b0" stroke-width="1.5" fill="none"/>
<path d="M0.3,0.0C0.4,0.2 0.8,0.7 0.9,1.0C1.0,1.3 1.0,1.7 1.1,2.0C1.2,2.3 1.2,2.7 1.4,3.0C1.5,3.3 1.8,3.7 1.9,4.0C2.0,4.3 2.0,4.7 2.1,5.0C2.3,5.3 2.5,5.7 2.6,6.0C2.7,6.3 2.8,6.7 2.9,7.0C3.0,7.3 3.1,7.7 3.3,8.0C3.4,8.3 3.4,8.7 3.6,9.0C3.8,9.3 4.4,9.5 4.6,10.0C4.8,10.5 4.5,11.3 4.6,12.0C4.7,12.7 4.8,13.2 5.0,14.0C5.2,14.8 5.6,15.8 5.7,17.0C5.9,18.2 5.9,19.7 5.9,21.0C6.0,22.3 5.9,23.8 6.0,25.0C6.1,26.2 6.7,27.2 6.6,28.0C6.5,28.8 5.8,29.4 5.5,30.0C5.3,30.6 5.4,31.1 5.2,31.5C5.1,31.9 5.1,32.2 4.6,32.5C4.1,32.8 3.0,33.1 2.4,33.3C1.7,33.5 1.3,33.7 0.7,33.8C0.2,33.9 -0.2,33.9 -0.8,33.8C-1.3,33.7 -1.8,33.5 -2.4,33.3C-3.0,33.1 -3.9,32.8 -4.4,32.5C-4.9,32.2 -5.0,31.9 -5.3,31.5C-5.6,31.1 -6.2,30.6 -6.3,30.0C-6.4,29.4 -6.0,28.8 -5.9,28.0C-5.9,27.2 -5.8,26.2 -5.8,25.0C-5.8,23.8 -5.9,22.3 -5.9,21.0C-5.9,19.7 -6.0,18.2 -5.9,17.0C-5.9,15.8 -5.8,14.8 -5.7,14.0C-5.5,13.2 -5.4,12.7 -5.1,12.0C-4.9,11.3 -4.4,10.5 -4.2,10.0C-4.0,9.5 -4.0,9.3 -3.9,9.0C-3.8,8.7 -3.7,8.3 -3.6,8.0C-3.4,7.7 -3.2,7.3 -3.0,7.0C-2.8,6.7 -2.6,6.3 -2.4,6.0C-2.3,5.7 -2.3,5.3 -2.2,5.0C-2.1,4.7 -2.0,4.3 -1.8,4.0C-1.7,3.7 -1.6,3.3 -1.5,3.0C-1.4,2.7 -1.2,2.3 -1.1,2.0C-1.0,1.7 -1.1,1.3 -1.0,1.0C-0.8,0.7 -0.4,0.2 -0.3,0.0Z" fill="url(#mg)"/>
<ellipse cx="-5.7" cy="9.7" rx="1.3" ry="0.9" fill="#b0b0b0" transform="rotate(30,-5.7,9.7)"/>
<ellipse cx="5.9" cy="11.4" rx="1.3" ry="0.9" fill="#b0b0b0" transform="rotate(-30,5.9,11.4)"/>
<ellipse cx="-2.2" cy="21.2" rx="2.6" ry="2.7" fill="url(#tx)" opacity="0.18"/>
<ellipse cx="1.9" cy="18.6" rx="2.8" ry="3.0" fill="url(#tx)" opacity="0.25"/>
<ellipse cx="1.1" cy="20.7" rx="1.8" ry="3.2" fill="url(#tx)" opacity="0.12"/>
<ellipse cx="-0.4" cy="12.7" rx="2.1" ry="3.1" fill="url(#tx)" opacity="0.14"/>
</g>
<g transform="translate(20.60,0.18) rotate(0.0,0,19.6) scale(0.983,1.011)">
<path d="M3.6,30 L5.8,37.4 M-3.6,30 L-5.8,37.4 M0,32 L0,38" stroke="#b0b0b0" stroke-width="1.5" fill="none"/>
<path d="M0.3,0.0C0.4,0.2 0.8,0.7 1.0,1.0C1.1,1.3 1.0,1.7 1.1,2.0C1.2,2.3 1.3,2.7 1.4,3.0C1.5,3.3 1.7,3.7 1.8,4.0C1.9,4.3 2.1,4.7 2.2,5.0C2.3,5.3 2.2,5.7 2.4,6.0C2.5,6.3 3.0,6.7 3.1,7.0C3.2,7.3 2.9,7.7 3.1,8.0C3.3,8.3 4.1,8.7 4.3,9.0C4.5,9.3 4.1,9.5 4.3,10.0C4.4,10.5 5.0,11.3 5.2,12.0C5.4,12.7 5.4,13.2 5.5,14.0C5.6,14.8 5.9,15.8 5.9,17.0C6.0,18.2 5.9,19.7 5.8,21.0C5.8,22.3 5.8,23.8 5.9,25.0C5.9,26.2 6.4,27.2 6.3,28.0C6.3,28.8 5.7,29.4 5.5,30.0C5.3,30.6 5.3,31.1 5.1,31.5C4.9,31.9 4.6,32.2 4.2,32.5C3.7,32.8 3.0,33.1 2.3,33.3C1.7,33.5 0.8,33.7 0.4,33.8C-0.1,33.9 0.0,33.9 -0.4,33.8C-0.9,33.7 -1.7,33.5 -2.4,33.3C-3.1,33.1 -4.0,32.8 -4.5,32.5C-5.1,32.2 -5.4,31.9 -5.6,31.5C-5.8,31.1 -5.5,30.6 -5.6,30.0C-5.7,29.4 -6.0,28.8 -6.1,28.0C-6.3,27.2 -6.5,26.2 -6.5,25.0C-6.4,23.8 -6.1,22.3 -6.0,21.0C-5.9,19.7 -6.0,18.2 -5.9,17.0C-5.9,15.8 -6.0,14.8 -5.7,14.0C-5.5,13.2 -4.7,12.7 -4.5,12.0C-4.3,11.3 -4.6,10.5 -4.6,10.0C-4.5,9.5 -4.4,9.3 -4.2,9.0C-3.9,8.7 -3.3,8.3 -3.1,8.0C-2.9,7.7 -3.1,7.3 -3.0,7.0C-2.9,6.7 -2.7,6.3 -2.6,6.0C-2.4,5.7 -2.1,5.3 -2.0,5.0C-1.9,4.7 -1.9,4.3 -1.9,4.0C-1.8,3.7 -1.7,3.3 -1.6,3.0C-1.5,2.7 -1.3,2.3 -1.2,2.0C-1.1,1.7 -1.2,1.3 -1.0,1.0C-0.9,0.7 -0.5,0.2 -0.4,0.0Z" fill="url(#mg)"/>
<ellipse cx="5.9" cy="10.0" rx="1.3" ry="0.9" fill="#b0b0b0" transform="rotate(-30,5.9,10.0)"/>
<ellipse cx="-0.3" cy="27.5" rx="2.8" ry="4.2" fill="url(#tx)" opacity="0.18"/>
<ellipse cx="-0.7" cy="18.5" rx="3.2" ry="4.4" fill="url(#tx)" opacity="0.19"/>
<ellipse cx="-0.0" cy="10.5" rx="3.0" ry="3.7" fill="url(#tx)" opacity="0.17"/>
<ellipse cx="-2.1" cy="18.9" rx="2.8" ry="3.0" fill="url(#tx)" opacity="0.15"/>
</g>
<g transform="translate(34.80,0.10) rotate(-0.0,0,19.6) scale(1.001,1.011)">
<path d="M3.6,30 L5.8,37.4 M-3.6,30 L-5.8,37.4 M0,32 L0,38" stroke="#b0b0b0" stroke-width="1.5" fill="none"/>
<path d="M0.2,0.0C0.3,0.2 0.8,0.7 1.0,1.0C1.1,1.3 1.0,1.7 1.1,2.0C1.1,2.3 1.3,2.7 1.4,3.0C1.5,3.3 1.6,3.7 1.7,4.0C1.8,4.3 1.9,4.7 2.0,5.0C2.2,5.3 2.2,5.7 2.4,6.0C2.5,6.3 2.8,6.7 3.0,7.0C3.2,7.3 3.6,7.7 3.7,8.0C3.8,8.3 3.5,8.7 3.6,9.0C3.7,9.3 4.0,9.5 4.2,10.0C4.3,10.5 4.4,11.3 4.6,12.0C4.8,12.7 5.3,13.2 5.4,14.0C5.6,14.8 5.3,15.8 5.4,17.0C5.5,18.2 5.9,19.7 6.0,21.0C6.1,22.3 5.8,23.8 5.9,25.0C5.9,26.2 6.5,27.2 6.4,28.0C6.4,28.8 5.7,29.4 5.6,30.0C5.4,30.6 5.7,31.1 5.4,31.5C5.1,31.9 4.5,32.2 4.0,32.5C3.6,32.8 3.0,33.1 2.5,33.3C2.0,33.5 1.6,33.7 1.0,33.8C0.5,33.9 -0.3,33.9 -0.9,33.8C-1.5,33.7 -2.1,33.5 -2.7,33.3C-3.3,33.1 -4.2,32.8 -4.6,32.5C-5.1,32.2 -5.1,31.9 -5.4,31.5C-5.7,31.1 -6.2,30.6 -6.3,30.0C-6.5,29.4 -6.5,28.8 -6.4,28.0C-6.3,27.2 -6.0,26.2 -6.0,25.0C-5.9,23.8 -6.2,22.3 -6.1,21.0C-6.0,19.7 -5.3,18.2 -5.2,17.0C-5.0,15.8 -5.2,14.8 -5.1,14.0C-5.1,13.2 -5.1,12.7 -5.0,12.0C-4.8,11.3 -4.3,10.5 -4.2,10.0C-4.1,9.5 -4.5,9.3 -4.4,9.0C-4.3,8.7 -3.8,8.3 -3.5,8.0C-3.3,7.7 -3.2,7.3 -3.1,7.0C-2.9,6.7 -2.7,6.3 -2.5,6.0C-2.3,5.7 -2.1,5.3 -2.0,5.0C-1.9,4.7 -2.0,4.3 -1.9,4.0C-1.9,3.7 -1.7,3.3 -1.6,3.0C-1.4,2.7 -1.2,2.3 -1.1,2.0C-1.0,1.7 -1.0,1.3 -0.9,1.0C-0.7,0.7 -0.4,0.2 -0.3,0.0Z" fill="url(#mg)"/>
<ellipse cx="-5.4" cy="9.4" rx="1.3" ry="0.9" fill="#b0b0b0" transform="rotate(30,-5.4,9.4)"/>
<ellipse cx="5.7" cy="11.7" rx="1.3" ry="0.9" fill="#b0b0b0" transform="rotate(-30,5.7,11.7)"/>
<ellipse cx="-0.2" cy="16.7" rx="2.5" ry="3.4" fill="url(#tx)" opacity="0.21"/>
<ellipse cx="-0.5" cy="27.2" rx="3.0" ry="4.2" fill="url(#tx)" opacity="0.22"/>
<ellipse cx="-2.1" cy="17.9" rx="3.0" ry="3.2" fill="url(#tx)" opacity="0.19"/>
<ellipse cx="-1.8" cy="26.3" rx="2.3" ry="3.2" fill="url(#tx)" opacity="0.23"/>
</g>
<g transform="translate(49.00,0.35) rotate(-3.0,0,19.6) scale(0.967,1.011)">
<path d="M3.6,30 L5.8,37.4 M-3.6,30 L-5.8,37.4 M0,32 L0,38" stroke="#b0b0b0" stroke-width="1.5" fill="none"/>
<path d="M0.3,0.0C0.4,0.2 0.7,0.7 0.9,1.0C1.0,1.3 1.2,1.7 1.3,2.0C1.4,2.3 1.5,2.7 1.6,3.0C1.7,3.3 1.7,3.7 1.8,4.0C1.8,4.3 1.9,4.7 2.0,5.0C2.1,5.3 2.3,5.7 2.4,6.0C2.6,6.3 2.9,6.7 3.0,7.0C3.2,7.3 3.2,7.7 3.4,8.0C3.5,8.3 3.6,8.7 3.7,9.0C3.9,9.3 4.2,9.5 4.3,10.0C4.5,10.5 4.5,11.3 4.7,12.0C4.9,12.7 5.4,13.2 5.5,14.0C5.6,14.8 5.1,15.8 5.2,17.0C5.2,18.2 5.5,19.7 5.7,21.0C5.9,22.3 6.4,23.8 6.4,25.0C6.5,26.2 6.0,27.2 6.0,28.0C6.0,28.8 6.4,29.4 6.2,30.0C6.1,30.6 5.5,31.1 5.1,31.5C4.7,31.9 4.1,32.2 3.8,32.5C3.4,32.8 3.4,33.1 2.9,33.3C2.4,33.5 1.3,33.7 0.7,33.8C0.2,33.9 0.2,33.9 -0.3,33.8C-0.8,33.7 -1.6,33.5 -2.3,33.3C-3.0,33.1 -4.1,32.8 -4.6,32.5C-5.0,32.2 -4.7,31.9 -4.9,31.5C-5.1,31.1 -5.7,30.6 -5.9,30.0C-6.1,29.4 -6.1,28.8 -6.2,28.0C-6.3,27.2 -6.7,26.2 -6.6,25.0C-6.4,23.8 -5.7,22.3 -5.5,21.0C-5.4,19.7 -5.9,18.2 -5.8,17.0C-5.8,15.8 -5.3,14.8 -5.2,14.0C-5.1,13.2 -5.3,12.7 -5.2,12.0C-5.0,11.3 -4.4,10.5 -4.2,10.0C-3.9,9.5 -3.7,9.3 -3.6,9.0C-3.4,8.7 -3.6,8.3 -3.5,8.0C-3.4,7.7 -3.1,7.3 -2.9,7.0C-2.8,6.7 -2.7,6.3 -2.6,6.0C-2.4,5.7 -2.3,5.3 -2.2,5.0C-2.0,4.7 -1.9,4.3 -1.8,4.0C-1.7,3.7 -1.5,3.3 -1.4,3.0C-1.3,2.7 -1.4,2.3 -1.3,2.0C-1.2,1.7 -1.2,1.3 -1.0,1.0C-0.8,0.7 -0.3,0.2 -0.2,0.0Z" fill="url(#mg)"/>
<ellipse cx="5.7" cy="11.1" rx="1.3" ry="0.9" fill="#b0b0b0" transform="rotate(-30,5.7,11.1)"/>
<ellipse cx="-2.7" cy="21.0" rx="2.7" ry="2.6" fill="url(#tx)" opacity="0.12"/>
<ellipse cx="-1.5" cy="24.2" rx="3.2" ry="3.4" fill="url(#tx)" opacity="0.23"/>
<ellipse cx="1.3" cy="14.7" rx="2.4" ry="4.2" fill="url(#tx)" opacity="0.18"/>
<ellipse cx="0.0" cy="24.2" rx="2.0" ry="3.4" fill="url(#tx)" opacity="0.19"/>
</g>
</g>
</svg>
<rect x="423.2" y="205.7" width="57.80000000000001" height="36.60000000000002" fill="#1e1e1e"/>
<svg x="423.2" y="205.7" width="57.80000000000001" height="36.60000000000002" overflow="hidden">
<g filter="url(#fur)">
<g transform="translate(6.60,0.26) rotate(1.2,0,18.3) scale(1.005,0.942)">
<path d="M3.6,30 L5.8,37.4 M-3.6,30 L-5.8,37.4 M0,32 L0,38" stroke="#b0b0b0" stroke-width="1.5" fill="none"/>
<path d="M0.3,0.0C0.4,0.2 0.6,0.7 0.8,1.0C1.0,1.3 1.2,1.7 1.3,2.0C1.4,2.3 1.4,2.7 1.5,3.0C1.6,3.3 1.7,3.7 1.8,4.0C1.9,4.3 1.9,4.7 2.0,5.0C2.2,5.3 2.3,5.7 2.5,6.0C2.6,6.3 2.9,6.7 3.0,7.0C3.2,7.3 3.2,7.7 3.4,8.0C3.6,8.3 4.2,8.7 4.3,9.0C4.4,9.3 4.0,9.5 4.0,10.0C4.0,10.5 4.2,11.3 4.5,12.0C4.7,12.7 5.1,13.2 5.3,14.0C5.5,14.8 5.4,15.8 5.5,17.0C5.5,18.2 5.6,19.7 5.7,21.0C5.8,22.3 5.8,23.8 5.9,25.0C6.0,26.2 6.2,27.2 6.2,28.0C6.2,28.8 5.8,29.4 5.7,30.0C5.6,30.6 5.8,31.1 5.6,31.5C5.4,31.9 5.1,32.2 4.6,32.5C4.1,32.8 3.5,33.1 2.8,33.3C2.1,33.5 1.2,33.7 0.6,33.8C-0.1,33.9 -0.4,33.9 -1.0,33.8C-1.6,33.7 -2.5,33.5 -3.0,33.3C-3.5,33.1 -3.7,32.8 -4.0,32.5C-4.3,32.2 -4.6,31.9 -5.0,31.5C-5.3,31.1 -5.8,30.6 -6.0,30.0C-6.3,29.4 -6.3,28.8 -6.4,28.0C-6.5,27.2 -6.7,26.2 -6.6,25.0C-6.5,23.8 -6.0,22.3 -5.8,21.0C-5.6,19.7 -5.4,18.2 -5.4,17.0C-5.4,15.8 -5.8,14.8 -5.7,14.0C-5.6,13.2 -5.0,12.7 -4.8,12.0C-4.7,11.3 -5.0,10.5 -4.8,10.0C-4.7,9.5 -4.0,9.3 -3.8,9.0C-3.6,8.7 -3.7,8.3 -3.6,8.0C-3.4,7.7 -3.1,7.3 -2.9,7.0C-2.7,6.7 -2.5,6.3 -2.4,6.0C-2.3,5.7 -2.3,5.3 -2.2,5.0C-2.1,4.7 -1.9,4.3 -1.8,4.0C-1.6,3.7 -1.6,3.3 -1.5,3.0C-1.4,2.7 -1.3,2.3 -1.2,2.0C-1.1,1.7 -1.1,1.3 -1.0,1.0C-0.8,0.7 -0.4,0.2 -0.3,0.0Z" fill="url(#mg)"/>
<ellipse cx="-6.1" cy="10.3" rx="1.3" ry="0.9" fill="#b0b0b0" transform="rotate(30,-6.1,10.3)"/>
<ellipse cx="-2.9" cy="12.1" rx="2.5" ry="3.2" fill="url(#tx)" opacity="0.13"/>
<ellipse cx="2.0" cy="15.8" rx="3.1" ry="3.2" fill="url(#tx)" opacity="0.14"/>
<ellipse cx="-0.5" cy="26.4" rx="3.1" ry="3.6" fill="url(#tx)" opacity="0.15"/>
<ellipse cx="0.2" cy="14.5" rx="2.3" ry="2.5" fill="url(#tx)" opacity="0.12"/>
</g>
<g transform="translate(20.60,0.25) rotate(1.6,0,18.3) scale(1.035,0.942)">
<path d="M3.6,30 L5.8,37.4 M-3.6,30 L-5.8,37.4 M0,32 L0,38" stroke="#b0b0b0" stroke-width="1.5" fill="none"/>
<path d="M0.3,0.0C0.4,0.2 0.8,0.7 1.0,1.0C1.1,1.3 1.2,1.7 1.3,2.0C1.3,2.3 1.4,2.7 1.5,3.0C1.6,3.3 1.7,3.7 1.8,4.0C1.8,4.3 1.9,4.7 2.0,5.0C2.1,5.3 2.3,5.7 2.4,6.0C2.6,6.3 2.9,6.7 3.0,7.0C3.2,7.3 3.3,7.7 3.4,8.0C3.6,8.3 3.5,8.7 3.8,9.0C4.0,9.3 4.5,9.5 4.8,10.0C5.0,10.5 5.1,11.3 5.2,12.0C5.4,12.7 5.7,13.2 5.7,14.0C5.7,14.8 5.3,15.8 5.3,17.0C5.3,18.2 5.5,19.7 5.6,21.0C5.6,22.3 5.7,23.8 5.8,25.0C5.9,26.2 6.1,27.2 6.2,28.0C6.2,28.8 6.2,29.4 6.0,30.0C5.8,30.6 5.2,31.1 4.8,31.5C4.5,31.9 4.4,32.2 4.0,32.5C3.7,32.8 3.3,33.1 2.7,33.3C2.1,33.5 0.9,33.7 0.3,33.8C-0.3,33.9 -0.5,33.9 -1.0,33.8C-1.5,33.7 -2.2,33.5 -2.8,33.3C-3.4,33.1 -4.2,32.8 -4.6,32.5C-5.0,32.2 -5.1,31.9 -5.4,31.5C-5.7,31.1 -6.0,30.6 -6.2,30.0C-6.3,29.4 -6.4,28.8 -6.3,28.0C-6.2,27.2 -5.8,26.2 -5.8,25.0C-5.8,23.8 -6.3,22.3 -6.3,21.0C-6.4,19.7 -6.2,18.2 -6.0,17.0C-5.9,15.8 -5.6,14.8 -5.4,14.0C-5.1,13.2 -4.6,12.7 -4.5,12.0C-4.4,11.3 -4.8,10.5 -4.7,10.0C-4.6,9.5 -4.1,9.3 -3.9,9.0C-3.8,8.7 -3.9,8.3 -3.7,8.0C-3.6,7.7 -3.1,7.3 -2.9,7.0C-2.7,6.7 -2.5,6.3 -2.4,6.0C-2.3,5.7 -2.3,5.3 -2.2,5.0C-2.1,4.7 -1.8,4.3 -1.7,4.0C-1.6,3.7 -1.7,3.3 -1.6,3.0C-1.5,2.7 -1.3,2.3 -1.2,2.0C-1.1,1.7 -1.1,1.3 -0.9,1.0C-0.8,0.7 -0.3,0.2 -0.2,0.0Z" fill="url(#mg)"/>
<ellipse cx="-5.6" cy="9.6" rx="1.3" ry="0.9" fill="#b0b0b0" transform="rotate(30,-5.6,9.6)"/>
<ellipse cx="-1.1" cy="18.9" rx="2.6" ry="3.0" fill="url(#tx)" opacity="0.14"/>
<ellipse cx="-0.6" cy="24.0" rx="2.7" ry="2.9" fill="url(#tx)" opacity="0.21"/>
<ellipse cx="2.2" cy="23.8" rx="2.1" ry="2.6" fill="url(#tx)" opacity="0.25"/>
<ellipse cx="1.3" cy="14.7" rx="2.8" ry="3.7" fill="url(#tx)" opacity="0.20"/>
</g>
<g transform="translate(34.80,0.33) rotate(1.0,0,18.3) scale(0.989,0.942)">
<path d="M3.6,30 L5.8,37.4 M-3.6,30 L-5.8,37.4 M0,32 L0,38" stroke="#b0b0b0" stroke-width="1.5" fill="none"/>
<path d="M0.3,0.0C0.4,0.2 0.8,0.7 1.0,1.0C1.1,1.3 1.1,1.7 1.1,2.0C1.2,2.3 1.3,2.7 1.4,3.0C1.5,3.3 1.6,3.7 1.8,4.0C1.9,4.3 2.1,4.7 2.2,5.0C2.3,5.3 2.2,5.7 2.4,6.0C2.5,6.3 2.8,6.7 3.0,7.0C3.2,7.3 3.6,7.7 3.8,8.0C4.0,8.3 4.2,8.7 4.3,9.0C4.5,9.3 4.6,9.5 4.7,10.0C4.8,10.5 4.9,11.3 5.0,12.0C5.2,12.7 5.3,13.2 5.4,14.0C5.6,14.8 5.8,15.8 5.9,17.0C6.0,18.2 5.9,19.7 6.0,21.0C6.1,22.3 6.5,23.8 6.5,25.0C6.5,26.2 6.2,27.2 6.1,28.0C6.1,28.8 6.4,29.4 6.3,30.0C6.2,30.6 5.9,31.1 5.5,31.5C5.2,31.9 4.6,32.2 4.1,32.5C3.7,32.8 3.2,33.1 2.6,33.3C2.1,33.5 1.2,33.7 0.7,33.8C0.2,33.9 0.3,33.9 -0.3,33.8C-0.9,33.7 -2.2,33.5 -2.9,33.3C-3.5,33.1 -3.9,32.8 -4.2,32.5C-4.6,32.2 -4.9,31.9 -5.1,31.5C-5.4,31.1 -5.6,30.6 -5.7,30.0C-5.8,29.4 -5.7,28.8 -5.8,28.0C-5.9,27.2 -6.5,26.2 -6.5,25.0C-6.6,23.8 -6.4,22.3 -6.2,21.0C-6.0,19.7 -5.5,18.2 -5.3,17.0C-5.1,15.8 -5.0,14.8 -4.9,14.0C-4.8,13.2 -4.7,12.7 -4.6,12.0C-4.6,11.3 -4.5,10.5 -4.4,10.0C-4.3,9.5 -4.0,9.3 -3.9,9.0C-3.8,8.7 -3.9,8.3 -3.8,8.0C-3.7,7.7 -3.3,7.3 -3.1,7.0C-2.9,6.7 -2.7,6.3 -2.6,6.0C-2.4,5.7 -2.2,5.3 -2.1,5.0C-1.9,4.7 -1.8,4.3 -1.7,4.0C-1.6,3.7 -1.7,3.3 -1.6,3.0C-1.5,2.7 -1.2,2.3 -1.1,2.0C-1.0,1.7 -1.1,1.3 -1.0,1.0C-0.9,0.7 -0.4,0.2 -0.3,0.0Z" fill="url(#mg)"/>
<ellipse cx="5.4" cy="11.6" rx="1.3" ry="0.9" fill="#b0b0b0" transform="rotate(-30,5.4,11.6)"/>
<ellipse cx="-0.9" cy="21.4" rx="2.3" ry="4.3" fill="url(#tx)" opacity="0.22"/>
<ellipse cx="-1.1" cy="18.0" rx="2.8" ry="3.5" fill="url(#tx)" opacity="0.20"/>
<ellipse cx="-1.0" cy="21.0" rx="2.6" ry="4.3" fill="url(#tx)" opacity="0.17"/>
<ellipse cx="1.9" cy="13.5" rx="2.2" ry="3.0" fill="url(#tx)" opacity="0.24"/>
</g>
<g transform="translate(49.00,0.38) rotate(-1.3,0,18.3) scale(0.968,0.942)">
<path d="M3.6,30 L5.8,37.4 M-3.6,30 L-5.8,37.4 M0,32 L0,38" stroke="#b0b0b0" stroke-width="1.5" fill="none"/>
<path d="M0.4,0.0C0.4,0.2 0.6,0.7 0.8,1.0C0.9,1.3 1.2,1.7 1.3,2.0C1.4,2.3 1.3,2.7 1.4,3.0C1.5,3.3 1.6,3.7 1.7,4.0C1.8,4.3 1.9,4.7 2.0,5.0C2.1,5.3 2.3,5.7 2.5,6.0C2.6,6.3 2.9,6.7 3.0,7.0C3.1,7.3 2.9,7.7 3.1,8.0C3.2,8.3 3.7,8.7 3.9,9.0C4.1,9.3 3.9,9.5 4.1,10.0C4.2,10.5 4.8,11.3 5.0,12.0C5.1,12.7 5.0,13.2 5.1,14.0C5.3,14.8 5.9,15.8 6.0,17.0C6.0,18.2 5.6,19.7 5.6,21.0C5.6,22.3 5.9,23.8 6.0,25.0C6.0,26.2 6.1,27.2 6.1,28.0C6.1,28.8 6.2,29.4 6.0,30.0C5.8,30.6 5.2,31.1 4.9,31.5C4.7,31.9 4.8,32.2 4.4,32.5C4.1,32.8 3.4,33.1 2.8,33.3C2.2,33.5 1.5,33.7 1.0,33.8C0.4,33.9 0.1,33.9 -0.5,33.8C-1.1,33.7 -2.0,33.5 -2.6,33.3C-3.3,33.1 -4.0,32.8 -4.4,32.5C-4.8,32.2 -5.0,31.9 -5.2,31.5C-5.4,31.1 -5.5,30.6 -5.8,30.0C-6.0,29.4 -6.6,28.8 -6.6,28.0C-6.7,27.2 -6.4,26.2 -6.3,25.0C-6.2,23.8 -6.2,22.3 -6.0,21.0C-5.8,19.7 -5.3,18.2 -5.2,17.0C-5.0,15.8 -5.0,14.8 -4.9,14.0C-4.8,13.2 -4.6,12.7 -4.5,12.0C-4.4,11.3 -4.4,10.5 -4.3,10.0C-4.3,9.5 -4.3,9.3 -4.1,9.0C-3.9,8.7 -3.4,8.3 -3.2,8.0C-3.1,7.7 -3.2,7.3 -3.1,7.0C-3.0,6.7 -2.6,6.3 -2.5,6.0C-2.3,5.7 -2.3,5.3 -2.2,5.0C-2.1,4.7 -1.8,4.3 -1.7,4.0C-1.6,3.7 -1.7,3.3 -1.6,3.0C-1.5,2.7 -1.2,2.3 -1.1,2.0C-1.0,1.7 -1.0,1.3 -0.9,1.0C-0.7,0.7 -0.4,0.2 -0.3,0.0Z" fill="url(#mg)"/>
<ellipse cx="1.9" cy="18.9" rx="2.9" ry="4.0" fill="url(#tx)" opacity="0.16"/>
<ellipse cx="-0.6" cy="24.9" rx="2.3" ry="3.2" fill="url(#tx)" opacity="0.19"/>
<ellipse cx="-2.7" cy="14.5" rx="3.2" ry="3.0" fill="url(#tx)" opacity="0.22"/>
<ellipse cx="-3.2" cy="15.5" rx="2.5" ry="3.1" fill="url(#tx)" opacity="0.24"/>
</g>
</g>
</svg>
<rect x="423.2" y="245.4" width="57.80000000000001" height="38.400000000000006" fill="#1e1e1e"/>
<svg x="423.2" y="245.4" width="57.80000000000001" height="38.400000000000006" overflow="hidden">
<g filter="url(#fur)">
<g transform="translate(6.60,0.18) rotate(-1.2,0,19.2) scale(1.099,0.989)">
<path d="M3.6,30 L5.8,37.4 M-3.6,30 L-5.8,37.4 M0,32 L0,38" stroke="#b0b0b0" stroke-width="1.5" fill="none"/>
<path d="M0.4,0.0C0.5,0.2 0.8,0.7 0.9,1.0C1.0,1.3 1.0,1.7 1.1,2.0C1.2,2.3 1.4,2.7 1.5,3.0C1.7,3.3 1.7,3.7 1.8,4.0C1.8,4.3 1.9,4.7 2.1,5.0C2.2,5.3 2.4,5.7 2.5,6.0C2.7,6.3 2.8,6.7 3.0,7.0C3.1,7.3 3.5,7.7 3.6,8.0C3.8,8.3 3.6,8.7 3.7,9.0C3.9,9.3 4.4,9.5 4.5,10.0C4.7,10.5 4.5,11.3 4.6,12.0C4.6,12.7 4.9,13.2 5.0,14.0C5.1,14.8 5.1,15.8 5.2,17.0C5.4,18.2 5.7,19.7 5.8,21.0C5.9,22.3 5.9,23.8 6.0,25.0C6.1,26.2 6.1,27.2 6.2,28.0C6.2,28.8 6.4,29.4 6.2,30.0C6.0,30.6 5.4,31.1 5.0,31.5C4.6,31.9 4.4,32.2 4.0,32.5C3.6,32.8 3.2,33.1 2.7,33.3C2.2,33.5 1.3,33.7 0.7,33.8C0.1,33.9 -0.4,33.9 -0.9,33.8C-1.4,33.7 -1.9,33.5 -2.4,33.3C-2.9,33.1 -3.3,32.8 -3.8,32.5C-4.2,32.2 -4.7,31.9 -5.0,31.5C-5.4,31.1 -5.9,30.6 -6.1,30.0C-6.2,29.4 -5.9,28.8 -5.9,28.0C-5.9,27.2 -6.3,26.2 -6.2,25.0C-6.1,23.8 -5.5,22.3 -5.5,21.0C-5.4,19.7 -6.0,18.2 -5.9,17.0C-5.8,15.8 -5.1,14.8 -5.0,14.0C-4.8,13.2 -5.3,12.7 -5.2,12.0C-5.1,11.3 -4.3,10.5 -4.2,10.0C-4.0,9.5 -4.3,9.3 -4.2,9.0C-4.2,8.7 -4.1,8.3 -3.9,8.0C-3.7,7.7 -3.2,7.3 -2.9,7.0C-2.7,6.7 -2.6,6.3 -2.5,6.0C-2.3,5.7 -2.2,5.3 -2.1,5.0C-2.0,4.7 -1.8,4.3 -1.7,4.0C-1.6,3.7 -1.6,3.3 -1.5,3.0C-1.4,2.7 -1.4,2.3 -1.3,2.0C-1.1,1.7 -0.9,1.3 -0.8,1.0C-0.6,0.7 -0.4,0.2 -0.4,0.0Z" fill="url(#mg)"/>
<ellipse cx="-5.6" cy="9.9" rx="1.3" ry="0.9" fill="#b0b0b0" transform="rotate(30,-5.6,9.9)"/>
<ellipse cx="5.6" cy="9.1" rx="1.3" ry="0.9" fill="#b0b0b0" transform="rotate(-30,5.6,9.1)"/>
<ellipse cx="-1.2" cy="11.3" rx="3.0" ry="3.9" fill="url(#tx)" opacity="0.18"/>
<ellipse cx="-2.7" cy="24.3" rx="2.3" ry="4.3" fill="url(#tx)" opacity="0.20"/>
<ellipse cx="-1.7" cy="24.8" rx="2.6" ry="3.2" fill="url(#tx)" opacity="0.22"/>
<ellipse cx="-1.1" cy="12.0" rx="1.9" ry="3.7" fill="url(#tx)" opacity="0.16"/>
</g>
<g transform="translate(20.60,0.56) rotate(-2.7,0,19.2) scale(1.031,0.989)">
<path d="M3.6,30 L5.8,37.4 M-3.6,30 L-5.8,37.4 M0,32 L0,38" stroke="#b0b0b0" stroke-width="1.5" fill="none"/>
<path d="M0.2,0.0C0.4,0.2 0.9,0.7 1.0,1.0C1.2,1.3 1.0,1.7 1.1,2.0C1.2,2.3 1.4,2.7 1.5,3.0C1.7,3.3 1.8,3.7 1.9,4.0C2.0,4.3 2.0,4.7 2.1,5.0C2.2,5.3 2.3,5.7 2.4,6.0C2.6,6.3 2.7,6.7 2.9,7.0C3.0,7.3 3.2,7.7 3.3,8.0C3.4,8.3 3.3,8.7 3.6,9.0C3.8,9.3 4.3,9.5 4.6,10.0C4.9,10.5 5.0,11.3 5.2,12.0C5.4,12.7 5.5,13.2 5.6,14.0C5.8,14.8 5.9,15.8 5.9,17.0C6.0,18.2 5.8,19.7 5.8,21.0C5.8,22.3 5.9,23.8 5.9,25.0C6.0,26.2 6.2,27.2 6.2,28.0C6.2,28.8 5.9,29.4 5.8,30.0C5.7,30.6 5.9,31.1 5.6,31.5C5.4,31.9 4.7,32.2 4.2,32.5C3.7,32.8 3.2,33.1 2.6,33.3C2.1,33.5 1.6,33.7 1.0,33.8C0.4,33.9 -0.1,33.9 -0.7,33.8C-1.3,33.7 -2.3,33.5 -2.9,33.3C-3.4,33.1 -3.7,32.8 -4.1,32.5C-4.4,32.2 -4.8,31.9 -5.0,31.5C-5.3,31.1 -5.3,30.6 -5.5,30.0C-5.7,29.4 -6.1,28.8 -6.1,28.0C-6.2,27.2 -6.0,26.2 -6.0,25.0C-5.9,23.8 -6.0,22.3 -5.9,21.0C-5.9,19.7 -5.7,18.2 -5.7,17.0C-5.7,15.8 -5.8,14.8 -5.7,14.0C-5.6,13.2 -5.2,12.7 -5.0,12.0C-4.8,11.3 -4.7,10.5 -4.5,10.0C-4.3,9.5 -4.0,9.3 -3.9,9.0C-3.8,8.7 -4.1,8.3 -3.9,8.0C-3.8,7.7 -3.3,7.3 -3.0,7.0C-2.8,6.7 -2.5,6.3 -2.4,6.0C-2.3,5.7 -2.3,5.3 -2.2,5.0C-2.1,4.7 -1.9,4.3 -1.8,4.0C-1.6,3.7 -1.7,3.3 -1.6,3.0C-1.5,2.7 -1.4,2.3 -1.3,2.0C-1.2,1.7 -1.1,1.3 -1.0,1.0C-0.8,0.7 -0.5,0.2 -0.4,0.0Z" fill="url(#mg)"/>
<ellipse cx="5.5" cy="10.4" rx="1.3" ry="0.9" fill="#b0b0b0" transform="rotate(-30,5.5,10.4)"/>
<ellipse cx="3.0" cy="11.7" rx="2.1" ry="4.0" fill="url(#tx)" opacity="0.15"/>
<ellipse cx="-2.8" cy="16.7" rx="2.4" ry="3.4" fill="url(#tx)" opacity="0.15"/>
<ellipse cx="-1.0" cy="15.0" rx="2.0" ry="3.5" fill="url(#tx)" opacity="0.15"/>
<ellipse cx="-2.0" cy="28.5" rx="3.0" ry="3.3" fill="url(#tx)" opacity="0.19"/>
</g>
<g transform="translate(34.80,0.41) rotate(-2.9,0,19.2) scale(1.026,0.989)">
<path d="M3.6,30 L5.8,37.4 M-3.6,30 L-5.8,37.4 M0,32 L0,38" stroke="#b0b0b0" stroke-width="1.5" fill="none"/>
<path d="M0.4,0.0C0.5,0.2 0.8,0.7 0.9,1.0C1.0,1.3 1.0,1.7 1.1,2.0C1.2,2.3 1.3,2.7 1.4,3.0C1.6,3.3 1.8,3.7 1.9,4.0C2.0,4.3 2.1,4.7 2.2,5.0C2.3,5.3 2.4,5.7 2.5,6.0C2.7,6.3 2.8,6.7 2.9,7.0C3.1,7.3 3.3,7.7 3.5,8.0C3.6,8.3 3.8,8.7 3.9,9.0C4.0,9.3 4.0,9.5 4.2,10.0C4.3,10.5 4.4,11.3 4.6,12.0C4.8,12.7 5.1,13.2 5.2,14.0C5.4,14.8 5.5,15.8 5.6,17.0C5.6,18.2 5.6,19.7 5.6,21.0C5.7,22.3 5.8,23.8 5.9,25.0C6.0,26.2 6.3,27.2 6.4,28.0C6.4,28.8 6.3,29.4 6.1,30.0C5.8,30.6 5.0,31.1 4.8,31.5C4.5,31.9 4.8,32.2 4.5,32.5C4.3,32.8 3.7,33.1 3.0,33.3C2.4,33.5 1.1,33.7 0.5,33.8C-0.1,33.9 -0.2,33.9 -0.7,33.8C-1.2,33.7 -1.9,33.5 -2.4,33.3C-3.0,33.1 -3.8,32.8 -4.2,32.5C-4.6,32.2 -4.6,31.9 -4.8,31.5C-5.1,31.1 -5.3,30.6 -5.6,30.0C-5.8,29.4 -6.2,28.8 -6.3,28.0C-6.5,27.2 -6.6,26.2 -6.5,25.0C-6.4,23.8 -6.0,22.3 -5.8,21.0C-5.6,19.7 -5.4,18.2 -5.3,17.0C-5.2,15.8 -5.2,14.8 -5.2,14.0C-5.2,13.2 -5.2,12.7 -5.1,12.0C-5.0,11.3 -4.8,10.5 -4.7,10.0C-4.6,9.5 -4.6,9.3 -4.4,9.0C-4.2,8.7 -3.7,8.3 -3.4,8.0C-3.2,7.7 -3.1,7.3 -2.9,7.0C-2.8,6.7 -2.7,6.3 -2.5,6.0C-2.4,5.7 -2.1,5.3 -2.0,5.0C-1.9,4.7 -2.0,4.3 -1.9,4.0C-1.8,3.7 -1.7,3.3 -1.6,3.0C-1.5,2.7 -1.3,2.3 -1.2,2.0C-1.1,1.7 -1.2,1.3 -1.0,1.0C-0.8,0.7 -0.3,0.2 -0.2,0.0Z" fill="url(#mg)"/>
<ellipse cx="5.6" cy="10.4" rx="1.3" ry="0.9" fill="#b0b0b0" transform="rotate(-30,5.6,10.4)"/>
<ellipse cx="-1.7" cy="28.0" rx="3.1" ry="3.4" fill="url(#tx)" opacity="0.14"/>
<ellipse cx="2.4" cy="18.8" rx="2.8" ry="3.3" fill="url(#tx)" opacity="0.13"/>
<ellipse cx="1.6" cy="11.2" rx="3.1" ry="2.8" fill="url(#tx)" opacity="0.16"/>
<ellipse cx="-3.2" cy="13.6" rx="2.7" ry="2.7" fill="url(#tx)" opacity="0.13"/>
</g>
<g transform="translate(49.00,0.41) rotate(-2.9,0,19.2) scale(1.023,0.989)">
<path d="M3.6,30 L5.8,37.4 M-3.6,30 L-5.8,37.4 M0,32 L0,38" stroke="#b0b0b0" stroke-width="1.5" fill="none"/>
<path d="M0.2,0.0C0.3,0.2 0.8,0.7 0.9,1.0C1.1,1.3 1.2,1.7 1.3,2.0C1.4,2.3 1.4,2.7 1.4,3.0C1.5,3.3 1.7,3.7 1.9,4.0C2.0,4.3 2.1,4.7 2.2,5.0C2.3,5.3 2.4,5.7 2.5,6.0C2.7,6.3 2.9,6.7 3.0,7.0C3.2,7.3 3.5,7.7 3.6,8.0C3.7,8.3 3.6,8.7 3.6,9.0C3.7,9.3 4.0,9.5 4.2,10.0C4.5,10.5 5.1,11.3 5.2,12.0C5.4,12.7 5.0,13.2 5.1,14.0C5.3,14.8 5.8,15.8 6.0,17.0C6.1,18.2 6.0,19.7 5.9,21.0C5.9,22.3 5.7,23.8 5.8,25.0C5.9,26.2 6.4,27.2 6.4,28.0C6.4,28.8 5.9,29.4 5.7,30.0C5.5,30.6 5.5,31.1 5.2,31.5C4.9,31.9 4.4,32.2 3.9,32.5C3.4,32.8 3.0,33.1 2.4,33.3C1.8,33.5 0.9,33.7 0.3,33.8C-0.2,33.9 -0.3,33.9 -0.8,33.8C-1.4,33.7 -2.6,33.5 -3.0,33.3C-3.5,33.1 -3.5,32.8 -3.8,32.5C-4.1,32.2 -4.5,31.9 -4.9,31.5C-5.2,31.1 -5.7,30.6 -5.9,30.0C-6.1,29.4 -5.9,28.8 -5.9,28.0C-6.0,27.2 -6.2,26.2 -6.1,25.0C-6.1,23.8 -5.7,22.3 -5.5,21.0C-5.4,19.7 -5.1,18.2 -5.2,17.0C-5.2,15.8 -5.6,14.8 -5.7,14.0C-5.7,13.2 -5.5,12.7 -5.3,12.0C-5.2,11.3 -4.9,10.5 -4.7,10.0C-4.4,9.5 -4.1,9.3 -3.9,9.0C-3.7,8.7 -3.6,8.3 -3.4,8.0C-3.3,7.7 -3.2,7.3 -3.1,7.0C-2.9,6.7 -2.8,6.3 -2.6,6.0C-2.4,5.7 -2.1,5.3 -2.0,5.0C-1.8,4.7 -1.8,4.3 -1.7,4.0C-1.6,3.7 -1.6,3.3 -1.6,3.0C-1.5,2.7 -1.4,2.3 -1.3,2.0C-1.2,1.7 -1.1,1.3 -0.9,1.0C-0.7,0.7 -0.5,0.2 -0.4,0.0Z" fill="url(#mg)"/>
<ellipse cx="1.9" cy="10.3" rx="2.3" ry="4.2" fill="url(#tx)" opacity="0.20"/>
<ellipse cx="2.3" cy="9.7" rx="3.0" ry="3.3" fill="url(#tx)" opacity="0.22"/>
<ellipse cx="0.5" cy="16.5" rx="2.5" ry="2.6" fill="url(#tx)" opacity="0.24"/>
<ellipse cx="2.4" cy="22.6" rx="2.7" ry="4.0" fill="url(#tx)" opacity="0.18"/>
</g>
</g>
</svg>
<rect x="423.2" y="285.6" width="57.80000000000001" height="42.39999999999998" fill="#1e1e1e"/>
<svg x="423.2" y="285.6" width="57.80000000000001" height="42.39999999999998" overflow="hidden">
<g filter="url(#fur)">
<g transform="translate(8.60,0.69) rotate(0.9,0,21.2) scale(1.038,1.095)">
<path d="M3.6,30 L5.8,37.4 M-3.6,30 L-5.8,37.4 M0,32 L0,38" stroke="#b0b0b0" stroke-width="1.5" fill="none"/>
<path d="M0.4,0.0C0.5,0.2 0.7,0.7 0.8,1.0C0.9,1.3 1.0,1.7 1.1,2.0C1.3,2.3 1.5,2.7 1.6,3.0C1.7,3.3 1.8,3.7 1.8,4.0C1.9,4.3 1.9,4.7 2.0,5.0C2.1,5.3 2.5,5.7 2.6,6.0C2.8,6.3 2.9,6.7 3.0,7.0C3.1,7.3 3.2,7.7 3.3,8.0C3.3,8.3 3.4,8.7 3.6,9.0C3.7,9.3 3.9,9.5 4.1,10.0C4.4,10.5 4.8,11.3 5.0,12.0C5.1,12.7 4.9,13.2 4.9,14.0C5.0,14.8 5.0,15.8 5.2,17.0C5.3,18.2 5.6,19.7 5.8,21.0C5.9,22.3 5.9,23.8 6.0,25.0C6.0,26.2 5.8,27.2 5.9,28.0C5.9,28.8 6.2,29.4 6.1,30.0C6.1,30.6 5.6,31.1 5.3,31.5C5.0,31.9 4.9,32.2 4.4,32.5C3.9,32.8 3.1,33.1 2.4,33.3C1.7,33.5 0.9,33.7 0.4,33.8C-0.1,33.9 -0.2,33.9 -0.7,33.8C-1.3,33.7 -2.4,33.5 -2.9,33.3C-3.4,33.1 -3.4,32.8 -3.8,32.5C-4.1,32.2 -4.7,31.9 -5.0,31.5C-5.3,31.1 -5.6,30.6 -5.7,30.0C-5.8,29.4 -5.8,28.8 -5.9,28.0C-6.0,27.2 -6.4,26.2 -6.3,25.0C-6.3,23.8 -5.8,22.3 -5.6,21.0C-5.4,19.7 -5.4,18.2 -5.3,17.0C-5.2,15.8 -5.0,14.8 -4.9,14.0C-4.8,13.2 -4.7,12.7 -4.6,12.0C-4.6,11.3 -5.0,10.5 -4.8,10.0C-4.7,9.5 -3.9,9.3 -3.6,9.0C-3.3,8.7 -3.2,8.3 -3.1,8.0C-3.0,7.7 -3.1,7.3 -3.1,7.0C-3.0,6.7 -2.8,6.3 -2.6,6.0C-2.4,5.7 -2.2,5.3 -2.0,5.0C-1.9,4.7 -1.9,4.3 -1.8,4.0C-1.7,3.7 -1.6,3.3 -1.5,3.0C-1.4,2.7 -1.3,2.3 -1.2,2.0C-1.1,1.7 -1.0,1.3 -0.8,1.0C-0.7,0.7 -0.5,0.2 -0.4,0.0Z" fill="url(#mg)"/>
<ellipse cx="-5.6" cy="9.3" rx="1.3" ry="0.9" fill="#b0b0b0" transform="rotate(30,-5.6,9.3)"/>
<ellipse cx="5.7" cy="9.1" rx="1.3" ry="0.9" fill="#b0b0b0" transform="rotate(-30,5.7,9.1)"/>
<ellipse cx="-0.5" cy="16.5" rx="2.9" ry="4.3" fill="url(#tx)" opacity="0.17"/>
<ellipse cx="-1.3" cy="25.2" rx="2.9" ry="3.5" fill="url(#tx)" opacity="0.20"/>
<ellipse cx="-1.0" cy="24.2" rx="2.6" ry="4.2" fill="url(#tx)" opacity="0.16"/>
<ellipse cx="-2.8" cy="27.2" rx="2.6" ry="4.1" fill="url(#tx)" opacity="0.22"/>
</g>
<g transform="translate(22.40,0.62) rotate(-0.8,0,21.2) scale(1.083,1.095)">
<path d="M3.6,30 L5.8,37.4 M-3.6,30 L-5.8,37.4 M0,32 L0,38" stroke="#b0b0b0" stroke-width="1.5" fill="none"/>
<path d="M0.3,0.0C0.4,0.2 0.7,0.7 0.8,1.0C0.9,1.3 1.0,1.7 1.1,2.0C1.2,2.3 1.3,2.7 1.5,3.0C1.6,3.3 1.8,3.7 1.9,4.0C2.0,4.3 2.0,4.7 2.1,5.0C2.2,5.3 2.4,5.7 2.6,6.0C2.7,6.3 2.9,6.7 3.1,7.0C3.3,7.3 3.4,7.7 3.6,8.0C3.8,8.3 4.1,8.7 4.3,9.0C4.4,9.3 4.6,9.5 4.7,10.0C4.8,10.5 4.8,11.3 4.9,12.0C5.1,12.7 5.3,13.2 5.5,14.0C5.7,14.8 6.0,15.8 6.0,17.0C6.1,18.2 5.9,19.7 5.9,21.0C5.9,22.3 5.8,23.8 5.8,25.0C5.9,26.2 6.4,27.2 6.3,28.0C6.2,28.8 5.6,29.4 5.5,30.0C5.3,30.6 5.7,31.1 5.5,31.5C5.2,31.9 4.6,32.2 4.1,32.5C3.6,32.8 3.2,33.1 2.6,33.3C2.0,33.5 1.2,33.7 0.7,33.8C0.3,33.9 0.4,33.9 -0.2,33.8C-0.8,33.7 -2.3,33.5 -3.0,33.3C-3.6,33.1 -3.6,32.8 -4.0,32.5C-4.4,32.2 -4.9,31.9 -5.3,31.5C-5.7,31.1 -6.1,30.6 -6.2,30.0C-6.3,29.4 -5.7,28.8 -5.8,28.0C-5.8,27.2 -6.5,26.2 -6.6,25.0C-6.6,23.8 -6.2,22.3 -6.1,21.0C-6.0,19.7 -6.1,18.2 -6.0,17.0C-5.9,15.8 -5.5,14.8 -5.3,14.0C-5.1,13.2 -5.0,12.7 -4.9,12.0C-4.8,11.3 -4.9,10.5 -4.7,10.0C-4.6,9.5 -4.1,9.3 -3.9,9.0C-3.7,8.7 -3.7,8.3 -3.5,8.0C-3.3,7.7 -3.1,7.3 -3.0,7.0C-2.8,6.7 -2.7,6.3 -2.5,6.0C-2.3,5.7 -2.1,5.3 -2.0,5.0C-1.9,4.7 -1.9,4.3 -1.8,4.0C-1.7,3.7 -1.6,3.3 -1.5,3.0C-1.4,2.7 -1.3,2.3 -1.2,2.0C-1.0,1.7 -0.9,1.3 -0.8,1.0C-0.6,0.7 -0.4,0.2 -0.3,0.0Z" fill="url(#mg)"/>
<ellipse cx="-6.1" cy="9.3" rx="1.3" ry="0.9" fill="#b0b0b0" transform="rotate(30,-6.1,9.3)"/>
<ellipse cx="2.7" cy="18.0" rx="2.2" ry="2.6" fill="url(#tx)" opacity="0.15"/>
<ellipse cx="-1.0" cy="17.2" rx="2.3" ry="4.0" fill="url(#tx)" opacity="0.23"/>
<ellipse cx="-0.8" cy="26.2" rx="2.2" ry="3.0" fill="url(#tx)" opacity="0.22"/>
<ellipse cx="-2.6" cy="10.6" rx="3.2" ry="3.4" fill="url(#tx)" opacity="0.17"/>
</g>
<g transform="translate(36.00,0.32) rotate(2.3,0,21.2) scale(1.083,1.095)">
<path d="M3.6,30 L5.8,37.4 M-3.6,30 L-5.8,37.4 M0,32 L0,38" stroke="#b0b0b0" stroke-width="1.5" fill="none"/>
<path d="M0.4,0.0C0.5,0.2 0.9,0.7 1.0,1.0C1.1,1.3 1.1,1.7 1.2,2.0C1.2,2.3 1.3,2.7 1.4,3.0C1.5,3.3 1.6,3.7 1.7,4.0C1.8,4.3 2.1,4.7 2.2,5.0C2.4,5.3 2.4,5.7 2.6,6.0C2.7,6.3 2.9,6.7 3.0,7.0C3.2,7.3 3.4,7.7 3.5,8.0C3.6,8.3 3.5,8.7 3.7,9.0C3.8,9.3 4.3,9.5 4.4,10.0C4.6,10.5 4.5,11.3 4.7,12.0C4.8,12.7 5.3,13.2 5.4,14.0C5.6,14.8 5.5,15.8 5.6,17.0C5.7,18.2 5.9,19.7 6.0,21.0C6.2,22.3 6.5,23.8 6.6,25.0C6.7,26.2 6.5,27.2 6.5,28.0C6.4,28.8 6.2,29.4 6.1,30.0C5.9,30.6 6.0,31.1 5.6,31.5C5.3,31.9 4.4,32.2 3.9,32.5C3.4,32.8 3.0,33.1 2.5,33.3C2.0,33.5 1.4,33.7 0.9,33.8C0.5,33.9 0.2,33.9 -0.4,33.8C-0.9,33.7 -1.5,33.5 -2.2,33.3C-2.9,33.1 -3.9,32.8 -4.5,32.5C-5.0,32.2 -5.2,31.9 -5.4,31.5C-5.6,31.1 -5.6,30.6 -5.7,30.0C-5.9,29.4 -6.3,28.8 -6.4,28.0C-6.5,27.2 -6.6,26.2 -6.5,25.0C-6.4,23.8 -5.7,22.3 -5.6,21.0C-5.5,19.7 -6.0,18.2 -5.9,17.0C-5.9,15.8 -5.4,14.8 -5.3,14.0C-5.2,13.2 -5.5,12.7 -5.3,12.0C-5.1,11.3 -4.3,10.5 -4.1,10.0C-3.9,9.5 -4.2,9.3 -4.2,9.0C-4.1,8.7 -4.0,8.3 -3.8,8.0C-3.6,7.7 -3.3,7.3 -3.1,7.0C-2.9,6.7 -2.7,6.3 -2.5,6.0C-2.4,5.7 -2.2,5.3 -2.0,5.0C-1.9,4.7 -1.9,4.3 -1.8,4.0C-1.7,3.7 -1.6,3.3 -1.5,3.0C-1.3,2.7 -1.2,2.3 -1.1,2.0C-1.0,1.7 -1.0,1.3 -0.9,1.0C-0.7,0.7 -0.3,0.2 -0.2,0.0Z" fill="url(#mg)"/>
<ellipse cx="-5.7" cy="9.3" rx="1.3" ry="0.9" fill="#b0b0b0" transform="rotate(30,-5.7,9.3)"/>
<ellipse cx="2.1" cy="29.0" rx="3.0" ry="3.8" fill="url(#tx)" opacity="0.17"/>
<ellipse cx="2.8" cy="13.8" rx="2.2" ry="3.6" fill="url(#tx)" opacity="0.17"/>
<ellipse cx="0.4" cy="11.5" rx="2.1" ry="2.5" fill="url(#tx)" opacity="0.18"/>
<ellipse cx="-1.7" cy="26.1" rx="2.2" ry="2.9" fill="url(#tx)" opacity="0.21"/>
</g>
<g transform="translate(51.00,0.42) rotate(2.0,0,21.2) scale(1.034,1.095)">
<path d="M3.6,30 L5.8,37.4 M-3.6,30 L-5.8,37.4 M0,32 L0,38" stroke="#b0b0b0" stroke-width="1.5" fill="none"/>
<path d="M0.2,0.0C0.3,0.2 0.9,0.7 1.0,1.0C1.2,1.3 1.1,1.7 1.2,2.0C1.3,2.3 1.5,2.7 1.6,3.0C1.7,3.3 1.6,3.7 1.7,4.0C1.8,4.3 2.0,4.7 2.2,5.0C2.3,5.3 2.4,5.7 2.5,6.0C2.6,6.3 2.6,6.7 2.9,7.0C3.1,7.3 3.7,7.7 3.9,8.0C4.0,8.3 3.8,8.7 3.9,9.0C4.1,9.3 4.5,9.5 4.6,10.0C4.7,10.5 4.5,11.3 4.5,12.0C4.6,12.7 4.6,13.2 4.9,14.0C5.1,14.8 5.7,15.8 5.9,17.0C6.0,18.2 5.7,19.7 5.8,21.0C5.9,22.3 6.3,23.8 6.4,25.0C6.4,26.2 6.3,27.2 6.2,28.0C6.2,28.8 6.3,29.4 6.1,30.0C5.8,30.6 5.0,31.1 4.8,31.5C4.5,31.9 5.0,32.2 4.6,32.5C4.2,32.8 2.8,33.1 2.2,33.3C1.5,33.5 1.2,33.7 0.8,33.8C0.4,33.9 0.4,33.9 -0.2,33.8C-0.8,33.7 -2.1,33.5 -2.8,33.3C-3.5,33.1 -4.0,32.8 -4.3,32.5C-4.7,32.2 -4.6,31.9 -4.9,31.5C-5.1,31.1 -5.7,30.6 -5.9,30.0C-6.1,29.4 -5.9,28.8 -6.0,28.0C-6.1,27.2 -6.5,26.2 -6.6,25.0C-6.6,23.8 -6.4,22.3 -6.2,21.0C-6.1,19.7 -5.7,18.2 -5.6,17.0C-5.4,15.8 -5.4,14.8 -5.3,14.0C-5.2,13.2 -5.1,12.7 -5.0,12.0C-4.9,11.3 -4.9,10.5 -4.8,10.0C-4.6,9.5 -4.3,9.3 -4.1,9.0C-3.8,8.7 -3.6,8.3 -3.4,8.0C-3.2,7.7 -3.0,7.3 -2.9,7.0C-2.7,6.7 -2.7,6.3 -2.5,6.0C-2.4,5.7 -2.2,5.3 -2.1,5.0C-2.0,4.7 -1.8,4.3 -1.8,4.0C-1.7,3.7 -1.7,3.3 -1.6,3.0C-1.5,2.7 -1.3,2.3 -1.2,2.0C-1.1,1.7 -1.0,1.3 -0.8,1.0C-0.7,0.7 -0.4,0.2 -0.4,0.0Z" fill="url(#mg)"/>
<ellipse cx="5.9" cy="10.5" rx="1.3" ry="0.9" fill="#b0b0b0" transform="rotate(-30,5.9,10.5)"/>
<ellipse cx="-0.1" cy="16.3" rx="2.5" ry="3.8" fill="url(#tx)" opacity="0.24"/>
<ellipse cx="2.4" cy="29.8" rx="2.9" ry="3.5" fill="url(#tx)" opacity="0.17"/>
<ellipse cx="2.6" cy="28.4" rx="2.2" ry="4.1" fill="url(#tx)" opacity="0.17"/>
<ellipse cx="-2.8" cy="18.9" rx="3.1" ry="3.6" fill="url(#tx)" opacity="0.23"/>
</g>
</g>
</svg>
<text class="A" x="325.8" y="33.6" font-size="7.6" font-weight="bold" text-anchor="start" fill="#111" textLength="31.2" lengthAdjust="spacingAndGlyphs" stroke="#111" stroke-width="0.25">BM Only</text>
<text class="A" x="382.3" y="33.6" font-size="7.6" font-weight="bold" text-anchor="start" fill="#111" textLength="21.5" lengthAdjust="spacingAndGlyphs" stroke="#111" stroke-width="0.25">GVHD</text>
<text class="A" x="440.4" y="33.6" font-size="7.6" font-weight="bold" text-anchor="start" fill="#111" textLength="16.3" lengthAdjust="spacingAndGlyphs" stroke="#111" stroke-width="0.25">IL-23</text>
<text class="A" x="457.2" y="31.4" font-size="4.4" font-weight="bold" text-anchor="start" fill="#666" textLength="7.6" lengthAdjust="spacingAndGlyphs" >-/-</text>
<g transform="translate(312.2,69.2) rotate(-90)">
<text class="A" x="0" y="0" font-size="8.5" font-weight="bold" text-anchor="start" fill="#111" textLength="19.8" lengthAdjust="spacingAndGlyphs" stroke="#111" stroke-width="0.4">Day 5</text>
</g>
<g transform="translate(312.2,109.2) rotate(-90)">
<text class="A" x="0" y="0" font-size="8.5" font-weight="bold" text-anchor="start" fill="#111" textLength="23.2" lengthAdjust="spacingAndGlyphs" stroke="#111" stroke-width="0.4">Day 13</text>
</g>
<g transform="translate(312.2,151.6) rotate(-90)">
<text class="A" x="0" y="0" font-size="8.5" font-weight="bold" text-anchor="start" fill="#111" textLength="23.7" lengthAdjust="spacingAndGlyphs" stroke="#111" stroke-width="0.4">Day 17</text>
</g>
<g transform="translate(312.2,192.6) rotate(-90)">
<text class="A" x="0" y="0" font-size="8.5" font-weight="bold" text-anchor="start" fill="#111" textLength="24.0" lengthAdjust="spacingAndGlyphs" stroke="#111" stroke-width="0.4">Day 24</text>
</g>
<g transform="translate(312.2,233.1) rotate(-90)">
<text class="A" x="0" y="0" font-size="8.5" font-weight="bold" text-anchor="start" fill="#111" textLength="24.5" lengthAdjust="spacingAndGlyphs" stroke="#111" stroke-width="0.4">Day 32</text>
</g>
<g transform="translate(312.2,274.5) rotate(-90)">
<text class="A" x="0" y="0" font-size="8.5" font-weight="bold" text-anchor="start" fill="#111" textLength="23.8" lengthAdjust="spacingAndGlyphs" stroke="#111" stroke-width="0.4">Day 40</text>
</g>
<g transform="translate(312.2,318.7) rotate(-90)">
<text class="A" x="0" y="0" font-size="8.5" font-weight="bold" text-anchor="start" fill="#111" textLength="24.2" lengthAdjust="spacingAndGlyphs" stroke="#111" stroke-width="0.4">Day 60</text>
</g>
<text class="A" x="325.2" y="176.6" font-size="8.0" font-weight="bold" text-anchor="start" fill="#111" textLength="32.7" lengthAdjust="spacingAndGlyphs" stroke="#111" stroke-width="0.3">Death due</text>
<text class="A" x="321.7" y="184.6" font-size="8.0" font-weight="bold" text-anchor="start" fill="#111" textLength="38.1" lengthAdjust="spacingAndGlyphs" stroke="#111" stroke-width="0.3">to leukemia</text>
<text class="A" x="386.5" y="254.8" font-size="8.0" font-weight="bold" text-anchor="start" fill="#111" textLength="33.7" lengthAdjust="spacingAndGlyphs" stroke="#111" stroke-width="0.3">Death due</text>
<text class="A" x="390" y="263.6" font-size="8.0" font-weight="bold" text-anchor="start" fill="#111" textLength="26.6" lengthAdjust="spacingAndGlyphs" stroke="#111" stroke-width="0.3">to acute</text>
<text class="A" x="393.1" y="271.6" font-size="8.0" font-weight="bold" text-anchor="start" fill="#111" textLength="20.5" lengthAdjust="spacingAndGlyphs" stroke="#111" stroke-width="0.3">GVHD</text>
<path d="M369,212.5 V256.7 H383" stroke="#000" stroke-width="1.1" fill="none" />
<path d="M369,208.8 L366.9,213.6 L371.1,213.6 Z" fill="#000"/>
<line x1="401.2" y1="274.7" x2="401.2" y2="318.5" stroke="#000" stroke-width="1.4"/>
<path d="M401.2,322.5 L398.2,316.8 L404.2,316.8 Z" fill="#000"/>
<line x1="482.6" y1="83.8" x2="482.6" y2="277" stroke="#a4a4b4" stroke-width="1"/>
<rect x="486.6" y="87.2" width="9.4" height="188.6" fill="url(#cb)" stroke="#333" stroke-width="0.6"/>
<line x1="496" y1="274.9" x2="499.6" y2="274.9" stroke="#666" stroke-width="0.7"/>
<line x1="496" y1="265.12" x2="497.8" y2="265.12" stroke="#666" stroke-width="0.7"/>
<line x1="496" y1="255.34" x2="497.8" y2="255.34" stroke="#666" stroke-width="0.7"/>
<line x1="496" y1="245.56" x2="497.8" y2="245.56" stroke="#666" stroke-width="0.7"/>
<line x1="496" y1="235.78" x2="497.8" y2="235.78" stroke="#666" stroke-width="0.7"/>
<line x1="496" y1="226.0" x2="499.6" y2="226.0" stroke="#666" stroke-width="0.7"/>
<line x1="496" y1="216.22" x2="497.8" y2="216.22" stroke="#666" stroke-width="0.7"/>
<line x1="496" y1="206.44" x2="497.8" y2="206.44" stroke="#666" stroke-width="0.7"/>
<line x1="496" y1="196.66" x2="497.8" y2="196.66" stroke="#666" stroke-width="0.7"/>
<line x1="496" y1="186.88" x2="497.8" y2="186.88" stroke="#666" stroke-width="0.7"/>
<line x1="496" y1="177.1" x2="499.6" y2="177.1" stroke="#666" stroke-width="0.7"/>
<line x1="496" y1="167.32" x2="497.8" y2="167.32" stroke="#666" stroke-width="0.7"/>
<line x1="496" y1="157.54000000000002" x2="497.8" y2="157.54000000000002" stroke="#666" stroke-width="0.7"/>
<line x1="496" y1="147.76" x2="497.8" y2="147.76" stroke="#666" stroke-width="0.7"/>
<line x1="496" y1="137.98000000000002" x2="497.8" y2="137.98000000000002" stroke="#666" stroke-width="0.7"/>
<line x1="496" y1="128.2" x2="499.6" y2="128.2" stroke="#666" stroke-width="0.7"/>
<line x1="496" y1="118.42" x2="497.8" y2="118.42" stroke="#666" stroke-width="0.7"/>
<line x1="496" y1="108.64000000000001" x2="497.8" y2="108.64000000000001" stroke="#666" stroke-width="0.7"/>
<line x1="496" y1="98.86000000000001" x2="497.8" y2="98.86000000000001" stroke="#666" stroke-width="0.7"/>
<line x1="496" y1="89.08000000000001" x2="497.8" y2="89.08000000000001" stroke="#666" stroke-width="0.7"/>
<text class="A" x="500.6" y="131.5" font-size="7.0" font-weight="normal" text-anchor="start" fill="#666" textLength="7.2" lengthAdjust="spacingAndGlyphs" >15</text>
<text class="A" x="500.6" y="179.5" font-size="7.0" font-weight="normal" text-anchor="start" fill="#666" textLength="7.2" lengthAdjust="spacingAndGlyphs" >10</text>
<text class="A" x="500.8" y="228.6" font-size="7.0" font-weight="normal" text-anchor="start" fill="#666" textLength="3.6" lengthAdjust="spacingAndGlyphs" >5</text>
<g transform="translate(511.2,173.5) rotate(90)">
<text class="A" x="0" y="0" font-size="5.8" font-weight="normal" text-anchor="start" fill="#444" textLength="12.5" lengthAdjust="spacingAndGlyphs" >x10</text>
<text class="A" x="11.8" y="-3" font-size="4.6" font-weight="normal" text-anchor="start" fill="#444" >6</text>
</g>
</svg>
</body></html>
